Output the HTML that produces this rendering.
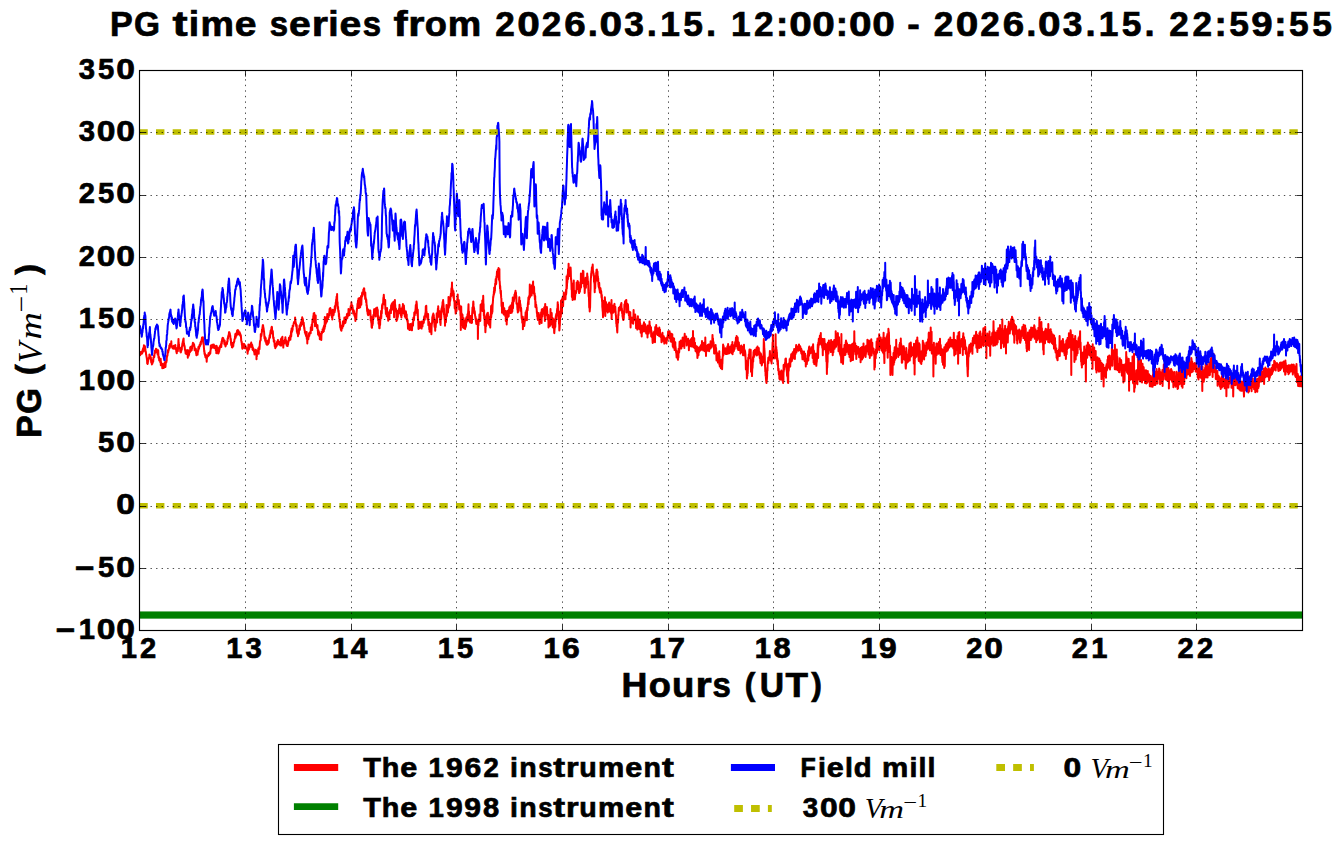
<!DOCTYPE html>
<html><head><meta charset="utf-8"><title>PG time series</title>
<style>
html,body{margin:0;padding:0;background:#fff;}
body{width:1341px;height:844px;overflow:hidden;}
svg{display:block;}
text{font-family:"Liberation Sans",sans-serif;font-weight:bold;fill:#000;}
.m{font-family:"Liberation Serif",serif;font-weight:normal;font-style:italic;}
.r{font-family:"Liberation Serif",serif;font-weight:normal;font-style:normal;}
</style></head><body>
<svg width="1341" height="844" viewBox="0 0 1341 844">
<rect width="1341" height="844" fill="#fff"/>
<defs><clipPath id="ax"><rect x="139.5" y="70.5" width="1163.0" height="560.0"/></clipPath></defs>
<g clip-path="url(#ax)" fill="none" stroke-linejoin="round">
<path d="M139.8 354.3 L139.9 353.3 L140.1 355.2 L140.2 353.3 L140.4 354.3 L140.6 354.5 L140.7 352.1 L140.9 352.4 L141.1 353.4 L141.2 353.2 L141.4 351.9 L141.6 353.2 L141.7 353.7 L141.9 352.7 L142.1 351.7 L142.2 353.3 L142.4 350.9 L142.6 350.0 L142.7 351.7 L142.9 350.7 L143.1 348.3 L143.2 350.0 L143.4 351.6 L143.6 347.7 L143.7 349.0 L143.9 345.2 L144.1 346.7 L144.2 347.3 L144.4 347.5 L144.6 349.1 L144.7 346.7 L144.9 346.1 L145.1 349.1 L145.2 348.0 L145.4 349.5 L145.6 351.6 L145.7 351.9 L145.9 351.8 L146.1 354.7 L146.2 354.5 L146.4 355.8 L146.6 357.3 L146.7 357.3 L146.9 359.2 L147.1 360.7 L147.2 363.4 L147.4 361.8 L147.6 363.3 L147.7 364.0 L147.9 362.2 L148.1 361.0 L148.2 361.2 L148.4 358.4 L148.6 359.3 L148.7 358.9 L148.9 357.8 L149.1 357.3 L149.2 358.4 L149.4 354.4 L149.6 355.5 L149.7 354.7 L149.9 357.2 L150.0 355.7 L150.2 356.6 L150.4 357.8 L150.5 358.1 L150.7 356.9 L150.9 357.8 L151.0 359.8 L151.2 362.3 L151.4 360.6 L151.5 361.2 L151.7 362.8 L151.9 364.4 L152.0 363.5 L152.2 363.7 L152.4 363.6 L152.5 362.4 L152.7 361.2 L152.9 361.0 L153.0 359.7 L153.2 361.8 L153.4 357.9 L153.5 357.2 L153.7 356.9 L153.9 356.3 L154.0 355.5 L154.2 357.2 L154.4 356.1 L154.5 353.1 L154.7 353.6 L154.9 353.3 L155.0 350.5 L155.2 351.8 L155.4 352.5 L155.5 352.2 L155.7 351.2 L155.9 352.1 L156.0 348.8 L156.2 350.2 L156.4 352.3 L156.5 349.1 L156.7 349.6 L156.9 352.0 L157.0 349.9 L157.2 350.1 L157.4 353.1 L157.5 353.3 L157.7 354.5 L157.9 353.6 L158.0 354.2 L158.2 350.3 L158.4 354.6 L158.5 357.7 L158.7 357.5 L158.9 356.7 L159.0 357.4 L159.2 360.5 L159.4 359.2 L159.5 359.2 L159.7 360.6 L159.8 360.7 L160.0 360.2 L160.2 359.2 L160.3 362.5 L160.5 361.9 L160.7 358.7 L160.8 365.2 L161.0 364.3 L161.2 362.3 L161.3 364.8 L161.5 364.0 L161.7 364.6 L161.8 364.9 L162.0 365.1 L162.2 365.3 L162.3 368.3 L162.5 367.2 L162.7 363.9 L162.8 366.7 L163.0 365.3 L163.2 364.4 L163.3 365.1 L163.5 367.4 L163.7 364.3 L163.8 367.9 L164.0 365.5 L164.2 367.1 L164.3 365.6 L164.5 366.6 L164.7 362.2 L164.8 365.6 L165.0 365.6 L165.2 364.5 L165.3 366.2 L165.5 367.0 L165.7 362.8 L165.8 361.9 L166.0 363.1 L166.2 361.0 L166.3 362.4 L166.5 359.7 L166.7 361.0 L166.8 356.1 L167.0 357.1 L167.2 355.8 L167.3 355.8 L167.5 355.3 L167.7 352.3 L167.8 351.4 L168.0 350.2 L168.2 352.4 L168.3 349.7 L168.5 351.2 L168.7 349.3 L168.8 349.9 L169.0 348.1 L169.2 348.3 L169.3 345.5 L169.5 346.0 L169.6 348.1 L169.8 346.7 L170.0 344.1 L170.1 344.4 L170.3 344.7 L170.5 344.5 L170.6 346.6 L170.8 346.6 L171.0 346.6 L171.1 344.5 L171.3 341.2 L171.5 346.4 L171.6 346.8 L171.8 346.9 L172.0 346.2 L172.1 346.1 L172.3 346.6 L172.5 346.5 L172.6 348.2 L172.8 347.1 L173.0 347.2 L173.1 346.4 L173.3 348.7 L173.5 347.9 L173.6 345.9 L173.8 345.7 L174.0 346.1 L174.1 346.3 L174.3 347.0 L174.5 345.9 L174.6 345.9 L174.8 348.2 L175.0 347.5 L175.1 349.0 L175.3 345.1 L175.5 346.9 L175.6 347.3 L175.8 348.6 L176.0 348.2 L176.1 349.0 L176.3 351.5 L176.5 352.1 L176.6 352.9 L176.8 353.2 L177.0 349.2 L177.1 350.3 L177.3 350.6 L177.5 349.7 L177.6 347.8 L177.8 351.1 L178.0 348.4 L178.1 345.8 L178.3 343.5 L178.5 338.9 L178.6 342.7 L178.8 345.1 L179.0 344.2 L179.1 347.0 L179.3 346.9 L179.4 347.3 L179.6 347.8 L179.8 348.9 L179.9 347.7 L180.1 349.4 L180.3 351.7 L180.4 351.3 L180.6 351.9 L180.8 351.1 L180.9 352.4 L181.1 351.2 L181.3 349.0 L181.4 350.7 L181.6 348.2 L181.8 349.4 L181.9 346.8 L182.1 346.1 L182.3 344.3 L182.4 343.6 L182.6 342.9 L182.8 342.3 L182.9 341.2 L183.1 341.6 L183.3 339.2 L183.4 340.8 L183.6 338.5 L183.8 345.1 L183.9 343.0 L184.1 344.1 L184.3 346.3 L184.4 345.6 L184.6 346.0 L184.8 347.9 L184.9 349.4 L185.1 350.1 L185.3 351.1 L185.4 350.8 L185.6 353.4 L185.8 349.7 L185.9 352.1 L186.1 352.2 L186.3 353.9 L186.4 350.8 L186.6 353.8 L186.8 352.8 L186.9 352.0 L187.1 352.3 L187.3 354.0 L187.4 351.6 L187.6 353.2 L187.8 357.8 L187.9 350.0 L188.1 352.2 L188.3 351.9 L188.4 353.7 L188.6 351.3 L188.8 355.6 L188.9 353.6 L189.1 354.6 L189.2 352.7 L189.4 352.4 L189.6 351.0 L189.7 352.5 L189.9 351.9 L190.1 352.1 L190.2 347.2 L190.4 350.6 L190.6 351.4 L190.7 350.9 L190.9 350.5 L191.1 350.6 L191.2 346.6 L191.4 350.4 L191.6 348.6 L191.7 350.2 L191.9 348.1 L192.1 348.5 L192.2 346.4 L192.4 346.3 L192.6 344.9 L192.7 344.2 L192.9 342.8 L193.1 343.2 L193.2 344.3 L193.4 344.1 L193.6 343.5 L193.7 344.5 L193.9 345.2 L194.1 344.4 L194.2 345.7 L194.4 346.2 L194.6 350.2 L194.7 347.5 L194.9 349.5 L195.1 348.6 L195.2 349.3 L195.4 350.3 L195.6 350.9 L195.7 350.0 L195.9 349.0 L196.1 353.5 L196.2 351.0 L196.4 355.2 L196.6 353.8 L196.7 355.2 L196.9 353.4 L197.1 354.0 L197.2 351.5 L197.4 354.6 L197.6 354.6 L197.7 352.6 L197.9 350.4 L198.1 351.7 L198.2 349.5 L198.4 346.9 L198.6 349.8 L198.7 349.2 L198.9 346.6 L199.0 348.8 L199.2 347.8 L199.4 345.8 L199.5 346.2 L199.7 344.6 L199.9 345.6 L200.0 345.8 L200.2 345.8 L200.4 344.3 L200.5 342.5 L200.7 342.4 L200.9 344.1 L201.0 341.4 L201.2 341.9 L201.4 341.4 L201.5 341.0 L201.7 339.3 L201.9 338.9 L202.0 337.4 L202.2 338.6 L202.4 337.9 L202.5 338.5 L202.7 337.7 L202.9 337.4 L203.0 340.0 L203.2 341.9 L203.4 343.8 L203.5 343.7 L203.7 343.5 L203.9 347.5 L204.0 348.4 L204.2 351.7 L204.4 350.8 L204.5 353.9 L204.7 353.1 L204.9 353.4 L205.0 355.4 L205.2 355.5 L205.4 357.0 L205.5 357.0 L205.7 354.8 L205.9 357.6 L206.0 357.2 L206.2 358.0 L206.4 358.4 L206.5 357.8 L206.7 361.8 L206.9 355.8 L207.0 358.2 L207.2 355.5 L207.4 356.0 L207.5 355.6 L207.7 356.2 L207.9 355.3 L208.0 356.2 L208.2 356.0 L208.4 355.5 L208.5 353.2 L208.7 355.5 L208.8 355.4 L209.0 354.3 L209.2 355.0 L209.3 354.7 L209.5 352.5 L209.7 354.3 L209.8 352.7 L210.0 352.8 L210.2 351.4 L210.3 353.4 L210.5 350.6 L210.7 349.5 L210.8 345.4 L211.0 348.2 L211.2 347.0 L211.3 346.4 L211.5 347.9 L211.7 348.1 L211.8 346.8 L212.0 346.8 L212.2 344.7 L212.3 346.9 L212.5 344.8 L212.7 344.7 L212.8 345.6 L213.0 345.6 L213.2 346.6 L213.3 346.8 L213.5 346.3 L213.7 347.7 L213.8 344.5 L214.0 345.3 L214.2 346.9 L214.3 348.0 L214.5 347.2 L214.7 346.0 L214.8 347.3 L215.0 346.5 L215.2 346.6 L215.3 346.8 L215.5 346.9 L215.7 349.1 L215.8 350.1 L216.0 349.2 L216.2 345.7 L216.3 353.3 L216.5 348.2 L216.7 350.5 L216.8 346.1 L217.0 350.5 L217.2 351.4 L217.3 350.8 L217.5 350.1 L217.7 347.7 L217.8 352.0 L218.0 353.1 L218.2 353.4 L218.3 351.9 L218.5 353.4 L218.6 352.6 L218.8 352.5 L219.0 351.2 L219.1 351.6 L219.3 349.9 L219.5 349.6 L219.6 348.0 L219.8 346.2 L220.0 347.9 L220.1 347.4 L220.3 346.0 L220.5 345.4 L220.6 345.7 L220.8 346.4 L221.0 344.0 L221.1 344.7 L221.3 346.9 L221.5 341.7 L221.6 342.1 L221.8 343.8 L222.0 339.9 L222.1 340.7 L222.3 338.5 L222.5 338.2 L222.6 337.9 L222.8 338.5 L223.0 339.1 L223.1 337.9 L223.3 338.3 L223.5 339.6 L223.6 340.8 L223.8 339.7 L224.0 341.1 L224.1 341.0 L224.3 343.2 L224.5 344.4 L224.6 340.4 L224.8 342.2 L225.0 344.6 L225.1 344.3 L225.3 342.9 L225.5 346.4 L225.6 346.2 L225.8 345.0 L226.0 343.4 L226.1 343.9 L226.3 343.1 L226.5 343.2 L226.6 344.4 L226.8 344.2 L227.0 343.5 L227.1 341.5 L227.3 341.2 L227.5 341.7 L227.6 338.6 L227.8 338.1 L228.0 338.8 L228.1 336.6 L228.3 336.7 L228.4 335.3 L228.6 335.3 L228.8 335.0 L228.9 333.0 L229.1 332.1 L229.3 332.3 L229.4 334.7 L229.6 333.5 L229.8 333.3 L229.9 336.3 L230.1 334.8 L230.3 336.2 L230.4 337.6 L230.6 339.9 L230.8 338.8 L230.9 340.1 L231.1 343.8 L231.3 345.1 L231.4 342.6 L231.6 342.6 L231.8 342.8 L231.9 347.2 L232.1 344.8 L232.3 347.4 L232.4 344.0 L232.6 345.9 L232.8 346.9 L232.9 346.4 L233.1 345.4 L233.3 346.1 L233.4 343.8 L233.6 342.2 L233.8 342.2 L233.9 342.9 L234.1 341.4 L234.3 341.5 L234.4 339.9 L234.6 339.4 L234.8 338.6 L234.9 337.9 L235.1 336.8 L235.3 334.1 L235.4 337.6 L235.6 337.8 L235.8 335.7 L235.9 336.1 L236.1 334.3 L236.3 334.5 L236.4 335.7 L236.6 332.5 L236.8 334.9 L236.9 334.2 L237.1 330.5 L237.3 332.4 L237.4 334.6 L237.6 331.1 L237.8 332.2 L237.9 330.0 L238.1 332.7 L238.2 332.6 L238.4 333.6 L238.6 331.1 L238.7 332.6 L238.9 333.2 L239.1 332.0 L239.2 333.1 L239.4 334.7 L239.6 333.3 L239.7 332.2 L239.9 334.0 L240.1 333.7 L240.2 333.7 L240.4 335.8 L240.6 334.8 L240.7 335.0 L240.9 335.8 L241.1 338.4 L241.2 340.9 L241.4 341.2 L241.6 342.5 L241.7 341.5 L241.9 344.9 L242.1 344.6 L242.2 347.7 L242.4 348.8 L242.6 347.2 L242.7 343.5 L242.9 348.1 L243.1 347.1 L243.2 346.7 L243.4 346.0 L243.6 345.9 L243.7 347.2 L243.9 346.6 L244.1 347.7 L244.2 344.1 L244.4 346.3 L244.6 348.2 L244.7 347.2 L244.9 345.1 L245.1 347.3 L245.2 346.2 L245.4 346.4 L245.6 346.6 L245.7 346.3 L245.9 347.7 L246.1 348.6 L246.2 348.1 L246.4 347.9 L246.6 349.0 L246.7 347.9 L246.9 349.0 L247.1 349.0 L247.2 350.9 L247.4 350.2 L247.6 353.7 L247.7 350.8 L247.9 351.9 L248.0 350.2 L248.2 349.7 L248.4 344.5 L248.5 350.1 L248.7 348.1 L248.9 348.4 L249.0 348.6 L249.2 349.0 L249.4 345.3 L249.5 347.5 L249.7 347.1 L249.9 345.7 L250.0 345.9 L250.2 346.0 L250.4 346.2 L250.5 344.1 L250.7 344.1 L250.9 346.7 L251.0 344.1 L251.2 342.5 L251.4 345.6 L251.5 344.8 L251.7 344.9 L251.9 344.5 L252.0 347.2 L252.2 344.9 L252.4 346.2 L252.5 349.4 L252.7 347.4 L252.9 347.5 L253.0 350.2 L253.2 349.4 L253.4 349.2 L253.5 348.7 L253.7 350.5 L253.9 350.3 L254.0 352.0 L254.2 350.9 L254.4 353.2 L254.5 354.4 L254.7 354.3 L254.9 352.1 L255.0 351.8 L255.2 351.2 L255.4 351.1 L255.5 352.5 L255.7 349.8 L255.9 352.0 L256.0 351.8 L256.2 350.3 L256.4 352.3 L256.5 359.3 L256.7 352.9 L256.9 356.3 L257.0 352.1 L257.2 351.4 L257.4 352.5 L257.5 351.9 L257.7 353.1 L257.8 350.9 L258.0 351.7 L258.2 349.6 L258.3 348.2 L258.5 349.8 L258.7 353.7 L258.8 349.4 L259.0 348.2 L259.2 347.5 L259.3 346.7 L259.5 349.1 L259.7 345.6 L259.8 344.1 L260.0 341.7 L260.2 341.2 L260.3 340.5 L260.5 340.6 L260.7 340.0 L260.8 334.1 L261.0 335.5 L261.2 336.6 L261.3 335.5 L261.5 335.3 L261.7 333.5 L261.8 332.6 L262.0 329.6 L262.2 329.3 L262.3 329.4 L262.5 327.2 L262.7 326.1 L262.8 325.2 L263.0 325.1 L263.2 326.2 L263.3 327.9 L263.5 327.8 L263.7 329.2 L263.8 331.8 L264.0 331.0 L264.2 333.4 L264.3 335.4 L264.5 338.5 L264.7 336.9 L264.8 336.4 L265.0 338.0 L265.2 341.0 L265.3 339.0 L265.5 341.7 L265.7 338.1 L265.8 339.2 L266.0 340.7 L266.2 341.9 L266.3 343.9 L266.5 340.5 L266.7 342.7 L266.8 344.3 L267.0 344.7 L267.2 343.9 L267.3 344.8 L267.5 343.8 L267.6 344.6 L267.8 344.4 L268.0 342.5 L268.1 343.8 L268.3 341.6 L268.5 340.0 L268.6 342.1 L268.8 343.0 L269.0 339.0 L269.1 339.1 L269.3 337.5 L269.5 338.1 L269.6 335.8 L269.8 335.0 L270.0 337.6 L270.1 336.5 L270.3 332.7 L270.5 333.3 L270.6 330.7 L270.8 333.3 L271.0 330.1 L271.1 329.7 L271.3 330.0 L271.5 327.2 L271.6 328.9 L271.8 326.7 L272.0 327.6 L272.1 330.8 L272.3 332.7 L272.5 332.9 L272.6 334.1 L272.8 331.1 L273.0 334.0 L273.1 337.1 L273.3 338.4 L273.5 338.2 L273.6 337.4 L273.8 341.6 L274.0 340.0 L274.1 341.3 L274.3 341.3 L274.5 340.8 L274.6 344.7 L274.8 346.4 L275.0 346.5 L275.1 345.6 L275.3 348.2 L275.5 346.6 L275.6 343.7 L275.8 346.3 L276.0 347.0 L276.1 343.6 L276.3 344.8 L276.5 344.8 L276.6 344.6 L276.8 345.8 L277.0 342.2 L277.1 341.8 L277.3 342.6 L277.4 343.2 L277.6 341.6 L277.8 340.3 L277.9 340.0 L278.1 344.3 L278.3 342.3 L278.4 341.5 L278.6 341.4 L278.8 343.1 L278.9 343.0 L279.1 343.0 L279.3 342.6 L279.4 343.4 L279.6 344.7 L279.8 342.6 L279.9 344.6 L280.1 341.7 L280.3 344.7 L280.4 345.4 L280.6 343.7 L280.8 341.9 L280.9 339.0 L281.1 345.6 L281.3 339.9 L281.4 339.9 L281.6 338.0 L281.8 338.8 L281.9 339.2 L282.1 337.6 L282.3 341.3 L282.4 336.7 L282.6 341.7 L282.8 342.2 L282.9 342.0 L283.1 344.1 L283.3 347.6 L283.4 344.8 L283.6 344.6 L283.8 342.8 L283.9 343.2 L284.1 340.8 L284.3 343.2 L284.4 340.9 L284.6 341.0 L284.8 340.4 L284.9 339.6 L285.1 338.9 L285.3 338.2 L285.4 337.3 L285.6 340.2 L285.8 340.0 L285.9 340.1 L286.1 340.3 L286.3 344.3 L286.4 342.3 L286.6 345.5 L286.8 345.5 L286.9 343.8 L287.1 345.9 L287.2 344.8 L287.4 344.7 L287.6 344.6 L287.7 346.0 L287.9 342.5 L288.1 344.5 L288.2 341.1 L288.4 342.0 L288.6 342.0 L288.7 341.1 L288.9 337.7 L289.1 339.5 L289.2 337.7 L289.4 340.2 L289.6 338.8 L289.7 337.3 L289.9 339.4 L290.1 338.3 L290.2 335.8 L290.4 339.7 L290.6 335.5 L290.7 336.1 L290.9 333.5 L291.1 331.1 L291.2 336.4 L291.4 332.5 L291.6 328.5 L291.7 330.6 L291.9 329.8 L292.1 331.7 L292.2 329.3 L292.4 328.7 L292.6 329.9 L292.7 325.4 L292.9 326.4 L293.1 325.9 L293.2 326.3 L293.4 325.1 L293.6 324.4 L293.7 323.2 L293.9 322.6 L294.1 323.4 L294.2 321.7 L294.4 322.1 L294.6 323.0 L294.7 321.9 L294.9 322.2 L295.1 317.6 L295.2 319.1 L295.4 320.5 L295.6 322.3 L295.7 323.1 L295.9 323.1 L296.1 325.8 L296.2 326.3 L296.4 325.0 L296.6 328.1 L296.7 324.9 L296.9 332.0 L297.0 329.9 L297.2 331.3 L297.4 333.4 L297.5 331.6 L297.7 331.5 L297.9 334.0 L298.0 336.2 L298.2 334.7 L298.4 331.3 L298.5 331.5 L298.7 333.5 L298.9 333.9 L299.0 328.8 L299.2 329.3 L299.4 329.1 L299.5 325.8 L299.7 328.7 L299.9 329.7 L300.0 327.3 L300.2 324.6 L300.4 324.8 L300.5 325.0 L300.7 323.1 L300.9 322.7 L301.0 322.4 L301.2 323.6 L301.4 325.8 L301.5 321.9 L301.7 320.1 L301.9 320.2 L302.0 319.6 L302.2 317.3 L302.4 320.0 L302.5 318.2 L302.7 320.3 L302.9 319.3 L303.0 320.9 L303.2 324.1 L303.4 323.0 L303.5 322.7 L303.7 322.6 L303.9 325.3 L304.0 325.6 L304.2 328.5 L304.4 327.8 L304.5 330.2 L304.7 330.1 L304.9 332.7 L305.0 333.1 L305.2 332.4 L305.4 332.5 L305.5 333.9 L305.7 334.7 L305.9 333.8 L306.0 336.0 L306.2 334.6 L306.4 331.9 L306.5 336.9 L306.7 332.0 L306.8 339.0 L307.0 336.7 L307.2 337.2 L307.3 343.5 L307.5 336.4 L307.7 339.9 L307.8 338.5 L308.0 338.1 L308.2 339.1 L308.3 339.4 L308.5 337.3 L308.7 336.9 L308.8 335.4 L309.0 333.6 L309.2 333.0 L309.3 335.9 L309.5 334.1 L309.7 332.4 L309.8 332.9 L310.0 333.6 L310.2 332.1 L310.3 332.7 L310.5 332.7 L310.7 333.2 L310.8 327.2 L311.0 330.0 L311.2 330.2 L311.3 329.6 L311.5 329.2 L311.7 324.6 L311.8 324.5 L312.0 326.7 L312.2 330.0 L312.3 323.0 L312.5 320.4 L312.7 318.9 L312.8 321.4 L313.0 322.1 L313.2 319.9 L313.3 316.1 L313.5 317.4 L313.7 313.3 L313.8 313.5 L314.0 313.5 L314.2 313.5 L314.3 313.0 L314.5 317.7 L314.7 318.7 L314.8 315.2 L315.0 326.2 L315.2 321.6 L315.3 320.0 L315.5 320.9 L315.7 315.6 L315.8 324.2 L316.0 322.7 L316.2 325.7 L316.3 325.4 L316.5 325.7 L316.6 326.0 L316.8 324.8 L317.0 327.9 L317.1 328.1 L317.3 326.4 L317.5 325.3 L317.6 327.7 L317.8 330.6 L318.0 331.7 L318.1 334.6 L318.3 330.2 L318.5 331.3 L318.6 333.3 L318.8 332.9 L319.0 332.0 L319.1 335.7 L319.3 336.3 L319.5 335.0 L319.6 335.3 L319.8 339.2 L320.0 336.9 L320.1 335.6 L320.3 338.7 L320.5 334.1 L320.6 337.0 L320.8 336.0 L321.0 335.0 L321.1 335.1 L321.3 340.0 L321.5 333.2 L321.6 331.7 L321.8 333.6 L322.0 333.0 L322.1 332.3 L322.3 332.2 L322.5 330.9 L322.6 329.3 L322.8 329.3 L323.0 332.1 L323.1 330.4 L323.3 330.6 L323.5 327.2 L323.6 330.8 L323.8 331.4 L324.0 326.3 L324.1 325.6 L324.3 326.1 L324.5 329.0 L324.6 328.1 L324.8 317.0 L325.0 326.7 L325.1 326.4 L325.3 322.6 L325.5 324.3 L325.6 322.3 L325.8 323.0 L326.0 323.2 L326.1 320.7 L326.3 318.0 L326.4 322.5 L326.6 321.5 L326.8 316.9 L326.9 321.5 L327.1 321.2 L327.3 313.9 L327.4 319.0 L327.6 316.9 L327.8 317.6 L327.9 318.9 L328.1 317.0 L328.3 316.3 L328.4 314.6 L328.6 317.2 L328.8 315.3 L328.9 315.6 L329.1 315.5 L329.3 311.9 L329.4 312.9 L329.6 308.9 L329.8 313.3 L329.9 308.5 L330.1 312.0 L330.3 308.1 L330.4 311.8 L330.6 308.7 L330.8 312.8 L330.9 313.4 L331.1 310.3 L331.3 315.4 L331.4 314.9 L331.6 312.1 L331.8 312.9 L331.9 317.2 L332.1 312.2 L332.3 319.4 L332.4 316.0 L332.6 311.9 L332.8 309.7 L332.9 315.3 L333.1 314.0 L333.3 312.8 L333.4 315.3 L333.6 314.9 L333.8 311.5 L333.9 311.1 L334.1 311.1 L334.3 310.8 L334.4 310.5 L334.6 312.2 L334.8 306.3 L334.9 311.0 L335.1 308.7 L335.3 305.5 L335.4 306.8 L335.6 305.1 L335.8 302.3 L335.9 304.6 L336.1 300.8 L336.2 299.4 L336.4 299.8 L336.6 296.6 L336.7 299.2 L336.9 301.5 L337.1 294.1 L337.2 300.8 L337.4 303.1 L337.6 302.2 L337.7 308.7 L337.9 307.5 L338.1 306.9 L338.2 310.2 L338.4 311.8 L338.6 310.6 L338.7 311.5 L338.9 316.7 L339.1 313.7 L339.2 318.7 L339.4 317.1 L339.6 321.8 L339.7 320.8 L339.9 321.0 L340.1 324.4 L340.2 327.1 L340.4 325.1 L340.6 328.4 L340.7 328.3 L340.9 330.0 L341.1 327.3 L341.2 327.1 L341.4 330.8 L341.6 329.4 L341.7 326.3 L341.9 327.3 L342.1 326.3 L342.2 325.7 L342.4 327.9 L342.6 325.4 L342.7 323.7 L342.9 321.7 L343.1 321.2 L343.2 326.1 L343.4 323.7 L343.6 324.2 L343.7 324.7 L343.9 321.1 L344.1 321.1 L344.2 321.3 L344.4 317.6 L344.6 317.8 L344.7 319.5 L344.9 318.5 L345.1 319.3 L345.2 320.6 L345.4 322.9 L345.6 321.7 L345.7 317.6 L345.9 317.1 L346.0 320.3 L346.2 317.9 L346.4 318.8 L346.5 318.2 L346.7 318.8 L346.9 314.2 L347.0 317.6 L347.2 313.8 L347.4 318.0 L347.5 315.0 L347.7 314.3 L347.9 316.3 L348.0 315.9 L348.2 314.4 L348.4 315.6 L348.5 309.0 L348.7 313.9 L348.9 313.9 L349.0 312.3 L349.2 314.0 L349.4 315.3 L349.5 315.0 L349.7 310.2 L349.9 309.3 L350.0 309.3 L350.2 310.6 L350.4 309.9 L350.5 308.8 L350.7 306.1 L350.9 307.1 L351.0 308.6 L351.2 309.1 L351.4 302.2 L351.5 305.6 L351.7 304.4 L351.9 306.3 L352.0 305.6 L352.2 306.3 L352.4 305.6 L352.5 308.1 L352.7 307.6 L352.9 311.4 L353.0 310.0 L353.2 313.6 L353.4 311.7 L353.5 311.9 L353.7 310.2 L353.9 310.8 L354.0 313.2 L354.2 311.9 L354.4 315.8 L354.5 314.3 L354.7 313.9 L354.9 315.6 L355.0 317.2 L355.2 316.6 L355.4 321.0 L355.5 320.1 L355.7 318.3 L355.8 317.8 L356.0 313.7 L356.2 318.8 L356.3 318.1 L356.5 314.2 L356.7 311.5 L356.8 310.8 L357.0 308.4 L357.2 308.0 L357.3 307.6 L357.5 303.8 L357.7 304.2 L357.8 303.7 L358.0 300.5 L358.2 300.9 L358.3 303.2 L358.5 298.4 L358.7 307.9 L358.8 303.6 L359.0 304.9 L359.2 306.2 L359.3 297.9 L359.5 307.8 L359.7 306.8 L359.8 300.6 L360.0 302.2 L360.2 307.3 L360.3 303.8 L360.5 303.9 L360.7 300.7 L360.8 302.0 L361.0 296.1 L361.2 296.9 L361.3 304.7 L361.5 298.9 L361.7 296.2 L361.8 297.2 L362.0 294.2 L362.2 292.5 L362.3 296.1 L362.5 293.3 L362.7 293.6 L362.8 295.0 L363.0 292.7 L363.2 293.5 L363.3 289.8 L363.5 289.3 L363.7 290.8 L363.8 291.7 L364.0 288.3 L364.2 288.4 L364.3 290.6 L364.5 292.8 L364.7 293.9 L364.8 292.2 L365.0 295.5 L365.2 299.0 L365.3 292.5 L365.5 297.8 L365.6 298.3 L365.8 298.0 L366.0 300.7 L366.1 302.3 L366.3 299.7 L366.5 303.5 L366.6 305.8 L366.8 305.3 L367.0 307.8 L367.1 310.5 L367.3 311.5 L367.5 311.6 L367.6 313.1 L367.8 314.4 L368.0 312.1 L368.1 315.2 L368.3 309.6 L368.5 312.8 L368.6 312.9 L368.8 312.9 L369.0 311.2 L369.1 313.2 L369.3 310.8 L369.5 311.9 L369.6 311.1 L369.8 314.6 L370.0 313.6 L370.1 311.7 L370.3 310.6 L370.5 314.1 L370.6 315.9 L370.8 320.7 L371.0 320.1 L371.1 316.5 L371.3 323.0 L371.5 323.2 L371.6 327.1 L371.8 326.4 L372.0 327.8 L372.1 324.3 L372.3 323.5 L372.5 325.1 L372.6 324.0 L372.8 323.7 L373.0 316.7 L373.1 318.3 L373.3 315.1 L373.5 318.5 L373.6 316.6 L373.8 316.1 L374.0 313.3 L374.1 309.3 L374.3 313.7 L374.5 315.1 L374.6 311.1 L374.8 313.5 L375.0 312.0 L375.1 313.2 L375.3 310.2 L375.4 308.8 L375.6 313.0 L375.8 316.5 L375.9 308.3 L376.1 308.8 L376.3 311.0 L376.4 309.4 L376.6 311.9 L376.8 309.3 L376.9 311.1 L377.1 307.6 L377.3 308.8 L377.4 311.8 L377.6 310.5 L377.8 310.0 L377.9 316.8 L378.1 320.2 L378.3 316.4 L378.4 316.0 L378.6 323.8 L378.8 321.7 L378.9 325.0 L379.1 324.5 L379.3 328.2 L379.4 321.9 L379.6 328.3 L379.8 321.6 L379.9 323.9 L380.1 325.0 L380.3 317.5 L380.4 320.2 L380.6 317.0 L380.8 317.9 L380.9 317.3 L381.1 311.0 L381.3 317.9 L381.4 310.8 L381.6 313.8 L381.8 313.2 L381.9 308.1 L382.1 305.0 L382.3 308.6 L382.4 308.5 L382.6 303.9 L382.8 303.6 L382.9 303.5 L383.1 304.4 L383.3 298.6 L383.4 298.4 L383.6 297.3 L383.8 294.8 L383.9 296.8 L384.1 299.3 L384.3 300.8 L384.4 304.4 L384.6 303.8 L384.8 301.8 L384.9 303.8 L385.1 304.7 L385.2 300.1 L385.4 309.0 L385.6 309.7 L385.7 308.1 L385.9 313.9 L386.1 310.5 L386.2 308.1 L386.4 310.5 L386.6 313.9 L386.7 316.0 L386.9 316.4 L387.1 307.9 L387.2 316.0 L387.4 311.2 L387.6 315.8 L387.7 312.3 L387.9 317.3 L388.1 318.3 L388.2 320.8 L388.4 317.2 L388.6 319.9 L388.7 318.4 L388.9 318.1 L389.1 314.1 L389.2 312.4 L389.4 318.9 L389.6 312.0 L389.7 312.3 L389.9 312.0 L390.1 310.1 L390.2 312.0 L390.4 310.9 L390.6 309.5 L390.7 309.7 L390.9 313.1 L391.1 305.5 L391.2 306.8 L391.4 308.3 L391.6 304.2 L391.7 307.5 L391.9 304.7 L392.1 303.3 L392.2 307.4 L392.4 309.6 L392.6 304.2 L392.7 308.7 L392.9 308.6 L393.1 306.0 L393.2 306.0 L393.4 301.7 L393.6 306.6 L393.7 309.0 L393.9 309.3 L394.1 317.3 L394.2 306.9 L394.4 304.8 L394.6 307.8 L394.7 307.4 L394.9 300.0 L395.0 305.9 L395.2 304.7 L395.4 311.2 L395.5 308.7 L395.7 311.2 L395.9 308.4 L396.0 312.0 L396.2 309.7 L396.4 314.4 L396.5 320.9 L396.7 319.2 L396.9 317.7 L397.0 316.5 L397.2 319.6 L397.4 317.8 L397.5 316.3 L397.7 313.5 L397.9 317.0 L398.0 310.5 L398.2 312.2 L398.4 312.0 L398.5 311.0 L398.7 313.5 L398.9 312.8 L399.0 308.8 L399.2 311.1 L399.4 308.2 L399.5 304.8 L399.7 307.9 L399.9 308.6 L400.0 311.2 L400.2 310.8 L400.4 309.4 L400.5 308.4 L400.7 314.5 L400.9 315.7 L401.0 312.5 L401.2 315.9 L401.4 317.5 L401.5 312.0 L401.7 315.8 L401.9 311.8 L402.0 311.6 L402.2 309.1 L402.4 307.1 L402.5 308.7 L402.7 313.0 L402.9 304.0 L403.0 307.6 L403.2 307.1 L403.4 307.2 L403.5 307.5 L403.7 308.5 L403.9 305.5 L404.0 307.6 L404.2 309.6 L404.4 314.4 L404.5 312.5 L404.7 311.7 L404.8 316.6 L405.0 314.2 L405.2 314.6 L405.3 313.9 L405.5 317.6 L405.7 315.2 L405.8 311.3 L406.0 312.3 L406.2 315.2 L406.3 318.4 L406.5 317.4 L406.7 314.6 L406.8 319.8 L407.0 319.9 L407.2 318.7 L407.3 320.1 L407.5 321.9 L407.7 320.3 L407.8 323.8 L408.0 328.7 L408.2 323.8 L408.3 327.8 L408.5 326.3 L408.7 324.8 L408.8 327.3 L409.0 327.9 L409.2 329.1 L409.3 329.6 L409.5 330.0 L409.7 326.4 L409.8 325.9 L410.0 329.8 L410.2 324.1 L410.3 329.4 L410.5 329.5 L410.7 329.2 L410.8 324.8 L411.0 326.5 L411.2 324.6 L411.3 330.1 L411.5 325.8 L411.7 326.1 L411.8 329.0 L412.0 330.3 L412.2 323.2 L412.3 323.6 L412.5 323.3 L412.7 325.0 L412.8 324.0 L413.0 325.6 L413.2 320.1 L413.3 318.4 L413.5 317.5 L413.7 320.4 L413.8 319.2 L414.0 320.1 L414.2 315.2 L414.3 312.4 L414.5 313.4 L414.6 312.8 L414.8 315.3 L415.0 311.7 L415.1 312.9 L415.3 311.2 L415.5 309.6 L415.6 308.8 L415.8 305.0 L416.0 308.2 L416.1 312.8 L416.3 305.6 L416.5 301.6 L416.6 302.3 L416.8 304.1 L417.0 308.6 L417.1 308.1 L417.3 312.0 L417.5 315.4 L417.6 313.3 L417.8 309.7 L418.0 320.3 L418.1 319.3 L418.3 321.2 L418.5 328.9 L418.6 322.2 L418.8 325.1 L419.0 322.5 L419.1 325.6 L419.3 328.2 L419.5 323.7 L419.6 326.3 L419.8 322.1 L420.0 323.2 L420.1 327.7 L420.3 323.9 L420.5 323.4 L420.6 326.4 L420.8 326.7 L421.0 326.5 L421.1 322.0 L421.3 321.6 L421.5 326.0 L421.6 328.6 L421.8 322.2 L422.0 324.9 L422.1 323.7 L422.3 324.8 L422.5 326.5 L422.6 321.9 L422.8 323.4 L423.0 322.9 L423.1 321.1 L423.3 323.4 L423.5 323.0 L423.6 321.0 L423.8 322.7 L424.0 318.0 L424.1 317.8 L424.3 316.3 L424.4 319.4 L424.6 316.4 L424.8 319.8 L424.9 316.9 L425.1 315.3 L425.3 313.8 L425.4 312.9 L425.6 314.8 L425.8 306.3 L425.9 313.8 L426.1 311.5 L426.3 305.8 L426.4 312.0 L426.6 311.7 L426.8 315.5 L426.9 316.9 L427.1 317.3 L427.3 315.3 L427.4 317.3 L427.6 319.3 L427.8 316.9 L427.9 316.4 L428.1 313.9 L428.3 322.4 L428.4 325.1 L428.6 322.8 L428.8 324.9 L428.9 321.6 L429.1 323.8 L429.3 329.4 L429.4 323.0 L429.6 331.8 L429.8 325.7 L429.9 323.4 L430.1 327.6 L430.3 328.3 L430.4 330.2 L430.6 331.7 L430.8 329.1 L430.9 330.7 L431.1 329.2 L431.3 329.0 L431.4 334.3 L431.6 326.8 L431.8 324.1 L431.9 323.2 L432.1 323.1 L432.3 317.1 L432.4 320.9 L432.6 317.5 L432.8 315.1 L432.9 317.9 L433.1 320.9 L433.3 313.5 L433.4 316.4 L433.6 316.7 L433.8 314.9 L433.9 322.1 L434.1 321.3 L434.2 318.0 L434.4 324.5 L434.6 327.0 L434.7 323.2 L434.9 324.5 L435.1 326.6 L435.2 330.8 L435.4 324.9 L435.6 327.4 L435.7 327.3 L435.9 323.7 L436.1 322.5 L436.2 320.3 L436.4 319.5 L436.6 319.6 L436.7 313.2 L436.9 319.1 L437.1 322.6 L437.2 317.9 L437.4 313.1 L437.6 313.5 L437.7 312.1 L437.9 308.5 L438.1 316.9 L438.2 306.3 L438.4 311.3 L438.6 311.6 L438.7 311.1 L438.9 316.2 L439.1 312.3 L439.2 312.3 L439.4 316.0 L439.6 315.7 L439.7 311.2 L439.9 315.0 L440.1 316.1 L440.2 323.1 L440.4 318.1 L440.6 324.9 L440.7 316.6 L440.9 315.5 L441.1 319.4 L441.2 318.6 L441.4 309.1 L441.6 313.0 L441.7 307.9 L441.9 311.9 L442.1 306.1 L442.2 308.0 L442.4 305.6 L442.6 302.0 L442.7 306.6 L442.9 304.4 L443.1 300.0 L443.2 302.0 L443.4 303.3 L443.6 305.3 L443.7 308.1 L443.9 314.1 L444.0 308.6 L444.2 314.4 L444.4 317.2 L444.5 314.6 L444.7 319.1 L444.9 320.8 L445.0 325.8 L445.2 319.5 L445.4 320.9 L445.5 318.1 L445.7 315.7 L445.9 322.2 L446.0 320.4 L446.2 313.9 L446.4 314.1 L446.5 305.1 L446.7 315.0 L446.9 316.0 L447.0 311.9 L447.2 312.9 L447.4 310.5 L447.5 308.5 L447.7 308.7 L447.9 312.5 L448.0 312.3 L448.2 307.5 L448.4 305.6 L448.5 297.0 L448.7 307.8 L448.9 307.3 L449.0 301.8 L449.2 303.7 L449.4 302.9 L449.5 302.4 L449.7 305.4 L449.9 299.1 L450.0 301.2 L450.2 300.8 L450.4 299.2 L450.5 296.1 L450.7 296.0 L450.9 293.7 L451.0 296.3 L451.2 295.9 L451.4 288.6 L451.5 290.7 L451.7 288.2 L451.9 286.0 L452.0 282.5 L452.2 295.1 L452.4 290.8 L452.5 289.0 L452.7 295.5 L452.9 291.3 L453.0 295.8 L453.2 294.1 L453.4 291.1 L453.5 297.6 L453.7 298.3 L453.8 293.3 L454.0 300.2 L454.2 300.7 L454.3 301.5 L454.5 301.9 L454.7 308.1 L454.8 305.8 L455.0 300.9 L455.2 307.3 L455.3 309.6 L455.5 310.3 L455.7 313.6 L455.8 312.2 L456.0 310.9 L456.2 307.3 L456.3 310.4 L456.5 311.1 L456.7 307.0 L456.8 302.4 L457.0 302.2 L457.2 303.9 L457.3 298.9 L457.5 301.0 L457.7 294.4 L457.8 298.1 L458.0 303.2 L458.2 303.4 L458.3 302.1 L458.5 303.9 L458.7 304.2 L458.8 300.1 L459.0 303.2 L459.2 309.4 L459.3 305.3 L459.5 307.2 L459.7 305.6 L459.8 306.5 L460.0 308.2 L460.2 307.8 L460.3 308.6 L460.5 315.4 L460.7 309.2 L460.8 329.9 L461.0 316.1 L461.2 306.5 L461.3 312.9 L461.5 325.0 L461.7 315.6 L461.8 313.6 L462.0 317.0 L462.2 319.0 L462.3 317.0 L462.5 314.7 L462.7 320.9 L462.8 318.8 L463.0 327.4 L463.2 322.8 L463.3 321.6 L463.5 318.0 L463.6 322.4 L463.8 321.9 L464.0 328.2 L464.1 320.8 L464.3 322.3 L464.5 321.4 L464.6 323.1 L464.8 323.0 L465.0 327.6 L465.1 328.9 L465.3 324.5 L465.5 325.6 L465.6 327.1 L465.8 319.3 L466.0 326.4 L466.1 321.2 L466.3 317.7 L466.5 322.8 L466.6 316.9 L466.8 319.3 L467.0 318.8 L467.1 319.2 L467.3 320.8 L467.5 314.3 L467.6 315.9 L467.8 316.0 L468.0 314.0 L468.1 312.7 L468.3 309.3 L468.5 304.3 L468.6 310.4 L468.8 316.1 L469.0 311.6 L469.1 315.5 L469.3 321.2 L469.5 318.9 L469.6 317.6 L469.8 319.4 L470.0 317.8 L470.1 322.4 L470.3 320.3 L470.5 320.9 L470.6 316.1 L470.8 320.5 L471.0 320.6 L471.1 322.8 L471.3 317.6 L471.5 323.0 L471.6 322.1 L471.8 319.2 L472.0 322.7 L472.1 314.5 L472.3 311.3 L472.5 307.4 L472.6 310.9 L472.8 308.0 L473.0 308.3 L473.1 304.6 L473.3 301.4 L473.4 302.3 L473.6 305.9 L473.8 307.8 L473.9 308.9 L474.1 308.0 L474.3 313.4 L474.4 311.4 L474.6 310.9 L474.8 311.7 L474.9 313.2 L475.1 316.1 L475.3 316.2 L475.4 318.3 L475.6 317.1 L475.8 320.2 L475.9 321.2 L476.1 322.1 L476.3 324.0 L476.4 319.0 L476.6 321.2 L476.8 319.6 L476.9 323.8 L477.1 322.9 L477.3 322.5 L477.4 322.4 L477.6 320.7 L477.8 324.4 L477.9 339.1 L478.1 325.3 L478.3 322.5 L478.4 325.4 L478.6 322.2 L478.8 321.6 L478.9 320.3 L479.1 318.8 L479.3 321.3 L479.4 314.7 L479.6 314.3 L479.8 317.9 L479.9 321.1 L480.1 314.4 L480.3 320.8 L480.4 316.1 L480.6 304.7 L480.8 305.7 L480.9 307.9 L481.1 304.2 L481.3 309.2 L481.4 307.1 L481.6 304.5 L481.8 306.0 L481.9 306.5 L482.1 307.4 L482.3 300.4 L482.4 310.9 L482.6 301.1 L482.8 300.0 L482.9 302.9 L483.1 300.9 L483.2 295.7 L483.4 303.6 L483.6 304.0 L483.7 309.6 L483.9 316.0 L484.1 310.3 L484.2 318.4 L484.4 316.1 L484.6 316.0 L484.7 325.5 L484.9 323.7 L485.1 325.7 L485.2 325.5 L485.4 332.3 L485.6 327.0 L485.7 326.3 L485.9 325.8 L486.1 326.2 L486.2 322.9 L486.4 320.3 L486.6 317.9 L486.7 314.8 L486.9 317.5 L487.1 316.9 L487.2 313.2 L487.4 314.7 L487.6 313.2 L487.7 315.5 L487.9 312.8 L488.1 320.3 L488.2 323.5 L488.4 316.2 L488.6 316.9 L488.7 321.8 L488.9 324.1 L489.1 317.0 L489.2 324.5 L489.4 325.4 L489.6 324.4 L489.7 324.1 L489.9 323.7 L490.1 321.6 L490.2 327.6 L490.4 322.0 L490.6 314.6 L490.7 319.9 L490.9 313.8 L491.1 306.0 L491.2 317.2 L491.4 313.1 L491.6 312.6 L491.7 312.5 L491.9 307.3 L492.1 313.4 L492.2 304.4 L492.4 312.0 L492.6 305.3 L492.7 304.1 L492.9 301.8 L493.0 300.2 L493.2 296.6 L493.4 297.2 L493.5 294.7 L493.7 295.7 L493.9 291.3 L494.0 294.3 L494.2 287.5 L494.4 290.1 L494.5 292.6 L494.7 289.1 L494.9 290.9 L495.0 288.0 L495.2 283.4 L495.4 283.0 L495.5 282.4 L495.7 279.0 L495.9 283.1 L496.0 284.4 L496.2 283.5 L496.4 276.5 L496.5 277.1 L496.7 277.2 L496.9 273.0 L497.0 271.4 L497.2 274.7 L497.4 275.5 L497.5 272.1 L497.7 269.8 L497.9 276.5 L498.0 272.8 L498.2 271.8 L498.4 268.6 L498.5 268.1 L498.7 277.5 L498.9 279.6 L499.0 278.2 L499.2 273.5 L499.4 269.1 L499.5 281.1 L499.7 281.3 L499.9 285.0 L500.0 288.5 L500.2 286.1 L500.4 290.4 L500.5 291.8 L500.7 293.6 L500.9 290.7 L501.0 294.4 L501.2 297.9 L501.4 298.6 L501.5 305.3 L501.7 306.5 L501.9 304.8 L502.0 312.7 L502.2 310.5 L502.4 310.7 L502.5 307.8 L502.7 308.5 L502.8 310.4 L503.0 302.8 L503.2 310.3 L503.3 307.2 L503.5 309.6 L503.7 314.4 L503.8 311.2 L504.0 310.3 L504.2 313.4 L504.3 308.3 L504.5 313.6 L504.7 312.7 L504.8 312.7 L505.0 314.4 L505.2 315.4 L505.3 316.2 L505.5 310.9 L505.7 314.5 L505.8 321.1 L506.0 315.0 L506.2 320.9 L506.3 316.6 L506.5 313.8 L506.7 324.4 L506.8 320.0 L507.0 320.7 L507.2 313.3 L507.3 315.3 L507.5 310.7 L507.7 314.0 L507.8 313.8 L508.0 315.2 L508.2 312.5 L508.3 316.8 L508.5 313.1 L508.7 316.3 L508.8 312.7 L509.0 309.4 L509.2 312.1 L509.3 307.3 L509.5 310.1 L509.7 312.0 L509.8 312.0 L510.0 310.6 L510.2 308.3 L510.3 310.8 L510.5 305.6 L510.7 313.1 L510.8 312.5 L511.0 308.2 L511.2 312.0 L511.3 311.7 L511.5 310.1 L511.7 312.7 L511.8 309.7 L512.0 303.9 L512.2 302.5 L512.3 311.5 L512.5 306.8 L512.6 303.1 L512.8 297.4 L513.0 308.3 L513.1 304.8 L513.3 297.7 L513.5 300.0 L513.6 299.8 L513.8 301.5 L514.0 298.0 L514.1 299.9 L514.3 297.7 L514.5 294.4 L514.6 297.7 L514.8 297.4 L515.0 293.3 L515.1 292.6 L515.3 294.4 L515.5 290.8 L515.6 292.0 L515.8 294.0 L516.0 292.8 L516.1 297.1 L516.3 295.9 L516.5 303.8 L516.6 303.8 L516.8 303.6 L517.0 304.4 L517.1 303.2 L517.3 307.2 L517.5 309.8 L517.6 305.9 L517.8 312.5 L518.0 309.4 L518.1 306.0 L518.3 308.1 L518.5 311.4 L518.6 304.0 L518.8 304.8 L519.0 303.9 L519.1 300.7 L519.3 297.3 L519.5 301.3 L519.6 303.4 L519.8 301.4 L520.0 300.8 L520.1 306.7 L520.3 303.8 L520.5 305.6 L520.6 308.2 L520.8 311.0 L521.0 309.7 L521.1 307.7 L521.3 311.3 L521.5 315.8 L521.6 317.3 L521.8 318.8 L522.0 316.4 L522.1 316.5 L522.3 322.8 L522.4 317.4 L522.6 322.8 L522.8 316.8 L522.9 329.2 L523.1 318.4 L523.3 322.4 L523.4 321.6 L523.6 319.8 L523.8 326.0 L523.9 324.7 L524.1 323.9 L524.3 325.9 L524.4 324.6 L524.6 322.8 L524.8 321.2 L524.9 321.2 L525.1 319.2 L525.3 316.0 L525.4 318.6 L525.6 312.3 L525.8 312.3 L525.9 314.7 L526.1 313.9 L526.3 314.8 L526.4 310.5 L526.6 311.4 L526.8 309.8 L526.9 320.2 L527.1 307.7 L527.3 310.3 L527.4 307.7 L527.6 310.2 L527.8 305.8 L527.9 303.7 L528.1 302.0 L528.3 300.3 L528.4 297.6 L528.6 304.1 L528.8 297.0 L528.9 297.5 L529.1 299.1 L529.3 295.6 L529.4 297.4 L529.6 296.1 L529.8 284.5 L529.9 297.4 L530.1 294.7 L530.3 293.5 L530.4 287.8 L530.6 292.0 L530.8 289.6 L530.9 292.7 L531.1 291.2 L531.3 293.2 L531.4 286.2 L531.6 295.5 L531.8 291.1 L531.9 285.7 L532.1 286.3 L532.2 285.1 L532.4 285.2 L532.6 285.1 L532.7 285.7 L532.9 284.0 L533.1 281.5 L533.2 287.6 L533.4 286.0 L533.6 289.0 L533.7 293.4 L533.9 286.5 L534.1 287.6 L534.2 292.3 L534.4 293.3 L534.6 296.1 L534.7 293.5 L534.9 299.1 L535.1 299.6 L535.2 296.1 L535.4 307.0 L535.6 301.8 L535.7 305.0 L535.9 307.2 L536.1 305.5 L536.2 304.7 L536.4 308.3 L536.6 307.5 L536.7 309.9 L536.9 313.2 L537.1 311.9 L537.2 316.3 L537.4 316.8 L537.6 317.1 L537.7 319.1 L537.9 319.9 L538.1 316.9 L538.2 316.4 L538.4 318.4 L538.6 319.1 L538.7 313.1 L538.9 319.3 L539.1 318.2 L539.2 319.0 L539.4 323.2 L539.6 324.1 L539.7 315.0 L539.9 322.5 L540.1 320.7 L540.2 315.5 L540.4 318.8 L540.6 320.0 L540.7 317.1 L540.9 318.3 L541.1 312.2 L541.2 316.0 L541.4 313.0 L541.6 322.9 L541.7 309.7 L541.9 312.0 L542.0 310.7 L542.2 309.1 L542.4 316.4 L542.5 314.3 L542.7 311.2 L542.9 310.1 L543.0 310.6 L543.2 309.7 L543.4 313.0 L543.5 312.4 L543.7 313.8 L543.9 312.1 L544.0 312.5 L544.2 307.2 L544.4 313.6 L544.5 312.1 L544.7 312.7 L544.9 320.9 L545.0 309.0 L545.2 303.9 L545.4 309.5 L545.5 312.7 L545.7 312.3 L545.9 311.1 L546.0 307.1 L546.2 310.9 L546.4 309.4 L546.5 315.3 L546.7 311.7 L546.9 307.0 L547.0 309.3 L547.2 311.0 L547.4 315.4 L547.5 319.2 L547.7 319.1 L547.9 315.3 L548.0 318.4 L548.2 319.8 L548.4 315.1 L548.5 327.4 L548.7 320.0 L548.9 325.1 L549.0 326.6 L549.2 317.5 L549.4 326.2 L549.5 325.5 L549.7 321.5 L549.9 326.0 L550.0 323.4 L550.2 321.9 L550.4 322.6 L550.5 308.9 L550.7 324.8 L550.9 318.9 L551.0 319.7 L551.2 313.4 L551.4 319.8 L551.5 317.9 L551.7 313.1 L551.8 317.7 L552.0 321.9 L552.2 321.2 L552.3 318.4 L552.5 319.6 L552.7 327.3 L552.8 318.2 L553.0 322.8 L553.2 325.5 L553.3 327.4 L553.5 319.3 L553.7 328.6 L553.8 328.5 L554.0 327.3 L554.2 332.9 L554.3 333.1 L554.5 329.9 L554.7 328.4 L554.8 323.4 L555.0 322.9 L555.2 322.4 L555.3 326.9 L555.5 318.0 L555.7 321.7 L555.8 316.1 L556.0 317.5 L556.2 314.0 L556.3 314.6 L556.5 319.1 L556.7 315.4 L556.8 314.8 L557.0 310.9 L557.2 308.7 L557.3 308.8 L557.5 309.4 L557.7 302.2 L557.8 306.1 L558.0 304.4 L558.2 311.2 L558.3 311.1 L558.5 313.5 L558.7 316.2 L558.8 316.4 L559.0 323.9 L559.2 322.8 L559.3 330.5 L559.5 329.4 L559.7 325.2 L559.8 325.9 L560.0 320.3 L560.2 317.2 L560.3 311.2 L560.5 312.3 L560.7 312.3 L560.8 316.7 L561.0 300.6 L561.2 310.8 L561.3 306.5 L561.5 308.4 L561.6 311.9 L561.8 303.6 L562.0 313.6 L562.1 299.0 L562.3 299.6 L562.5 302.4 L562.6 297.2 L562.8 297.7 L563.0 296.6 L563.1 306.2 L563.3 298.6 L563.5 297.7 L563.6 299.1 L563.8 292.6 L564.0 299.0 L564.1 298.6 L564.3 299.4 L564.5 299.0 L564.6 298.8 L564.8 298.6 L565.0 295.8 L565.1 298.7 L565.3 295.4 L565.5 299.2 L565.6 295.3 L565.8 295.3 L566.0 289.7 L566.1 294.4 L566.3 292.6 L566.5 286.7 L566.6 276.2 L566.8 288.7 L567.0 285.2 L567.1 283.3 L567.3 282.1 L567.5 278.4 L567.6 274.6 L567.8 278.0 L568.0 269.3 L568.1 279.0 L568.3 273.1 L568.5 272.7 L568.6 263.7 L568.8 272.4 L569.0 270.5 L569.1 272.2 L569.3 276.1 L569.5 275.1 L569.6 271.0 L569.8 270.0 L570.0 268.3 L570.1 274.6 L570.3 268.1 L570.5 273.2 L570.6 267.6 L570.8 271.4 L571.0 279.4 L571.1 278.6 L571.3 281.5 L571.4 283.3 L571.6 289.8 L571.8 283.2 L571.9 297.1 L572.1 289.5 L572.3 294.3 L572.4 294.2 L572.6 300.0 L572.8 292.1 L572.9 293.9 L573.1 292.1 L573.3 296.5 L573.4 296.4 L573.6 290.4 L573.8 280.6 L573.9 293.7 L574.1 299.3 L574.3 292.7 L574.4 291.6 L574.6 295.5 L574.8 294.6 L574.9 299.4 L575.1 296.7 L575.3 295.0 L575.4 292.2 L575.6 290.9 L575.8 293.1 L575.9 293.1 L576.1 293.0 L576.3 290.2 L576.4 291.4 L576.6 282.5 L576.8 287.9 L576.9 285.4 L577.1 283.0 L577.3 289.0 L577.4 284.5 L577.6 280.9 L577.8 287.3 L577.9 283.6 L578.1 282.0 L578.3 286.7 L578.4 286.3 L578.6 282.3 L578.8 289.1 L578.9 291.0 L579.1 293.1 L579.3 285.1 L579.4 291.2 L579.6 291.3 L579.8 288.4 L579.9 291.7 L580.1 286.7 L580.3 288.7 L580.4 288.9 L580.6 287.3 L580.8 284.4 L580.9 273.5 L581.1 287.2 L581.2 278.4 L581.4 281.9 L581.6 283.8 L581.7 278.3 L581.9 280.9 L582.1 283.3 L582.2 278.3 L582.4 278.8 L582.6 276.7 L582.7 276.0 L582.9 270.8 L583.1 274.8 L583.2 273.7 L583.4 271.2 L583.6 283.2 L583.7 281.4 L583.9 282.9 L584.1 283.3 L584.2 286.6 L584.4 279.4 L584.6 285.9 L584.7 292.9 L584.9 288.1 L585.1 287.4 L585.2 287.1 L585.4 283.3 L585.6 277.7 L585.7 286.7 L585.9 287.8 L586.1 283.0 L586.2 281.7 L586.4 279.1 L586.6 279.4 L586.7 283.9 L586.9 277.4 L587.1 278.3 L587.2 273.5 L587.4 277.7 L587.6 276.6 L587.7 279.6 L587.9 281.6 L588.1 281.6 L588.2 283.5 L588.4 291.4 L588.6 294.9 L588.7 296.4 L588.9 296.0 L589.1 302.0 L589.2 307.3 L589.4 308.1 L589.6 305.1 L589.7 311.5 L589.9 308.7 L590.1 307.4 L590.2 301.2 L590.4 291.9 L590.6 288.3 L590.7 281.4 L590.9 278.0 L591.0 277.3 L591.2 273.3 L591.4 273.2 L591.5 271.1 L591.7 271.3 L591.9 267.3 L592.0 271.3 L592.2 268.4 L592.4 269.9 L592.5 267.7 L592.7 264.5 L592.9 269.8 L593.0 272.0 L593.2 271.6 L593.4 273.6 L593.5 275.6 L593.7 273.7 L593.9 276.8 L594.0 282.1 L594.2 280.9 L594.4 283.4 L594.5 282.7 L594.7 292.2 L594.9 286.7 L595.0 282.6 L595.2 288.3 L595.4 280.2 L595.5 282.6 L595.7 275.9 L595.9 280.0 L596.0 281.0 L596.2 272.4 L596.4 275.5 L596.5 269.8 L596.7 273.7 L596.9 269.6 L597.0 272.5 L597.2 272.7 L597.4 276.9 L597.5 271.6 L597.7 280.2 L597.9 276.2 L598.0 281.3 L598.2 278.3 L598.4 284.3 L598.5 284.8 L598.7 286.8 L598.9 283.4 L599.0 288.1 L599.2 282.8 L599.4 287.7 L599.5 289.9 L599.7 289.9 L599.9 292.3 L600.0 287.8 L600.2 292.7 L600.4 290.7 L600.5 288.3 L600.7 293.0 L600.8 290.1 L601.0 293.8 L601.2 291.2 L601.3 293.0 L601.5 297.0 L601.7 298.0 L601.8 294.9 L602.0 301.1 L602.2 299.9 L602.3 306.6 L602.5 308.7 L602.7 311.5 L602.8 311.5 L603.0 317.3 L603.2 314.5 L603.3 309.7 L603.5 311.0 L603.7 308.3 L603.8 310.4 L604.0 300.8 L604.2 305.0 L604.3 304.9 L604.5 301.4 L604.7 300.7 L604.8 297.2 L605.0 299.2 L605.2 305.3 L605.3 315.9 L605.5 305.3 L605.7 304.4 L605.8 305.8 L606.0 302.1 L606.2 303.9 L606.3 308.0 L606.5 307.0 L606.7 308.8 L606.8 305.0 L607.0 311.0 L607.2 306.9 L607.3 308.3 L607.5 306.0 L607.7 312.6 L607.8 307.3 L608.0 306.2 L608.2 304.3 L608.3 304.4 L608.5 305.5 L608.7 311.1 L608.8 303.6 L609.0 308.6 L609.2 302.4 L609.3 311.4 L609.5 303.9 L609.7 308.1 L609.8 304.3 L610.0 305.3 L610.2 306.7 L610.3 306.5 L610.5 307.2 L610.7 309.3 L610.8 312.5 L611.0 309.1 L611.1 313.8 L611.3 310.9 L611.5 300.0 L611.6 319.0 L611.8 311.2 L612.0 310.5 L612.1 305.3 L612.3 307.6 L612.5 306.3 L612.6 307.1 L612.8 309.7 L613.0 310.5 L613.1 312.7 L613.3 309.2 L613.5 308.6 L613.6 308.3 L613.8 312.1 L614.0 311.4 L614.1 305.1 L614.3 304.5 L614.5 303.9 L614.6 307.5 L614.8 311.0 L615.0 308.0 L615.1 308.8 L615.3 306.7 L615.5 311.1 L615.6 311.2 L615.8 315.1 L616.0 315.6 L616.1 319.1 L616.3 323.9 L616.5 320.4 L616.6 326.5 L616.8 326.7 L617.0 326.2 L617.1 330.5 L617.3 332.5 L617.5 325.4 L617.6 322.5 L617.8 321.3 L618.0 322.6 L618.1 320.7 L618.3 314.3 L618.5 315.5 L618.6 312.1 L618.8 307.8 L619.0 310.5 L619.1 308.7 L619.3 310.6 L619.5 308.2 L619.6 307.4 L619.8 306.8 L620.0 307.9 L620.1 309.8 L620.3 308.6 L620.5 308.0 L620.6 305.8 L620.8 304.6 L620.9 308.4 L621.1 305.9 L621.3 304.6 L621.4 303.1 L621.6 311.0 L621.8 308.2 L621.9 308.7 L622.1 313.2 L622.3 311.1 L622.4 314.6 L622.6 317.0 L622.8 316.3 L622.9 318.4 L623.1 319.2 L623.3 319.2 L623.4 320.1 L623.6 319.4 L623.8 317.7 L623.9 312.9 L624.1 315.0 L624.3 308.5 L624.4 304.5 L624.6 304.3 L624.8 306.1 L624.9 304.7 L625.1 301.3 L625.3 302.7 L625.4 302.5 L625.6 305.8 L625.8 304.1 L625.9 301.6 L626.1 300.0 L626.3 300.0 L626.4 312.5 L626.6 302.9 L626.8 304.9 L626.9 304.3 L627.1 305.5 L627.3 304.4 L627.4 303.7 L627.6 304.0 L627.8 309.8 L627.9 304.4 L628.1 306.7 L628.3 312.2 L628.4 310.5 L628.6 314.0 L628.8 313.3 L628.9 315.4 L629.1 314.6 L629.3 311.7 L629.4 318.4 L629.6 314.3 L629.8 317.6 L629.9 317.1 L630.1 318.5 L630.3 312.3 L630.4 316.9 L630.6 327.6 L630.7 320.8 L630.9 317.3 L631.1 322.9 L631.2 322.3 L631.4 320.7 L631.6 319.3 L631.7 320.4 L631.9 318.3 L632.1 322.3 L632.2 319.3 L632.4 320.3 L632.6 317.5 L632.7 323.3 L632.9 321.5 L633.1 317.2 L633.2 323.7 L633.4 317.3 L633.6 310.0 L633.7 315.3 L633.9 318.8 L634.1 319.9 L634.2 316.6 L634.4 319.6 L634.6 317.0 L634.7 319.1 L634.9 319.2 L635.1 319.6 L635.2 314.6 L635.4 316.6 L635.6 320.6 L635.7 318.6 L635.9 320.6 L636.1 328.2 L636.2 325.8 L636.4 322.3 L636.6 323.6 L636.7 327.0 L636.9 326.0 L637.1 324.2 L637.2 323.4 L637.4 329.6 L637.6 328.0 L637.7 321.7 L637.9 316.2 L638.1 326.7 L638.2 324.4 L638.4 328.2 L638.6 321.2 L638.7 321.9 L638.9 325.5 L639.1 322.8 L639.2 328.7 L639.4 327.2 L639.6 329.2 L639.7 319.5 L639.9 322.1 L640.1 328.4 L640.2 323.3 L640.4 329.5 L640.5 324.7 L640.7 332.7 L640.9 326.8 L641.0 327.7 L641.2 330.4 L641.4 329.6 L641.5 328.2 L641.7 336.5 L641.9 328.0 L642.0 326.1 L642.2 332.3 L642.4 330.1 L642.5 328.0 L642.7 327.9 L642.9 330.6 L643.0 331.6 L643.2 330.5 L643.4 324.3 L643.5 328.0 L643.7 326.5 L643.9 329.9 L644.0 322.2 L644.2 327.4 L644.4 328.5 L644.5 327.2 L644.7 327.9 L644.9 331.5 L645.0 330.0 L645.2 324.2 L645.4 331.3 L645.5 330.9 L645.7 326.0 L645.9 328.3 L646.0 327.8 L646.2 333.5 L646.4 327.3 L646.5 328.9 L646.7 331.8 L646.9 328.3 L647.0 329.0 L647.2 332.9 L647.4 329.0 L647.5 337.4 L647.7 329.2 L647.9 325.5 L648.0 331.9 L648.2 329.5 L648.4 331.5 L648.5 330.8 L648.7 333.4 L648.9 331.2 L649.0 326.4 L649.2 330.4 L649.4 328.1 L649.5 321.4 L649.7 325.9 L649.9 331.6 L650.0 325.4 L650.2 329.4 L650.3 327.8 L650.5 330.4 L650.7 327.5 L650.8 330.4 L651.0 327.3 L651.2 336.6 L651.3 334.0 L651.5 331.0 L651.7 334.3 L651.8 337.0 L652.0 335.8 L652.2 334.3 L652.3 334.8 L652.5 339.9 L652.7 343.0 L652.8 333.8 L653.0 337.6 L653.2 337.1 L653.3 337.6 L653.5 338.5 L653.7 341.7 L653.8 332.6 L654.0 332.0 L654.2 331.5 L654.3 335.9 L654.5 331.5 L654.7 333.4 L654.8 332.1 L655.0 342.2 L655.2 327.0 L655.3 328.6 L655.5 329.6 L655.7 334.0 L655.8 330.1 L656.0 332.3 L656.2 325.0 L656.3 329.9 L656.5 333.0 L656.7 333.1 L656.8 329.9 L657.0 328.5 L657.2 328.1 L657.3 330.3 L657.5 334.9 L657.7 330.0 L657.8 332.7 L658.0 334.7 L658.2 331.5 L658.3 329.8 L658.5 329.9 L658.7 333.3 L658.8 333.5 L659.0 332.6 L659.2 336.3 L659.3 327.5 L659.5 333.3 L659.7 334.0 L659.8 334.5 L660.0 329.6 L660.1 335.0 L660.3 334.5 L660.5 333.9 L660.6 335.4 L660.8 337.0 L661.0 337.4 L661.1 335.1 L661.3 336.8 L661.5 342.2 L661.6 338.3 L661.8 340.1 L662.0 335.8 L662.1 339.3 L662.3 338.9 L662.5 332.8 L662.6 337.4 L662.8 337.4 L663.0 337.3 L663.1 336.6 L663.3 340.7 L663.5 339.6 L663.6 341.8 L663.8 336.3 L664.0 342.0 L664.1 339.4 L664.3 343.6 L664.5 341.6 L664.6 341.8 L664.8 339.5 L665.0 342.1 L665.1 338.2 L665.3 342.6 L665.5 342.4 L665.6 341.4 L665.8 341.8 L666.0 341.1 L666.1 342.5 L666.3 340.9 L666.5 343.4 L666.6 338.0 L666.8 340.7 L667.0 339.7 L667.1 337.4 L667.3 337.2 L667.5 339.4 L667.6 336.4 L667.8 335.0 L668.0 336.1 L668.1 331.6 L668.3 334.3 L668.5 332.8 L668.6 336.4 L668.8 333.7 L669.0 336.4 L669.1 334.7 L669.3 336.3 L669.5 337.7 L669.6 331.3 L669.8 338.2 L669.9 332.8 L670.1 336.0 L670.3 337.5 L670.4 337.1 L670.6 341.4 L670.8 334.5 L670.9 336.8 L671.1 336.2 L671.3 334.0 L671.4 338.9 L671.6 333.7 L671.8 340.5 L671.9 336.9 L672.1 342.2 L672.3 334.2 L672.4 341.5 L672.6 342.8 L672.8 346.4 L672.9 342.1 L673.1 338.0 L673.3 346.3 L673.4 347.6 L673.6 341.1 L673.8 346.0 L673.9 343.9 L674.1 338.6 L674.3 347.8 L674.4 347.5 L674.6 350.1 L674.8 345.8 L674.9 344.1 L675.1 345.6 L675.3 342.2 L675.4 347.3 L675.6 346.9 L675.8 349.6 L675.9 351.2 L676.1 352.5 L676.3 351.5 L676.4 353.7 L676.6 357.5 L676.8 354.8 L676.9 351.3 L677.1 354.3 L677.3 356.6 L677.4 355.1 L677.6 353.3 L677.8 355.4 L677.9 359.8 L678.1 358.1 L678.3 354.9 L678.4 357.6 L678.6 348.7 L678.8 352.4 L678.9 352.1 L679.1 352.6 L679.3 351.0 L679.4 346.6 L679.6 341.8 L679.7 341.8 L679.9 346.0 L680.1 344.2 L680.2 344.0 L680.4 347.4 L680.6 342.0 L680.7 345.0 L680.9 340.4 L681.1 345.1 L681.2 348.6 L681.4 348.2 L681.6 345.0 L681.7 342.7 L681.9 341.5 L682.1 341.1 L682.2 343.3 L682.4 346.2 L682.6 337.7 L682.7 339.9 L682.9 337.5 L683.1 340.1 L683.2 339.3 L683.4 340.9 L683.6 338.2 L683.7 340.0 L683.9 339.4 L684.1 337.5 L684.2 340.4 L684.4 347.9 L684.6 336.1 L684.7 333.7 L684.9 340.4 L685.1 339.0 L685.2 339.6 L685.4 340.5 L685.6 338.5 L685.7 339.0 L685.9 340.8 L686.1 337.4 L686.2 336.5 L686.4 340.1 L686.6 342.8 L686.7 345.5 L686.9 341.4 L687.1 340.5 L687.2 343.6 L687.4 339.6 L687.6 340.5 L687.7 341.9 L687.9 343.0 L688.1 342.2 L688.2 338.8 L688.4 343.6 L688.6 343.8 L688.7 341.4 L688.9 350.3 L689.1 341.8 L689.2 343.2 L689.4 343.2 L689.5 344.2 L689.7 341.0 L689.9 343.2 L690.0 341.2 L690.2 340.6 L690.4 345.9 L690.5 339.9 L690.7 342.3 L690.9 339.2 L691.0 341.5 L691.2 341.2 L691.4 346.6 L691.5 339.3 L691.7 340.2 L691.9 338.1 L692.0 342.9 L692.2 340.9 L692.4 343.3 L692.5 341.4 L692.7 341.0 L692.9 340.7 L693.0 331.0 L693.2 347.1 L693.4 341.3 L693.5 343.8 L693.7 346.7 L693.9 347.3 L694.0 344.0 L694.2 338.2 L694.4 348.0 L694.5 344.5 L694.7 343.5 L694.9 347.7 L695.0 342.8 L695.2 346.5 L695.4 347.2 L695.5 350.9 L695.7 346.8 L695.9 345.9 L696.0 346.6 L696.2 349.6 L696.4 346.7 L696.5 350.0 L696.7 352.7 L696.9 349.5 L697.0 346.6 L697.2 347.2 L697.4 358.1 L697.5 357.5 L697.7 353.3 L697.9 355.9 L698.0 349.0 L698.2 351.0 L698.4 350.1 L698.5 355.1 L698.7 347.7 L698.9 352.5 L699.0 347.4 L699.2 349.2 L699.3 350.1 L699.5 348.7 L699.7 348.7 L699.8 349.1 L700.0 350.7 L700.2 346.8 L700.3 348.7 L700.5 346.2 L700.7 350.2 L700.8 345.5 L701.0 345.1 L701.2 345.0 L701.3 346.4 L701.5 347.8 L701.7 346.6 L701.8 346.0 L702.0 341.0 L702.2 345.9 L702.3 349.5 L702.5 346.1 L702.7 349.2 L702.8 343.5 L703.0 348.8 L703.2 350.4 L703.3 346.4 L703.5 343.7 L703.7 347.0 L703.8 346.3 L704.0 342.7 L704.2 346.5 L704.3 346.0 L704.5 350.8 L704.7 347.3 L704.8 351.2 L705.0 347.6 L705.2 349.3 L705.3 337.5 L705.5 347.0 L705.7 351.1 L705.8 347.0 L706.0 356.0 L706.2 346.8 L706.3 351.3 L706.5 349.2 L706.7 347.7 L706.8 345.7 L707.0 346.8 L707.2 346.4 L707.3 350.7 L707.5 348.6 L707.7 346.3 L707.8 347.3 L708.0 344.8 L708.2 344.9 L708.3 348.3 L708.5 344.4 L708.7 345.9 L708.8 345.2 L709.0 345.5 L709.1 351.2 L709.3 348.5 L709.5 348.7 L709.6 344.3 L709.8 345.9 L710.0 346.7 L710.1 344.8 L710.3 347.4 L710.5 348.4 L710.6 341.3 L710.8 347.8 L711.0 345.6 L711.1 346.8 L711.3 342.8 L711.5 346.7 L711.6 347.0 L711.8 342.1 L712.0 345.4 L712.1 341.5 L712.3 341.2 L712.5 334.9 L712.6 338.3 L712.8 340.7 L713.0 338.5 L713.1 341.5 L713.3 342.1 L713.5 342.1 L713.6 343.5 L713.8 348.3 L714.0 346.4 L714.1 353.4 L714.3 353.6 L714.5 346.7 L714.6 348.0 L714.8 350.4 L715.0 350.1 L715.1 350.1 L715.3 346.9 L715.5 351.6 L715.6 344.9 L715.8 350.7 L716.0 351.0 L716.1 348.1 L716.3 354.0 L716.5 360.4 L716.6 352.1 L716.8 352.9 L717.0 354.1 L717.1 354.9 L717.3 353.3 L717.5 353.7 L717.6 353.9 L717.8 357.5 L718.0 362.6 L718.1 355.7 L718.3 357.3 L718.5 360.1 L718.6 362.3 L718.8 355.3 L718.9 360.9 L719.1 359.4 L719.3 351.3 L719.4 364.8 L719.6 355.9 L719.8 366.6 L719.9 366.3 L720.1 362.8 L720.3 365.0 L720.4 365.7 L720.6 364.8 L720.8 364.6 L720.9 368.3 L721.1 367.2 L721.3 364.9 L721.4 359.7 L721.6 368.1 L721.8 367.5 L721.9 362.8 L722.1 369.2 L722.3 363.3 L722.4 363.6 L722.6 357.7 L722.8 356.1 L722.9 352.8 L723.1 344.4 L723.3 355.6 L723.4 350.1 L723.6 345.9 L723.8 350.5 L723.9 351.0 L724.1 349.5 L724.3 351.2 L724.4 353.4 L724.6 349.3 L724.8 349.2 L724.9 352.2 L725.1 351.6 L725.3 348.2 L725.4 349.2 L725.6 350.3 L725.8 353.9 L725.9 349.1 L726.1 349.8 L726.3 351.0 L726.4 351.7 L726.6 349.1 L726.8 354.0 L726.9 348.7 L727.1 349.2 L727.3 346.9 L727.4 346.3 L727.6 349.1 L727.8 351.3 L727.9 353.7 L728.1 343.9 L728.3 349.0 L728.4 352.2 L728.6 352.3 L728.7 350.1 L728.9 350.2 L729.1 350.7 L729.2 348.1 L729.4 353.3 L729.6 350.2 L729.7 347.9 L729.9 351.0 L730.1 350.5 L730.2 346.4 L730.4 347.2 L730.6 349.6 L730.7 351.6 L730.9 350.4 L731.1 346.4 L731.2 349.3 L731.4 352.8 L731.6 344.8 L731.7 353.2 L731.9 345.1 L732.1 348.8 L732.2 348.0 L732.4 342.0 L732.6 354.3 L732.7 348.3 L732.9 352.5 L733.1 344.9 L733.2 346.4 L733.4 347.7 L733.6 346.6 L733.7 351.1 L733.9 350.5 L734.1 346.1 L734.2 345.2 L734.4 346.9 L734.6 348.9 L734.7 347.5 L734.9 346.7 L735.1 342.6 L735.2 344.8 L735.4 341.5 L735.6 341.7 L735.7 346.1 L735.9 337.8 L736.1 340.8 L736.2 338.3 L736.4 340.0 L736.6 336.0 L736.7 336.9 L736.9 340.8 L737.1 343.9 L737.2 342.3 L737.4 347.2 L737.6 348.7 L737.7 337.6 L737.9 345.7 L738.1 348.1 L738.2 350.0 L738.4 350.0 L738.5 349.9 L738.7 347.4 L738.9 342.5 L739.0 347.0 L739.2 345.0 L739.4 349.7 L739.5 350.1 L739.7 349.7 L739.9 350.4 L740.0 349.5 L740.2 346.3 L740.4 348.3 L740.5 353.4 L740.7 349.7 L740.9 347.9 L741.0 349.2 L741.2 352.0 L741.4 349.6 L741.5 345.5 L741.7 351.4 L741.9 347.2 L742.0 351.9 L742.2 351.3 L742.4 346.7 L742.5 350.4 L742.7 352.5 L742.9 351.4 L743.0 355.3 L743.2 350.0 L743.4 348.1 L743.5 355.3 L743.7 355.0 L743.9 348.7 L744.0 344.7 L744.2 354.8 L744.4 351.7 L744.5 349.5 L744.7 354.3 L744.9 355.7 L745.0 350.8 L745.2 352.4 L745.4 354.2 L745.5 357.0 L745.7 360.2 L745.9 369.4 L746.0 360.2 L746.2 361.0 L746.4 364.4 L746.5 369.2 L746.7 370.5 L746.9 378.6 L747.0 376.9 L747.2 373.5 L747.4 375.8 L747.5 367.5 L747.7 373.4 L747.9 367.1 L748.0 365.1 L748.2 357.8 L748.3 359.8 L748.5 357.5 L748.7 358.2 L748.8 354.5 L749.0 356.6 L749.2 356.7 L749.3 351.7 L749.5 349.6 L749.7 354.6 L749.8 356.2 L750.0 354.0 L750.2 358.2 L750.3 354.2 L750.5 357.7 L750.7 349.7 L750.8 360.8 L751.0 371.7 L751.2 362.8 L751.3 367.7 L751.5 371.1 L751.7 371.4 L751.8 370.0 L752.0 376.1 L752.2 369.9 L752.3 367.8 L752.5 368.2 L752.7 363.9 L752.8 359.8 L753.0 357.1 L753.2 361.7 L753.3 357.4 L753.5 352.0 L753.7 353.9 L753.8 350.7 L754.0 354.2 L754.2 356.7 L754.3 352.3 L754.5 353.9 L754.7 353.5 L754.8 349.7 L755.0 353.6 L755.2 354.5 L755.3 353.6 L755.5 350.3 L755.7 353.1 L755.8 350.7 L756.0 352.1 L756.2 354.0 L756.3 350.0 L756.5 347.9 L756.7 348.9 L756.8 355.4 L757.0 347.6 L757.2 348.6 L757.3 348.6 L757.5 346.5 L757.7 354.8 L757.8 350.5 L758.0 351.5 L758.1 349.3 L758.3 350.9 L758.5 353.9 L758.6 348.4 L758.8 348.1 L759.0 353.8 L759.1 351.6 L759.3 353.9 L759.5 351.9 L759.6 355.4 L759.8 358.3 L760.0 352.9 L760.1 357.2 L760.3 360.2 L760.5 363.2 L760.6 354.9 L760.8 353.6 L761.0 359.1 L761.1 354.2 L761.3 357.4 L761.5 358.0 L761.6 356.3 L761.8 365.4 L762.0 364.3 L762.1 360.3 L762.3 362.0 L762.5 359.6 L762.6 360.0 L762.8 362.3 L763.0 362.5 L763.1 359.6 L763.3 357.3 L763.5 360.1 L763.6 353.5 L763.8 339.1 L764.0 345.4 L764.1 342.7 L764.3 348.7 L764.5 350.4 L764.6 352.4 L764.8 356.5 L765.0 365.6 L765.1 367.2 L765.3 371.6 L765.5 371.7 L765.6 376.1 L765.8 375.4 L766.0 379.1 L766.1 379.8 L766.3 382.0 L766.5 383.1 L766.6 379.0 L766.8 380.4 L767.0 377.8 L767.1 376.1 L767.3 367.7 L767.5 370.7 L767.6 365.0 L767.8 362.6 L767.9 361.3 L768.1 362.1 L768.3 357.8 L768.4 363.2 L768.6 360.4 L768.8 360.6 L768.9 360.1 L769.1 359.2 L769.3 359.4 L769.4 356.9 L769.6 356.8 L769.8 352.7 L769.9 350.9 L770.1 357.2 L770.3 356.2 L770.4 356.7 L770.6 356.4 L770.8 355.4 L770.9 361.1 L771.1 358.0 L771.3 355.3 L771.4 361.8 L771.6 363.4 L771.8 356.1 L771.9 359.8 L772.1 354.7 L772.3 349.9 L772.4 349.6 L772.6 342.2 L772.8 345.6 L772.9 334.7 L773.1 346.9 L773.3 350.2 L773.4 349.7 L773.6 352.7 L773.8 350.9 L773.9 358.6 L774.1 357.3 L774.3 357.9 L774.4 357.7 L774.6 351.5 L774.8 355.3 L774.9 352.5 L775.1 357.7 L775.3 356.8 L775.4 355.4 L775.6 334.3 L775.8 356.0 L775.9 354.8 L776.1 347.7 L776.3 346.9 L776.4 358.8 L776.6 349.7 L776.8 354.8 L776.9 352.2 L777.1 359.1 L777.3 361.7 L777.4 358.3 L777.6 364.7 L777.7 360.0 L777.9 360.8 L778.1 366.0 L778.2 370.6 L778.4 368.4 L778.6 368.8 L778.7 371.2 L778.9 374.8 L779.1 374.3 L779.2 371.8 L779.4 378.8 L779.6 371.6 L779.7 379.4 L779.9 377.4 L780.1 374.9 L780.2 378.0 L780.4 374.2 L780.6 373.6 L780.7 379.6 L780.9 372.0 L781.1 373.2 L781.2 376.7 L781.4 370.5 L781.6 374.5 L781.7 372.2 L781.9 371.4 L782.1 375.5 L782.2 375.3 L782.4 376.8 L782.6 381.0 L782.7 377.2 L782.9 380.1 L783.1 382.9 L783.2 377.3 L783.4 381.8 L783.6 364.9 L783.7 371.9 L783.9 365.6 L784.1 364.9 L784.2 369.8 L784.4 365.8 L784.6 365.1 L784.7 365.3 L784.9 363.1 L785.1 364.5 L785.2 366.6 L785.4 358.9 L785.6 365.0 L785.7 361.5 L785.9 358.4 L786.1 364.5 L786.2 363.5 L786.4 364.6 L786.6 368.2 L786.7 370.1 L786.9 372.1 L787.1 375.9 L787.2 368.6 L787.4 376.8 L787.5 375.4 L787.7 376.1 L787.9 382.3 L788.0 378.1 L788.2 383.1 L788.4 363.7 L788.5 368.0 L788.7 370.9 L788.9 367.5 L789.0 364.2 L789.2 365.2 L789.4 366.2 L789.5 364.6 L789.7 359.1 L789.9 361.6 L790.0 363.3 L790.2 366.6 L790.4 362.2 L790.5 359.7 L790.7 357.5 L790.9 361.9 L791.0 357.3 L791.2 354.3 L791.4 359.0 L791.5 356.5 L791.7 357.6 L791.9 361.0 L792.0 357.4 L792.2 356.7 L792.4 353.6 L792.5 359.2 L792.7 352.2 L792.9 356.2 L793.0 358.2 L793.2 357.3 L793.4 357.2 L793.5 356.0 L793.7 354.0 L793.9 350.6 L794.0 352.7 L794.2 348.9 L794.4 356.9 L794.5 354.7 L794.7 349.8 L794.9 359.0 L795.0 353.6 L795.2 350.7 L795.4 354.2 L795.5 350.7 L795.7 352.3 L795.9 350.7 L796.0 347.1 L796.2 344.9 L796.4 352.5 L796.5 348.0 L796.7 348.6 L796.9 348.2 L797.0 350.5 L797.2 348.2 L797.3 346.7 L797.5 348.3 L797.7 347.8 L797.8 346.6 L798.0 347.2 L798.2 350.3 L798.3 350.8 L798.5 350.0 L798.7 346.0 L798.8 346.3 L799.0 344.4 L799.2 349.9 L799.3 347.4 L799.5 350.0 L799.7 347.1 L799.8 348.2 L800.0 349.0 L800.2 346.2 L800.3 347.3 L800.5 349.3 L800.7 350.5 L800.8 351.3 L801.0 348.4 L801.2 348.4 L801.3 353.4 L801.5 349.6 L801.7 352.7 L801.8 351.2 L802.0 354.4 L802.2 354.8 L802.3 357.1 L802.5 359.3 L802.7 351.4 L802.8 358.1 L803.0 353.3 L803.2 355.2 L803.3 355.5 L803.5 353.8 L803.7 359.5 L803.8 352.8 L804.0 351.6 L804.2 357.1 L804.3 355.1 L804.5 354.2 L804.7 361.1 L804.8 354.6 L805.0 355.2 L805.2 353.8 L805.3 359.1 L805.5 361.6 L805.7 360.9 L805.8 366.6 L806.0 358.4 L806.2 362.9 L806.3 361.6 L806.5 362.3 L806.7 362.9 L806.8 364.1 L807.0 360.9 L807.1 361.7 L807.3 359.4 L807.5 360.4 L807.6 355.5 L807.8 357.3 L808.0 356.7 L808.1 351.0 L808.3 360.4 L808.5 350.3 L808.6 351.0 L808.8 350.7 L809.0 347.3 L809.1 355.8 L809.3 346.4 L809.5 348.9 L809.6 349.1 L809.8 353.7 L810.0 350.1 L810.1 350.5 L810.3 352.4 L810.5 352.8 L810.6 352.0 L810.8 353.0 L811.0 352.5 L811.1 348.7 L811.3 348.4 L811.5 350.4 L811.6 347.2 L811.8 350.7 L812.0 351.1 L812.1 352.5 L812.3 352.2 L812.5 351.7 L812.6 358.0 L812.8 345.8 L813.0 353.4 L813.1 344.3 L813.3 350.1 L813.5 353.0 L813.6 362.4 L813.8 350.5 L814.0 351.6 L814.1 352.2 L814.3 364.3 L814.5 354.5 L814.6 361.3 L814.8 359.9 L815.0 356.4 L815.1 357.9 L815.3 360.9 L815.5 353.7 L815.6 359.1 L815.8 356.8 L816.0 364.2 L816.1 363.9 L816.3 365.8 L816.5 363.4 L816.6 361.6 L816.8 361.9 L816.9 360.2 L817.1 357.9 L817.3 352.9 L817.4 357.2 L817.6 351.4 L817.8 344.5 L817.9 345.5 L818.1 358.1 L818.3 342.6 L818.4 347.7 L818.6 344.2 L818.8 338.8 L818.9 340.9 L819.1 344.2 L819.3 340.8 L819.4 344.6 L819.6 342.0 L819.8 337.0 L819.9 335.6 L820.1 335.8 L820.3 338.6 L820.4 343.4 L820.6 342.0 L820.8 333.1 L820.9 342.0 L821.1 341.2 L821.3 338.2 L821.4 344.2 L821.6 340.7 L821.8 345.7 L821.9 341.6 L822.1 342.3 L822.3 347.9 L822.4 339.0 L822.6 341.9 L822.8 355.2 L822.9 346.5 L823.1 339.0 L823.3 344.7 L823.4 345.6 L823.6 344.9 L823.8 340.3 L823.9 349.4 L824.1 339.3 L824.3 340.7 L824.4 339.0 L824.6 342.1 L824.8 347.6 L824.9 345.3 L825.1 344.9 L825.3 346.2 L825.4 348.6 L825.6 349.2 L825.8 344.1 L825.9 351.9 L826.1 353.2 L826.3 358.9 L826.4 361.8 L826.6 358.7 L826.7 360.9 L826.9 373.9 L827.1 356.3 L827.2 367.7 L827.4 362.5 L827.6 362.1 L827.7 346.2 L827.9 342.6 L828.1 346.5 L828.2 343.9 L828.4 353.6 L828.6 346.0 L828.7 345.5 L828.9 340.4 L829.1 348.0 L829.2 347.9 L829.4 346.5 L829.6 348.5 L829.7 345.5 L829.9 345.6 L830.1 348.4 L830.2 343.2 L830.4 350.2 L830.6 343.8 L830.7 352.1 L830.9 345.8 L831.1 340.1 L831.2 351.5 L831.4 346.0 L831.6 345.2 L831.7 345.0 L831.9 344.1 L832.1 346.9 L832.2 351.0 L832.4 348.8 L832.6 341.7 L832.7 355.3 L832.9 350.6 L833.1 344.6 L833.2 342.8 L833.4 352.2 L833.6 343.1 L833.7 348.1 L833.9 343.6 L834.1 341.4 L834.2 340.1 L834.4 345.9 L834.6 348.7 L834.7 347.6 L834.9 347.4 L835.1 342.6 L835.2 346.6 L835.4 345.5 L835.6 345.7 L835.7 331.3 L835.9 336.4 L836.1 346.8 L836.2 335.2 L836.4 339.4 L836.5 342.6 L836.7 342.7 L836.9 344.2 L837.0 343.2 L837.2 339.8 L837.4 340.2 L837.5 344.6 L837.7 333.9 L837.9 333.1 L838.0 337.7 L838.2 345.3 L838.4 345.9 L838.5 351.3 L838.7 343.7 L838.9 344.4 L839.0 337.3 L839.2 345.8 L839.4 344.6 L839.5 345.8 L839.7 349.6 L839.9 354.0 L840.0 352.3 L840.2 354.7 L840.4 353.7 L840.5 355.8 L840.7 350.6 L840.9 352.3 L841.0 354.0 L841.2 362.5 L841.4 333.9 L841.5 350.4 L841.7 350.4 L841.9 351.7 L842.0 354.9 L842.2 356.8 L842.4 350.8 L842.5 351.2 L842.7 358.1 L842.9 358.7 L843.0 364.0 L843.2 359.1 L843.4 354.6 L843.5 348.6 L843.7 354.6 L843.9 351.4 L844.0 348.9 L844.2 351.7 L844.4 347.9 L844.5 344.9 L844.7 345.5 L844.9 350.8 L845.0 348.7 L845.2 355.1 L845.4 345.4 L845.5 354.6 L845.7 342.2 L845.9 344.3 L846.0 340.6 L846.2 344.1 L846.3 341.8 L846.5 352.0 L846.7 347.1 L846.8 346.4 L847.0 343.2 L847.2 349.1 L847.3 348.5 L847.5 345.9 L847.7 346.9 L847.8 351.6 L848.0 348.2 L848.2 345.0 L848.3 349.3 L848.5 354.0 L848.7 348.7 L848.8 346.9 L849.0 351.7 L849.2 348.3 L849.3 351.7 L849.5 356.9 L849.7 353.5 L849.8 345.0 L850.0 352.1 L850.2 348.3 L850.3 353.6 L850.5 354.5 L850.7 361.3 L850.8 353.8 L851.0 351.5 L851.2 354.0 L851.3 344.9 L851.5 347.1 L851.7 360.0 L851.8 356.3 L852.0 344.3 L852.2 347.5 L852.3 344.0 L852.5 357.1 L852.7 356.1 L852.8 349.7 L853.0 360.1 L853.2 347.5 L853.3 351.8 L853.5 346.0 L853.7 342.6 L853.8 346.8 L854.0 341.9 L854.2 344.2 L854.3 331.3 L854.5 347.0 L854.7 348.3 L854.8 349.7 L855.0 347.7 L855.2 343.3 L855.3 352.6 L855.5 354.3 L855.7 345.7 L855.8 351.6 L856.0 346.3 L856.1 346.2 L856.3 359.0 L856.5 346.0 L856.6 350.7 L856.8 354.7 L857.0 351.4 L857.1 353.6 L857.3 351.3 L857.5 351.2 L857.6 348.8 L857.8 347.7 L858.0 350.7 L858.1 352.9 L858.3 346.9 L858.5 351.1 L858.6 349.0 L858.8 350.3 L859.0 349.4 L859.1 357.3 L859.3 353.4 L859.5 349.3 L859.6 352.4 L859.8 355.8 L860.0 354.9 L860.1 351.7 L860.3 353.4 L860.5 353.1 L860.6 362.3 L860.8 347.7 L861.0 356.8 L861.1 348.0 L861.3 358.4 L861.5 353.1 L861.6 357.1 L861.8 356.4 L862.0 346.9 L862.1 359.4 L862.3 355.1 L862.5 349.5 L862.6 351.1 L862.8 354.5 L863.0 357.8 L863.1 357.9 L863.3 354.8 L863.5 343.4 L863.6 346.6 L863.8 355.7 L864.0 347.0 L864.1 351.2 L864.3 352.4 L864.5 354.9 L864.6 349.0 L864.8 349.5 L865.0 353.4 L865.1 351.3 L865.3 351.9 L865.5 349.8 L865.6 357.0 L865.8 346.3 L865.9 354.2 L866.1 349.1 L866.3 348.1 L866.4 345.5 L866.6 350.6 L866.8 350.7 L866.9 351.2 L867.1 348.2 L867.3 350.2 L867.4 339.7 L867.6 343.2 L867.8 347.4 L867.9 351.1 L868.1 346.8 L868.3 352.5 L868.4 352.6 L868.6 354.4 L868.8 350.2 L868.9 340.6 L869.1 344.6 L869.3 346.9 L869.4 350.3 L869.6 346.3 L869.8 358.1 L869.9 351.0 L870.1 350.6 L870.3 346.5 L870.4 344.7 L870.6 353.6 L870.8 348.9 L870.9 340.2 L871.1 348.1 L871.3 339.2 L871.4 351.6 L871.6 355.5 L871.8 350.7 L871.9 348.8 L872.1 345.4 L872.3 342.8 L872.4 350.1 L872.6 347.3 L872.8 348.9 L872.9 349.4 L873.1 350.0 L873.3 349.7 L873.4 350.3 L873.6 348.7 L873.8 353.6 L873.9 351.3 L874.1 352.6 L874.3 352.8 L874.4 369.6 L874.6 358.0 L874.8 362.3 L874.9 367.2 L875.1 356.4 L875.3 356.1 L875.4 358.3 L875.6 353.4 L875.7 358.2 L875.9 349.5 L876.1 354.1 L876.2 350.7 L876.4 349.9 L876.6 341.5 L876.7 346.3 L876.9 352.8 L877.1 352.6 L877.2 344.0 L877.4 338.6 L877.6 345.3 L877.7 350.0 L877.9 338.7 L878.1 346.8 L878.2 342.4 L878.4 345.8 L878.6 342.9 L878.7 340.2 L878.9 342.3 L879.1 344.5 L879.2 334.2 L879.4 350.1 L879.6 344.1 L879.7 341.0 L879.9 347.3 L880.1 343.1 L880.2 342.5 L880.4 345.5 L880.6 347.7 L880.7 337.6 L880.9 345.6 L881.1 340.5 L881.2 344.6 L881.4 339.6 L881.6 348.8 L881.7 346.0 L881.9 350.8 L882.1 344.7 L882.2 341.2 L882.4 346.0 L882.6 340.5 L882.7 341.6 L882.9 352.6 L883.1 348.5 L883.2 337.4 L883.4 344.6 L883.6 332.8 L883.7 353.8 L883.9 345.7 L884.1 337.8 L884.2 356.6 L884.4 363.1 L884.6 339.5 L884.7 344.7 L884.9 341.2 L885.1 341.1 L885.2 338.5 L885.4 350.8 L885.5 343.1 L885.7 348.7 L885.9 342.9 L886.0 337.9 L886.2 339.5 L886.4 343.2 L886.5 343.6 L886.7 336.2 L886.9 337.6 L887.0 338.9 L887.2 338.1 L887.4 333.9 L887.5 349.9 L887.7 357.8 L887.9 339.2 L888.0 335.1 L888.2 345.6 L888.4 328.8 L888.5 329.6 L888.7 332.2 L888.9 332.1 L889.0 335.8 L889.2 345.3 L889.4 351.9 L889.5 351.2 L889.7 350.0 L889.9 345.4 L890.0 350.5 L890.2 351.8 L890.4 375.1 L890.5 360.5 L890.7 357.2 L890.9 358.3 L891.0 358.2 L891.2 359.6 L891.4 356.9 L891.5 360.1 L891.7 361.4 L891.9 372.4 L892.0 359.2 L892.2 369.0 L892.4 360.5 L892.5 375.0 L892.7 365.8 L892.9 362.8 L893.0 358.4 L893.2 357.8 L893.4 359.6 L893.5 353.0 L893.7 364.8 L893.9 352.7 L894.0 359.1 L894.2 362.5 L894.4 350.2 L894.5 351.9 L894.7 347.2 L894.9 359.9 L895.0 357.6 L895.2 354.3 L895.3 356.2 L895.5 348.4 L895.7 352.1 L895.8 352.3 L896.0 358.2 L896.2 339.7 L896.3 349.2 L896.5 352.8 L896.7 353.4 L896.8 349.3 L897.0 352.0 L897.2 350.4 L897.3 350.5 L897.5 348.5 L897.7 351.4 L897.8 350.8 L898.0 352.2 L898.2 356.9 L898.3 354.4 L898.5 352.0 L898.7 353.6 L898.8 353.5 L899.0 355.1 L899.2 355.0 L899.3 350.8 L899.5 344.6 L899.7 344.2 L899.8 349.3 L900.0 342.8 L900.2 350.6 L900.3 354.3 L900.5 351.5 L900.7 349.0 L900.8 338.6 L901.0 350.7 L901.2 343.9 L901.3 351.6 L901.5 352.5 L901.7 356.1 L901.8 362.8 L902.0 351.9 L902.2 362.6 L902.3 361.1 L902.5 348.6 L902.7 352.4 L902.8 352.9 L903.0 346.2 L903.2 350.9 L903.3 351.8 L903.5 357.7 L903.7 346.2 L903.8 353.3 L904.0 347.6 L904.2 351.7 L904.3 359.6 L904.5 353.6 L904.7 356.1 L904.8 357.5 L905.0 352.1 L905.1 360.1 L905.3 360.5 L905.5 357.5 L905.6 366.4 L905.8 368.6 L906.0 364.6 L906.1 365.1 L906.3 348.0 L906.5 354.3 L906.6 360.4 L906.8 363.0 L907.0 362.7 L907.1 361.2 L907.3 360.2 L907.5 355.8 L907.6 362.1 L907.8 356.4 L908.0 355.9 L908.1 356.0 L908.3 361.6 L908.5 360.9 L908.6 354.4 L908.8 352.2 L909.0 349.7 L909.1 356.3 L909.3 345.8 L909.5 343.5 L909.6 357.4 L909.8 360.4 L910.0 351.3 L910.1 352.6 L910.3 351.9 L910.5 354.0 L910.6 344.4 L910.8 342.4 L911.0 348.1 L911.1 356.5 L911.3 352.9 L911.5 347.7 L911.6 351.4 L911.8 349.5 L912.0 348.3 L912.1 347.3 L912.3 352.8 L912.5 353.7 L912.6 355.1 L912.8 354.4 L913.0 349.5 L913.1 351.4 L913.3 353.2 L913.5 356.0 L913.6 351.5 L913.8 363.6 L914.0 343.7 L914.1 352.3 L914.3 344.0 L914.5 345.9 L914.6 374.5 L914.8 354.4 L914.9 353.9 L915.1 358.2 L915.3 346.6 L915.4 348.8 L915.6 355.5 L915.8 346.5 L915.9 349.8 L916.1 340.4 L916.3 352.9 L916.4 356.8 L916.6 353.6 L916.8 347.8 L916.9 343.0 L917.1 354.6 L917.3 337.4 L917.4 348.3 L917.6 340.4 L917.8 351.1 L917.9 346.0 L918.1 354.0 L918.3 343.6 L918.4 346.3 L918.6 359.3 L918.8 361.0 L918.9 346.8 L919.1 343.3 L919.3 356.5 L919.4 353.3 L919.6 344.2 L919.8 351.6 L919.9 354.9 L920.1 358.2 L920.3 361.0 L920.4 362.8 L920.6 354.6 L920.8 351.4 L920.9 359.3 L921.1 361.5 L921.3 364.0 L921.4 361.8 L921.6 355.2 L921.8 352.9 L921.9 361.4 L922.1 357.7 L922.3 350.5 L922.4 350.5 L922.6 353.5 L922.8 340.7 L922.9 353.1 L923.1 347.7 L923.3 343.5 L923.4 342.4 L923.6 343.8 L923.8 348.4 L923.9 344.1 L924.1 359.5 L924.3 348.9 L924.4 345.8 L924.6 352.4 L924.7 354.5 L924.9 353.4 L925.1 352.4 L925.2 345.9 L925.4 350.7 L925.6 348.8 L925.7 355.7 L925.9 346.4 L926.1 353.3 L926.2 344.4 L926.4 342.7 L926.6 342.6 L926.7 350.1 L926.9 342.6 L927.1 346.2 L927.2 344.2 L927.4 347.4 L927.6 348.3 L927.7 346.5 L927.9 348.8 L928.1 339.3 L928.2 343.6 L928.4 339.0 L928.6 343.0 L928.7 333.2 L928.9 332.6 L929.1 340.5 L929.2 346.6 L929.4 336.6 L929.6 341.6 L929.7 349.0 L929.9 350.3 L930.1 346.5 L930.2 342.3 L930.4 347.0 L930.6 341.7 L930.7 327.4 L930.9 341.9 L931.1 348.7 L931.2 341.7 L931.4 340.6 L931.6 331.7 L931.7 352.4 L931.9 353.6 L932.1 351.5 L932.2 346.0 L932.4 346.6 L932.6 350.6 L932.7 345.4 L932.9 348.1 L933.1 350.7 L933.2 350.0 L933.4 376.4 L933.6 348.2 L933.7 350.0 L933.9 342.8 L934.1 356.5 L934.2 350.0 L934.4 354.8 L934.5 348.8 L934.7 355.6 L934.9 352.3 L935.0 351.3 L935.2 354.0 L935.4 354.7 L935.5 350.1 L935.7 363.8 L935.9 347.1 L936.0 350.9 L936.2 350.4 L936.4 343.5 L936.5 347.1 L936.7 355.1 L936.9 344.1 L937.0 352.8 L937.2 347.5 L937.4 348.3 L937.5 348.2 L937.7 351.3 L937.9 351.6 L938.0 353.6 L938.2 343.5 L938.4 343.4 L938.5 353.8 L938.7 349.5 L938.9 342.0 L939.0 348.6 L939.2 352.2 L939.4 345.4 L939.5 344.7 L939.7 344.4 L939.9 346.6 L940.0 338.8 L940.2 350.1 L940.4 347.2 L940.5 355.1 L940.7 345.0 L940.9 349.7 L941.0 353.8 L941.2 349.9 L941.4 351.4 L941.5 349.9 L941.7 348.9 L941.9 352.3 L942.0 354.2 L942.2 358.9 L942.4 362.2 L942.5 353.5 L942.7 355.0 L942.9 351.9 L943.0 364.8 L943.2 353.6 L943.4 349.4 L943.5 357.7 L943.7 358.1 L943.9 350.0 L944.0 356.2 L944.2 368.1 L944.3 347.2 L944.5 350.6 L944.7 352.4 L944.8 366.3 L945.0 350.8 L945.2 350.9 L945.3 347.8 L945.5 350.7 L945.7 344.7 L945.8 350.6 L946.0 347.3 L946.2 348.5 L946.3 345.0 L946.5 351.6 L946.7 350.8 L946.8 343.2 L947.0 344.4 L947.2 348.5 L947.3 349.3 L947.5 348.7 L947.7 350.5 L947.8 349.1 L948.0 349.6 L948.2 341.6 L948.3 343.3 L948.5 348.2 L948.7 339.4 L948.8 345.0 L949.0 346.5 L949.2 347.5 L949.3 347.3 L949.5 344.7 L949.7 340.1 L949.8 345.5 L950.0 340.3 L950.2 341.4 L950.3 337.4 L950.5 346.0 L950.7 346.1 L950.8 342.0 L951.0 345.0 L951.2 344.9 L951.3 346.0 L951.5 340.1 L951.7 344.1 L951.8 346.6 L952.0 340.8 L952.2 341.0 L952.3 346.5 L952.5 340.0 L952.7 343.2 L952.8 345.0 L953.0 345.7 L953.2 343.4 L953.3 348.5 L953.5 340.4 L953.7 344.8 L953.8 332.8 L954.0 343.7 L954.1 345.7 L954.3 355.5 L954.5 353.7 L954.6 344.8 L954.8 347.1 L955.0 347.5 L955.1 345.9 L955.3 340.0 L955.5 346.3 L955.6 341.0 L955.8 354.0 L956.0 344.0 L956.1 344.3 L956.3 348.6 L956.5 342.4 L956.6 343.5 L956.8 350.2 L957.0 346.2 L957.1 342.3 L957.3 342.9 L957.5 336.0 L957.6 350.1 L957.8 346.0 L958.0 337.8 L958.1 363.7 L958.3 346.3 L958.5 332.7 L958.6 345.8 L958.8 341.7 L959.0 343.6 L959.1 339.3 L959.3 332.0 L959.5 350.4 L959.6 342.2 L959.8 343.7 L960.0 353.3 L960.1 341.1 L960.3 343.6 L960.5 342.7 L960.6 341.8 L960.8 346.7 L961.0 341.0 L961.1 343.7 L961.3 345.4 L961.5 339.0 L961.6 343.4 L961.8 343.9 L962.0 345.0 L962.1 342.8 L962.3 345.8 L962.5 341.9 L962.6 345.8 L962.8 354.9 L963.0 336.0 L963.1 345.2 L963.3 333.3 L963.5 347.7 L963.6 336.7 L963.8 349.2 L963.9 347.5 L964.1 337.2 L964.3 345.5 L964.4 344.8 L964.6 341.1 L964.8 348.4 L964.9 339.9 L965.1 343.1 L965.3 346.1 L965.4 346.3 L965.6 347.1 L965.8 353.7 L965.9 349.9 L966.1 351.3 L966.3 347.4 L966.4 348.5 L966.6 349.7 L966.8 351.3 L966.9 352.1 L967.1 364.2 L967.3 366.9 L967.4 365.5 L967.6 372.7 L967.8 376.3 L967.9 367.6 L968.1 369.6 L968.3 356.5 L968.4 354.8 L968.6 357.0 L968.8 355.5 L968.9 354.1 L969.1 346.2 L969.3 353.2 L969.4 345.0 L969.6 345.1 L969.8 346.3 L969.9 346.7 L970.1 346.9 L970.3 351.8 L970.4 345.5 L970.6 346.8 L970.8 343.4 L970.9 347.0 L971.1 349.6 L971.3 348.9 L971.4 345.0 L971.6 343.9 L971.8 346.4 L971.9 346.7 L972.1 344.2 L972.3 344.2 L972.4 353.7 L972.6 340.6 L972.8 345.8 L972.9 338.0 L973.1 345.8 L973.3 342.8 L973.4 341.7 L973.6 340.1 L973.7 342.6 L973.9 338.5 L974.1 340.1 L974.2 335.5 L974.4 340.1 L974.6 339.4 L974.7 343.3 L974.9 339.7 L975.1 335.7 L975.2 343.3 L975.4 342.4 L975.6 336.6 L975.7 342.4 L975.9 335.6 L976.1 331.8 L976.2 342.3 L976.4 347.8 L976.6 341.9 L976.7 343.2 L976.9 334.4 L977.1 345.7 L977.2 345.9 L977.4 351.9 L977.6 339.6 L977.7 344.3 L977.9 335.9 L978.1 344.1 L978.2 339.3 L978.4 340.2 L978.6 342.2 L978.7 339.1 L978.9 341.1 L979.1 342.4 L979.2 348.0 L979.4 332.9 L979.6 337.8 L979.7 335.4 L979.9 339.1 L980.1 338.1 L980.2 331.5 L980.4 345.2 L980.6 336.4 L980.7 345.8 L980.9 346.9 L981.1 347.5 L981.2 345.1 L981.4 337.4 L981.6 337.4 L981.7 342.8 L981.9 344.7 L982.1 338.0 L982.2 340.3 L982.4 339.6 L982.6 333.8 L982.7 333.2 L982.9 335.9 L983.1 342.1 L983.2 330.6 L983.4 328.3 L983.5 346.1 L983.7 333.5 L983.9 345.5 L984.0 338.0 L984.2 342.2 L984.4 338.9 L984.5 341.5 L984.7 339.9 L984.9 341.1 L985.0 336.2 L985.2 326.7 L985.4 341.4 L985.5 336.6 L985.7 336.3 L985.9 335.5 L986.0 345.5 L986.2 336.9 L986.4 358.3 L986.5 337.8 L986.7 344.6 L986.9 340.2 L987.0 343.4 L987.2 340.8 L987.4 333.6 L987.5 335.8 L987.7 337.0 L987.9 345.0 L988.0 340.7 L988.2 339.2 L988.4 344.4 L988.5 339.4 L988.7 338.9 L988.9 339.4 L989.0 345.9 L989.2 345.3 L989.4 339.8 L989.5 331.4 L989.7 342.5 L989.9 340.5 L990.0 338.4 L990.2 355.7 L990.4 337.0 L990.5 345.8 L990.7 339.6 L990.9 341.1 L991.0 344.5 L991.2 337.2 L991.4 338.2 L991.5 342.7 L991.7 338.8 L991.9 338.4 L992.0 339.7 L992.2 333.1 L992.4 340.3 L992.5 340.8 L992.7 333.3 L992.9 332.2 L993.0 339.6 L993.2 345.8 L993.3 337.0 L993.5 321.3 L993.7 336.6 L993.8 329.8 L994.0 333.7 L994.2 335.7 L994.3 336.4 L994.5 332.4 L994.7 344.1 L994.8 333.2 L995.0 345.5 L995.2 343.9 L995.3 332.6 L995.5 343.0 L995.7 340.4 L995.8 338.2 L996.0 336.3 L996.2 339.3 L996.3 342.8 L996.5 338.7 L996.7 341.1 L996.8 344.4 L997.0 342.1 L997.2 332.7 L997.3 330.8 L997.5 334.9 L997.7 342.5 L997.8 336.9 L998.0 335.9 L998.2 330.0 L998.3 328.3 L998.5 338.1 L998.7 336.0 L998.8 331.3 L999.0 334.3 L999.2 328.5 L999.3 334.2 L999.5 336.6 L999.7 339.2 L999.8 332.4 L1000.0 325.0 L1000.2 337.6 L1000.3 335.6 L1000.5 334.6 L1000.7 335.2 L1000.8 333.6 L1001.0 348.3 L1001.2 336.4 L1001.3 339.6 L1001.5 334.3 L1001.7 339.2 L1001.8 341.7 L1002.0 328.6 L1002.2 331.8 L1002.3 319.4 L1002.5 341.3 L1002.7 336.8 L1002.8 333.8 L1003.0 332.7 L1003.1 343.6 L1003.3 335.2 L1003.5 331.1 L1003.6 334.5 L1003.8 347.1 L1004.0 337.9 L1004.1 345.5 L1004.3 335.1 L1004.5 330.2 L1004.6 328.7 L1004.8 330.7 L1005.0 345.4 L1005.1 325.8 L1005.3 336.0 L1005.5 333.1 L1005.6 337.7 L1005.8 333.4 L1006.0 353.5 L1006.1 334.4 L1006.3 341.9 L1006.5 329.2 L1006.6 338.7 L1006.8 329.5 L1007.0 333.4 L1007.1 332.4 L1007.3 332.4 L1007.5 334.2 L1007.6 329.9 L1007.8 342.4 L1008.0 333.5 L1008.1 326.8 L1008.3 332.9 L1008.5 325.3 L1008.6 330.8 L1008.8 321.7 L1009.0 328.3 L1009.1 328.5 L1009.3 326.8 L1009.5 326.4 L1009.6 329.2 L1009.8 333.6 L1010.0 324.2 L1010.1 330.2 L1010.3 330.6 L1010.5 326.9 L1010.6 329.4 L1010.8 327.2 L1011.0 323.5 L1011.1 319.2 L1011.3 324.6 L1011.5 328.0 L1011.6 327.0 L1011.8 324.3 L1012.0 316.8 L1012.1 328.8 L1012.3 328.4 L1012.5 318.1 L1012.6 329.7 L1012.8 327.7 L1012.9 334.0 L1013.1 329.0 L1013.3 322.8 L1013.4 332.6 L1013.6 320.2 L1013.8 335.8 L1013.9 328.2 L1014.1 323.8 L1014.3 342.7 L1014.4 327.5 L1014.6 332.6 L1014.8 326.8 L1014.9 329.5 L1015.1 325.0 L1015.3 333.1 L1015.4 328.5 L1015.6 330.3 L1015.8 333.7 L1015.9 331.3 L1016.1 326.3 L1016.3 332.7 L1016.4 332.9 L1016.6 331.3 L1016.8 340.5 L1016.9 330.1 L1017.1 332.6 L1017.3 343.6 L1017.4 335.9 L1017.6 340.3 L1017.8 337.5 L1017.9 337.2 L1018.1 334.5 L1018.3 336.0 L1018.4 334.2 L1018.6 338.5 L1018.8 335.2 L1018.9 330.2 L1019.1 337.3 L1019.3 329.5 L1019.4 331.5 L1019.6 336.6 L1019.8 333.0 L1019.9 342.6 L1020.1 336.6 L1020.3 342.7 L1020.4 338.1 L1020.6 333.7 L1020.8 340.6 L1020.9 337.7 L1021.1 334.4 L1021.3 336.0 L1021.4 330.5 L1021.6 336.1 L1021.8 335.4 L1021.9 335.6 L1022.1 332.6 L1022.3 327.0 L1022.4 332.0 L1022.6 331.2 L1022.7 332.0 L1022.9 327.0 L1023.1 334.3 L1023.2 330.1 L1023.4 338.1 L1023.6 324.8 L1023.7 330.6 L1023.9 330.9 L1024.1 334.6 L1024.2 331.3 L1024.4 332.4 L1024.6 331.8 L1024.7 334.4 L1024.9 339.9 L1025.1 325.4 L1025.2 333.0 L1025.4 330.0 L1025.6 338.1 L1025.7 328.3 L1025.9 336.3 L1026.1 343.3 L1026.2 340.8 L1026.4 344.7 L1026.6 348.7 L1026.7 340.2 L1026.9 351.2 L1027.1 342.1 L1027.2 346.5 L1027.4 349.1 L1027.6 345.1 L1027.7 345.6 L1027.9 332.5 L1028.1 343.2 L1028.2 345.5 L1028.4 337.7 L1028.6 341.9 L1028.7 343.5 L1028.9 342.7 L1029.1 349.9 L1029.2 336.9 L1029.4 339.8 L1029.6 330.2 L1029.7 339.7 L1029.9 330.6 L1030.1 331.7 L1030.2 339.5 L1030.4 337.7 L1030.6 332.0 L1030.7 335.3 L1030.9 339.9 L1031.1 327.6 L1031.2 336.6 L1031.4 338.8 L1031.6 333.3 L1031.7 331.0 L1031.9 335.5 L1032.1 329.5 L1032.2 337.0 L1032.4 334.5 L1032.5 330.0 L1032.7 335.3 L1032.9 327.8 L1033.0 335.2 L1033.2 335.4 L1033.4 329.5 L1033.5 333.8 L1033.7 336.8 L1033.9 331.2 L1034.0 335.7 L1034.2 325.2 L1034.4 330.7 L1034.5 325.9 L1034.7 338.8 L1034.9 335.2 L1035.0 333.8 L1035.2 333.6 L1035.4 336.8 L1035.5 329.2 L1035.7 338.9 L1035.9 337.5 L1036.0 333.4 L1036.2 342.2 L1036.4 339.1 L1036.5 340.6 L1036.7 337.8 L1036.9 331.7 L1037.0 338.2 L1037.2 330.9 L1037.4 334.1 L1037.5 339.9 L1037.7 332.6 L1037.9 334.6 L1038.0 331.1 L1038.2 337.5 L1038.4 327.7 L1038.5 336.0 L1038.7 337.0 L1038.9 332.2 L1039.0 329.2 L1039.2 338.5 L1039.4 317.6 L1039.5 333.6 L1039.7 333.0 L1039.9 342.3 L1040.0 332.7 L1040.2 331.5 L1040.4 331.1 L1040.5 328.5 L1040.7 333.0 L1040.9 334.9 L1041.0 335.6 L1041.2 337.1 L1041.4 321.9 L1041.5 337.8 L1041.7 340.9 L1041.9 328.2 L1042.0 332.3 L1042.2 342.3 L1042.3 336.3 L1042.5 340.0 L1042.7 339.4 L1042.8 338.5 L1043.0 338.2 L1043.2 350.0 L1043.3 334.0 L1043.5 338.8 L1043.7 354.2 L1043.8 332.7 L1044.0 331.7 L1044.2 333.0 L1044.3 334.5 L1044.5 335.2 L1044.7 340.2 L1044.8 337.7 L1045.0 343.3 L1045.2 330.2 L1045.3 339.9 L1045.5 339.9 L1045.7 328.7 L1045.8 334.1 L1046.0 339.8 L1046.2 332.0 L1046.3 337.4 L1046.5 336.2 L1046.7 339.1 L1046.8 330.4 L1047.0 331.7 L1047.2 329.6 L1047.3 338.2 L1047.5 336.0 L1047.7 336.4 L1047.8 331.0 L1048.0 336.9 L1048.2 342.0 L1048.3 323.9 L1048.5 337.0 L1048.7 333.8 L1048.8 333.3 L1049.0 329.7 L1049.2 338.4 L1049.3 336.9 L1049.5 342.4 L1049.7 333.4 L1049.8 331.5 L1050.0 332.7 L1050.2 333.1 L1050.3 337.6 L1050.5 332.0 L1050.7 329.2 L1050.8 336.5 L1051.0 341.6 L1051.2 339.2 L1051.3 331.8 L1051.5 333.2 L1051.7 340.1 L1051.8 339.4 L1052.0 343.3 L1052.1 338.9 L1052.3 336.2 L1052.5 342.3 L1052.6 335.8 L1052.8 334.4 L1053.0 344.3 L1053.1 342.3 L1053.3 341.7 L1053.5 337.8 L1053.6 343.9 L1053.8 342.8 L1054.0 348.6 L1054.1 335.5 L1054.3 338.5 L1054.5 340.9 L1054.6 341.7 L1054.8 343.2 L1055.0 338.1 L1055.1 342.1 L1055.3 351.0 L1055.5 344.7 L1055.6 352.5 L1055.8 352.1 L1056.0 349.4 L1056.1 350.0 L1056.3 348.3 L1056.5 353.2 L1056.6 357.8 L1056.8 355.3 L1057.0 358.6 L1057.1 350.7 L1057.3 351.5 L1057.5 360.3 L1057.6 360.3 L1057.8 351.5 L1058.0 353.4 L1058.1 356.7 L1058.3 353.1 L1058.5 354.0 L1058.6 356.1 L1058.8 351.8 L1059.0 349.4 L1059.1 354.2 L1059.3 348.3 L1059.5 344.0 L1059.6 336.1 L1059.8 355.9 L1060.0 347.5 L1060.1 349.3 L1060.3 351.0 L1060.5 349.4 L1060.6 341.3 L1060.8 349.1 L1061.0 349.9 L1061.1 341.8 L1061.3 344.7 L1061.5 350.7 L1061.6 343.8 L1061.8 341.0 L1061.9 351.1 L1062.1 346.7 L1062.3 351.6 L1062.4 340.5 L1062.6 344.4 L1062.8 343.2 L1062.9 339.0 L1063.1 351.3 L1063.3 341.6 L1063.4 346.6 L1063.6 348.1 L1063.8 344.7 L1063.9 348.9 L1064.1 349.3 L1064.3 353.4 L1064.4 348.4 L1064.6 355.3 L1064.8 350.8 L1064.9 349.6 L1065.1 352.1 L1065.3 349.8 L1065.4 344.0 L1065.6 350.6 L1065.8 347.1 L1065.9 358.9 L1066.1 351.6 L1066.3 340.5 L1066.4 345.5 L1066.6 347.0 L1066.8 353.9 L1066.9 344.6 L1067.1 349.5 L1067.3 339.7 L1067.4 341.8 L1067.6 337.9 L1067.8 338.4 L1067.9 346.5 L1068.1 348.0 L1068.3 339.4 L1068.4 337.7 L1068.6 347.7 L1068.8 342.3 L1068.9 333.3 L1069.1 345.5 L1069.3 338.5 L1069.4 339.0 L1069.6 343.2 L1069.8 347.2 L1069.9 345.9 L1070.1 335.3 L1070.3 344.7 L1070.4 338.6 L1070.6 330.3 L1070.8 331.8 L1070.9 339.2 L1071.1 341.2 L1071.3 374.9 L1071.4 339.2 L1071.6 339.7 L1071.8 345.1 L1071.9 337.3 L1072.1 341.2 L1072.2 346.1 L1072.4 341.4 L1072.6 335.1 L1072.7 340.7 L1072.9 347.6 L1073.1 340.1 L1073.2 342.0 L1073.4 350.2 L1073.6 341.7 L1073.7 346.1 L1073.9 347.0 L1074.1 350.5 L1074.2 340.4 L1074.4 361.9 L1074.6 338.8 L1074.7 342.5 L1074.9 349.6 L1075.1 341.5 L1075.2 336.1 L1075.4 344.6 L1075.6 349.0 L1075.7 359.5 L1075.9 343.3 L1076.1 340.7 L1076.2 345.2 L1076.4 355.3 L1076.6 346.8 L1076.7 355.5 L1076.9 345.8 L1077.1 351.9 L1077.2 345.4 L1077.4 351.5 L1077.6 353.3 L1077.7 341.2 L1077.9 345.7 L1078.1 343.5 L1078.2 347.1 L1078.4 340.7 L1078.6 337.9 L1078.7 344.2 L1078.9 342.2 L1079.1 339.7 L1079.2 339.9 L1079.4 336.5 L1079.6 336.8 L1079.7 339.3 L1079.9 337.6 L1080.1 331.2 L1080.2 349.6 L1080.4 344.7 L1080.6 342.4 L1080.7 347.8 L1080.9 350.2 L1081.1 361.7 L1081.2 356.6 L1081.4 357.8 L1081.6 365.2 L1081.7 357.5 L1081.9 367.5 L1082.0 361.9 L1082.2 362.0 L1082.4 362.3 L1082.5 361.8 L1082.7 357.7 L1082.9 352.6 L1083.0 361.7 L1083.2 364.2 L1083.4 354.8 L1083.5 356.2 L1083.7 360.4 L1083.9 361.5 L1084.0 363.0 L1084.2 346.5 L1084.4 353.6 L1084.5 359.7 L1084.7 361.0 L1084.9 360.4 L1085.0 354.9 L1085.2 355.1 L1085.4 356.2 L1085.5 349.4 L1085.7 366.0 L1085.9 381.5 L1086.0 356.5 L1086.2 354.1 L1086.4 351.6 L1086.5 345.5 L1086.7 355.9 L1086.9 355.8 L1087.0 355.7 L1087.2 357.8 L1087.4 350.3 L1087.5 354.2 L1087.7 349.3 L1087.9 342.4 L1088.0 344.4 L1088.2 347.9 L1088.4 346.4 L1088.5 349.3 L1088.7 345.1 L1088.9 344.6 L1089.0 349.0 L1089.2 348.0 L1089.4 355.2 L1089.5 350.4 L1089.7 347.7 L1089.9 347.3 L1090.0 355.6 L1090.2 351.7 L1090.4 346.3 L1090.5 355.3 L1090.7 354.1 L1090.9 357.6 L1091.0 357.8 L1091.2 350.6 L1091.4 359.9 L1091.5 351.5 L1091.7 355.2 L1091.8 354.9 L1092.0 354.6 L1092.2 349.6 L1092.3 349.1 L1092.5 368.7 L1092.7 344.3 L1092.8 352.4 L1093.0 358.9 L1093.2 349.5 L1093.3 352.9 L1093.5 350.8 L1093.7 349.9 L1093.8 355.6 L1094.0 359.1 L1094.2 347.4 L1094.3 359.9 L1094.5 357.2 L1094.7 354.6 L1094.8 356.6 L1095.0 358.6 L1095.2 357.5 L1095.3 358.2 L1095.5 358.8 L1095.7 351.1 L1095.8 363.3 L1096.0 369.6 L1096.2 360.8 L1096.3 364.6 L1096.5 372.4 L1096.7 365.4 L1096.8 358.1 L1097.0 362.6 L1097.2 367.9 L1097.3 357.2 L1097.5 362.0 L1097.7 357.6 L1097.8 360.6 L1098.0 366.1 L1098.2 370.4 L1098.3 362.4 L1098.5 363.6 L1098.7 363.1 L1098.8 367.4 L1099.0 371.8 L1099.2 365.0 L1099.3 358.6 L1099.5 367.2 L1099.7 363.4 L1099.8 360.3 L1100.0 364.5 L1100.2 364.4 L1100.3 360.6 L1100.5 363.6 L1100.7 371.1 L1100.8 363.0 L1101.0 369.2 L1101.2 364.8 L1101.3 363.2 L1101.5 379.2 L1101.6 362.9 L1101.8 372.0 L1102.0 366.0 L1102.1 364.1 L1102.3 374.4 L1102.5 372.9 L1102.6 375.6 L1102.8 370.1 L1103.0 364.6 L1103.1 373.4 L1103.3 364.8 L1103.5 375.6 L1103.6 386.5 L1103.8 375.0 L1104.0 371.9 L1104.1 373.4 L1104.3 368.3 L1104.5 374.2 L1104.6 369.8 L1104.8 372.1 L1105.0 376.0 L1105.1 367.7 L1105.3 369.5 L1105.5 372.2 L1105.6 373.8 L1105.8 374.5 L1106.0 377.7 L1106.1 371.0 L1106.3 365.6 L1106.5 366.9 L1106.6 364.1 L1106.8 370.4 L1107.0 365.4 L1107.1 369.9 L1107.3 367.2 L1107.5 359.7 L1107.6 365.0 L1107.8 367.8 L1108.0 356.4 L1108.1 359.0 L1108.3 359.4 L1108.5 359.7 L1108.6 361.1 L1108.8 365.0 L1109.0 365.8 L1109.1 357.2 L1109.3 355.4 L1109.5 363.9 L1109.6 368.2 L1109.8 363.7 L1110.0 369.5 L1110.1 363.0 L1110.3 367.3 L1110.5 365.3 L1110.6 360.8 L1110.8 360.0 L1111.0 362.5 L1111.1 358.6 L1111.3 358.0 L1111.4 355.5 L1111.6 359.4 L1111.8 358.9 L1111.9 347.6 L1112.1 356.8 L1112.3 358.2 L1112.4 365.7 L1112.6 353.4 L1112.8 349.9 L1112.9 352.6 L1113.1 353.1 L1113.3 351.6 L1113.4 352.8 L1113.6 351.0 L1113.8 353.2 L1113.9 358.7 L1114.1 351.3 L1114.3 357.0 L1114.4 353.1 L1114.6 359.4 L1114.8 369.2 L1114.9 344.8 L1115.1 366.0 L1115.3 355.8 L1115.4 366.7 L1115.6 358.4 L1115.8 364.6 L1115.9 362.6 L1116.1 369.5 L1116.3 357.7 L1116.4 363.2 L1116.6 360.8 L1116.8 349.6 L1116.9 360.3 L1117.1 360.5 L1117.3 368.4 L1117.4 357.1 L1117.6 364.1 L1117.8 370.3 L1117.9 369.6 L1118.1 366.4 L1118.3 363.7 L1118.4 366.3 L1118.6 370.5 L1118.8 368.4 L1118.9 371.9 L1119.1 367.1 L1119.3 367.7 L1119.4 369.1 L1119.6 372.3 L1119.8 358.3 L1119.9 363.6 L1120.1 365.7 L1120.3 364.9 L1120.4 367.4 L1120.6 365.6 L1120.8 368.2 L1120.9 369.7 L1121.1 360.1 L1121.2 360.5 L1121.4 364.9 L1121.6 364.8 L1121.7 368.7 L1121.9 375.6 L1122.1 371.8 L1122.2 365.3 L1122.4 365.4 L1122.6 366.4 L1122.7 366.9 L1122.9 375.0 L1123.1 364.7 L1123.2 374.4 L1123.4 382.4 L1123.6 372.8 L1123.7 374.1 L1123.9 370.6 L1124.1 381.1 L1124.2 374.0 L1124.4 375.8 L1124.6 380.9 L1124.7 369.7 L1124.9 365.0 L1125.1 364.4 L1125.2 368.1 L1125.4 366.2 L1125.6 365.9 L1125.7 370.6 L1125.9 368.7 L1126.1 363.5 L1126.2 352.0 L1126.4 361.3 L1126.6 367.7 L1126.7 357.0 L1126.9 366.1 L1127.1 372.4 L1127.2 372.6 L1127.4 366.6 L1127.6 362.7 L1127.7 365.5 L1127.9 362.1 L1128.1 373.9 L1128.2 370.7 L1128.4 368.9 L1128.6 369.8 L1128.7 358.8 L1128.9 365.3 L1129.1 390.8 L1129.2 363.0 L1129.4 367.1 L1129.6 368.7 L1129.7 373.3 L1129.9 363.5 L1130.1 369.1 L1130.2 377.2 L1130.4 365.0 L1130.6 379.8 L1130.7 362.9 L1130.9 374.9 L1131.0 368.7 L1131.2 367.7 L1131.4 371.3 L1131.5 379.0 L1131.7 365.3 L1131.9 373.0 L1132.0 376.1 L1132.2 374.9 L1132.4 376.6 L1132.5 356.6 L1132.7 376.6 L1132.9 380.5 L1133.0 382.9 L1133.2 373.2 L1133.4 383.6 L1133.5 372.2 L1133.7 379.0 L1133.9 377.0 L1134.0 353.8 L1134.2 391.8 L1134.4 387.4 L1134.5 382.3 L1134.7 379.7 L1134.9 387.8 L1135.0 380.3 L1135.2 379.9 L1135.4 380.1 L1135.5 379.4 L1135.7 383.2 L1135.9 377.0 L1136.0 375.7 L1136.2 370.5 L1136.4 379.7 L1136.5 370.4 L1136.7 382.0 L1136.9 370.4 L1137.0 372.8 L1137.2 376.5 L1137.4 384.2 L1137.5 372.8 L1137.7 375.6 L1137.9 372.6 L1138.0 368.0 L1138.2 357.6 L1138.4 375.7 L1138.5 374.8 L1138.7 372.9 L1138.9 356.8 L1139.0 379.5 L1139.2 376.1 L1139.4 369.1 L1139.5 369.9 L1139.7 376.2 L1139.9 375.1 L1140.0 378.0 L1140.2 381.4 L1140.4 374.6 L1140.5 372.2 L1140.7 372.1 L1140.8 372.9 L1141.0 360.0 L1141.2 380.4 L1141.3 372.4 L1141.5 366.8 L1141.7 372.6 L1141.8 376.4 L1142.0 382.4 L1142.2 368.9 L1142.3 369.2 L1142.5 363.8 L1142.7 368.9 L1142.8 374.3 L1143.0 367.9 L1143.2 378.2 L1143.3 380.1 L1143.5 374.9 L1143.7 367.3 L1143.8 372.5 L1144.0 377.0 L1144.2 371.7 L1144.3 379.1 L1144.5 370.2 L1144.7 378.1 L1144.8 375.3 L1145.0 383.0 L1145.2 372.5 L1145.3 379.0 L1145.5 372.0 L1145.7 380.9 L1145.8 380.9 L1146.0 370.2 L1146.2 380.7 L1146.3 383.5 L1146.5 380.6 L1146.7 376.8 L1146.8 382.1 L1147.0 381.8 L1147.2 382.8 L1147.3 381.6 L1147.5 376.8 L1147.7 381.9 L1147.8 370.9 L1148.0 381.8 L1148.2 381.1 L1148.3 375.0 L1148.5 381.2 L1148.7 378.7 L1148.8 374.0 L1149.0 377.2 L1149.2 375.9 L1149.3 374.8 L1149.5 382.0 L1149.7 377.1 L1149.8 386.3 L1150.0 380.7 L1150.2 378.8 L1150.3 379.8 L1150.5 379.8 L1150.6 378.3 L1150.8 376.1 L1151.0 378.0 L1151.1 386.6 L1151.3 383.2 L1151.5 382.8 L1151.6 386.2 L1151.8 384.4 L1152.0 377.4 L1152.1 384.6 L1152.3 381.3 L1152.5 379.0 L1152.6 386.7 L1152.8 381.5 L1153.0 374.5 L1153.1 383.5 L1153.3 368.2 L1153.5 378.1 L1153.6 377.9 L1153.8 383.6 L1154.0 385.0 L1154.1 379.8 L1154.3 373.8 L1154.5 377.6 L1154.6 376.0 L1154.8 378.7 L1155.0 377.9 L1155.1 380.9 L1155.3 384.9 L1155.5 379.1 L1155.6 378.4 L1155.8 371.5 L1156.0 383.4 L1156.1 374.5 L1156.3 371.6 L1156.5 373.9 L1156.6 369.0 L1156.8 379.7 L1157.0 375.5 L1157.1 381.8 L1157.3 381.3 L1157.5 383.6 L1157.6 371.4 L1157.8 377.1 L1158.0 378.8 L1158.1 375.2 L1158.3 378.4 L1158.5 376.8 L1158.6 373.5 L1158.8 376.4 L1159.0 377.1 L1159.1 368.4 L1159.3 378.8 L1159.5 373.0 L1159.6 369.6 L1159.8 378.6 L1160.0 378.5 L1160.1 384.3 L1160.3 380.6 L1160.4 372.0 L1160.6 376.1 L1160.8 380.8 L1160.9 375.1 L1161.1 382.9 L1161.3 378.3 L1161.4 380.9 L1161.6 374.1 L1161.8 377.9 L1161.9 377.5 L1162.1 381.9 L1162.3 383.1 L1162.4 370.0 L1162.6 386.1 L1162.8 376.9 L1162.9 380.6 L1163.1 378.1 L1163.3 379.5 L1163.4 378.2 L1163.6 370.8 L1163.8 364.6 L1163.9 368.3 L1164.1 369.5 L1164.3 375.5 L1164.4 369.7 L1164.6 368.9 L1164.8 375.1 L1164.9 374.4 L1165.1 374.0 L1165.3 373.6 L1165.4 367.6 L1165.6 379.4 L1165.8 368.8 L1165.9 378.4 L1166.1 367.7 L1166.3 375.5 L1166.4 370.3 L1166.6 370.1 L1166.8 367.4 L1166.9 371.6 L1167.1 380.4 L1167.3 369.0 L1167.4 373.6 L1167.6 377.2 L1167.8 375.6 L1167.9 368.5 L1168.1 368.8 L1168.3 381.2 L1168.4 368.0 L1168.6 371.5 L1168.8 372.3 L1168.9 388.6 L1169.1 377.6 L1169.3 377.7 L1169.4 376.4 L1169.6 371.7 L1169.8 379.1 L1169.9 376.7 L1170.1 372.7 L1170.2 379.6 L1170.4 373.0 L1170.6 369.7 L1170.7 376.7 L1170.9 370.3 L1171.1 369.1 L1171.2 377.2 L1171.4 369.7 L1171.6 370.9 L1171.7 379.2 L1171.9 378.6 L1172.1 381.8 L1172.2 379.8 L1172.4 371.5 L1172.6 373.8 L1172.7 376.6 L1172.9 381.4 L1173.1 374.6 L1173.2 379.2 L1173.4 387.3 L1173.6 377.2 L1173.7 375.7 L1173.9 377.4 L1174.1 376.5 L1174.2 384.6 L1174.4 371.9 L1174.6 385.1 L1174.7 376.2 L1174.9 382.1 L1175.1 380.1 L1175.2 381.4 L1175.4 376.2 L1175.6 386.7 L1175.7 381.7 L1175.9 380.8 L1176.1 376.9 L1176.2 381.5 L1176.4 380.9 L1176.6 371.7 L1176.7 376.5 L1176.9 377.6 L1177.1 379.3 L1177.2 378.9 L1177.4 382.1 L1177.6 388.9 L1177.7 385.9 L1177.9 379.0 L1178.1 388.2 L1178.2 381.4 L1178.4 380.0 L1178.6 379.8 L1178.7 372.5 L1178.9 381.3 L1179.1 384.4 L1179.2 380.8 L1179.4 375.7 L1179.6 380.5 L1179.7 372.1 L1179.9 371.2 L1180.0 375.6 L1180.2 377.5 L1180.4 369.6 L1180.5 383.8 L1180.7 369.5 L1180.9 373.3 L1181.0 382.9 L1181.2 380.1 L1181.4 379.9 L1181.5 379.8 L1181.7 386.1 L1181.9 374.2 L1182.0 377.2 L1182.2 376.4 L1182.4 370.8 L1182.5 387.7 L1182.7 382.1 L1182.9 379.8 L1183.0 361.9 L1183.2 378.2 L1183.4 381.2 L1183.5 373.3 L1183.7 378.1 L1183.9 378.5 L1184.0 377.5 L1184.2 383.9 L1184.4 374.2 L1184.5 374.2 L1184.7 375.6 L1184.9 369.3 L1185.0 376.0 L1185.2 376.3 L1185.4 372.3 L1185.5 373.9 L1185.7 373.2 L1185.9 373.6 L1186.0 374.7 L1186.2 369.8 L1186.4 378.3 L1186.5 372.7 L1186.7 372.1 L1186.9 368.4 L1187.0 370.1 L1187.2 371.2 L1187.4 372.0 L1187.5 364.8 L1187.7 373.4 L1187.9 360.0 L1188.0 374.4 L1188.2 364.0 L1188.4 365.1 L1188.5 362.1 L1188.7 369.1 L1188.9 367.8 L1189.0 372.2 L1189.2 366.7 L1189.4 371.5 L1189.5 364.7 L1189.7 367.1 L1189.8 362.2 L1190.0 375.9 L1190.2 366.2 L1190.3 363.4 L1190.5 364.2 L1190.7 365.3 L1190.8 362.5 L1191.0 362.5 L1191.2 364.9 L1191.3 358.0 L1191.5 359.2 L1191.7 372.2 L1191.8 366.8 L1192.0 365.8 L1192.2 361.4 L1192.3 368.1 L1192.5 369.3 L1192.7 368.0 L1192.8 371.4 L1193.0 367.4 L1193.2 367.6 L1193.3 366.4 L1193.5 363.9 L1193.7 365.9 L1193.8 368.4 L1194.0 363.4 L1194.2 364.1 L1194.3 368.9 L1194.5 365.1 L1194.7 368.2 L1194.8 363.1 L1195.0 365.6 L1195.2 365.0 L1195.3 365.6 L1195.5 363.5 L1195.7 371.6 L1195.8 367.3 L1196.0 365.3 L1196.2 371.8 L1196.3 363.7 L1196.5 365.4 L1196.7 370.5 L1196.8 369.9 L1197.0 370.5 L1197.2 371.4 L1197.3 371.0 L1197.5 368.3 L1197.7 377.0 L1197.8 377.6 L1198.0 376.7 L1198.2 370.6 L1198.3 372.4 L1198.5 379.4 L1198.7 373.0 L1198.8 374.1 L1199.0 374.7 L1199.2 373.6 L1199.3 375.4 L1199.5 358.1 L1199.6 371.4 L1199.8 366.4 L1200.0 373.1 L1200.1 377.2 L1200.3 370.8 L1200.5 374.2 L1200.6 375.1 L1200.8 376.0 L1201.0 373.3 L1201.1 374.0 L1201.3 378.2 L1201.5 372.8 L1201.6 376.5 L1201.8 372.6 L1202.0 371.4 L1202.1 373.7 L1202.3 390.9 L1202.5 366.8 L1202.6 375.9 L1202.8 371.5 L1203.0 371.7 L1203.1 371.3 L1203.3 376.6 L1203.5 378.7 L1203.6 374.0 L1203.8 381.8 L1204.0 370.3 L1204.1 379.6 L1204.3 373.8 L1204.5 375.4 L1204.6 377.0 L1204.8 375.0 L1205.0 371.1 L1205.1 367.8 L1205.3 372.5 L1205.5 372.7 L1205.6 364.1 L1205.8 375.2 L1206.0 377.4 L1206.1 360.7 L1206.3 376.3 L1206.5 369.0 L1206.6 371.6 L1206.8 368.4 L1207.0 364.1 L1207.1 364.6 L1207.3 376.3 L1207.5 367.6 L1207.6 377.5 L1207.8 367.5 L1208.0 369.4 L1208.1 373.1 L1208.3 366.8 L1208.5 373.6 L1208.6 373.1 L1208.8 374.6 L1209.0 370.1 L1209.1 371.4 L1209.3 362.6 L1209.4 375.2 L1209.6 373.1 L1209.8 367.8 L1209.9 375.1 L1210.1 366.2 L1210.3 371.4 L1210.4 372.2 L1210.6 371.5 L1210.8 364.1 L1210.9 358.2 L1211.1 368.0 L1211.3 368.8 L1211.4 370.6 L1211.6 367.5 L1211.8 358.0 L1211.9 364.7 L1212.1 368.3 L1212.3 360.9 L1212.4 367.2 L1212.6 377.1 L1212.8 368.5 L1212.9 363.4 L1213.1 371.5 L1213.3 365.3 L1213.4 368.0 L1213.6 369.3 L1213.8 354.2 L1213.9 371.5 L1214.1 369.6 L1214.3 369.6 L1214.4 368.2 L1214.6 372.3 L1214.8 369.3 L1214.9 366.4 L1215.1 372.3 L1215.3 372.2 L1215.4 368.6 L1215.6 372.0 L1215.8 379.0 L1215.9 370.7 L1216.1 374.5 L1216.3 375.2 L1216.4 371.2 L1216.6 370.5 L1216.8 377.9 L1216.9 376.2 L1217.1 372.2 L1217.3 375.8 L1217.4 371.0 L1217.6 385.7 L1217.8 378.2 L1217.9 376.1 L1218.1 377.2 L1218.3 380.8 L1218.4 375.6 L1218.6 377.5 L1218.8 378.9 L1218.9 376.4 L1219.1 378.9 L1219.2 384.1 L1219.4 380.9 L1219.6 380.6 L1219.7 381.0 L1219.9 386.6 L1220.1 378.5 L1220.2 378.9 L1220.4 380.9 L1220.6 378.6 L1220.7 388.9 L1220.9 385.6 L1221.1 380.4 L1221.2 383.5 L1221.4 383.9 L1221.6 382.7 L1221.7 376.6 L1221.9 387.6 L1222.1 379.5 L1222.2 377.7 L1222.4 371.6 L1222.6 386.6 L1222.7 381.4 L1222.9 379.4 L1223.1 382.8 L1223.2 377.2 L1223.4 383.1 L1223.6 382.9 L1223.7 380.1 L1223.9 379.2 L1224.1 379.1 L1224.2 379.9 L1224.4 386.4 L1224.6 386.9 L1224.7 388.3 L1224.9 379.5 L1225.1 383.1 L1225.2 380.1 L1225.4 382.9 L1225.6 383.7 L1225.7 387.2 L1225.9 386.2 L1226.1 385.3 L1226.2 381.8 L1226.4 396.2 L1226.6 380.9 L1226.7 382.9 L1226.9 382.2 L1227.1 376.8 L1227.2 383.1 L1227.4 383.2 L1227.6 378.7 L1227.7 384.0 L1227.9 387.3 L1228.1 383.3 L1228.2 380.4 L1228.4 387.6 L1228.6 384.2 L1228.7 384.5 L1228.9 384.1 L1229.0 381.4 L1229.2 377.6 L1229.4 379.9 L1229.5 380.3 L1229.7 380.4 L1229.9 380.6 L1230.0 382.7 L1230.2 381.1 L1230.4 377.7 L1230.5 378.4 L1230.7 380.6 L1230.9 377.3 L1231.0 375.8 L1231.2 374.9 L1231.4 379.4 L1231.5 387.8 L1231.7 378.7 L1231.9 381.1 L1232.0 382.0 L1232.2 383.9 L1232.4 383.7 L1232.5 384.1 L1232.7 382.2 L1232.9 383.6 L1233.0 380.1 L1233.2 396.4 L1233.4 384.9 L1233.5 380.5 L1233.7 383.3 L1233.9 383.4 L1234.0 383.3 L1234.2 382.3 L1234.4 381.1 L1234.5 378.1 L1234.7 375.1 L1234.9 380.0 L1235.0 384.9 L1235.2 382.4 L1235.4 385.2 L1235.5 376.1 L1235.7 381.7 L1235.9 384.5 L1236.0 379.5 L1236.2 380.0 L1236.4 380.6 L1236.5 381.3 L1236.7 382.1 L1236.9 378.6 L1237.0 377.5 L1237.2 383.1 L1237.4 380.6 L1237.5 381.8 L1237.7 388.2 L1237.9 381.2 L1238.0 380.5 L1238.2 378.0 L1238.4 385.0 L1238.5 382.0 L1238.7 375.1 L1238.8 380.9 L1239.0 384.1 L1239.2 379.4 L1239.3 389.5 L1239.5 386.9 L1239.7 382.6 L1239.8 384.4 L1240.0 384.7 L1240.2 383.4 L1240.3 390.5 L1240.5 387.0 L1240.7 381.2 L1240.8 390.1 L1241.0 383.5 L1241.2 387.2 L1241.3 388.2 L1241.5 390.8 L1241.7 384.5 L1241.8 386.2 L1242.0 381.7 L1242.2 386.6 L1242.3 390.8 L1242.5 381.7 L1242.7 386.1 L1242.8 386.3 L1243.0 387.9 L1243.2 382.4 L1243.3 390.9 L1243.5 388.9 L1243.7 388.2 L1243.8 393.3 L1244.0 396.6 L1244.2 387.8 L1244.3 386.6 L1244.5 385.0 L1244.7 381.0 L1244.8 388.2 L1245.0 390.2 L1245.2 384.3 L1245.3 387.3 L1245.5 389.4 L1245.7 378.8 L1245.8 384.9 L1246.0 387.1 L1246.2 385.8 L1246.3 387.6 L1246.5 389.7 L1246.7 387.4 L1246.8 380.7 L1247.0 388.3 L1247.2 385.0 L1247.3 382.7 L1247.5 384.8 L1247.7 382.9 L1247.8 387.2 L1248.0 379.5 L1248.2 391.7 L1248.3 392.4 L1248.5 387.5 L1248.6 388.6 L1248.8 391.2 L1249.0 391.5 L1249.1 383.6 L1249.3 387.2 L1249.5 388.2 L1249.6 388.4 L1249.8 385.8 L1250.0 383.1 L1250.1 388.3 L1250.3 375.8 L1250.5 380.1 L1250.6 382.3 L1250.8 383.7 L1251.0 385.5 L1251.1 385.8 L1251.3 386.3 L1251.5 388.3 L1251.6 391.2 L1251.8 381.1 L1252.0 384.3 L1252.1 383.6 L1252.3 379.3 L1252.5 385.3 L1252.6 381.6 L1252.8 378.4 L1253.0 384.4 L1253.1 385.0 L1253.3 386.5 L1253.5 387.5 L1253.6 381.4 L1253.8 382.4 L1254.0 382.1 L1254.1 389.2 L1254.3 384.2 L1254.5 384.3 L1254.6 381.7 L1254.8 388.3 L1255.0 384.3 L1255.1 384.1 L1255.3 392.2 L1255.5 385.6 L1255.6 386.2 L1255.8 383.8 L1256.0 381.1 L1256.1 384.9 L1256.3 385.1 L1256.5 388.4 L1256.6 384.0 L1256.8 386.9 L1257.0 378.9 L1257.1 383.6 L1257.3 391.7 L1257.5 381.0 L1257.6 387.4 L1257.8 384.4 L1258.0 383.1 L1258.1 385.8 L1258.3 378.5 L1258.4 388.0 L1258.6 384.3 L1258.8 386.5 L1258.9 382.8 L1259.1 382.5 L1259.3 375.2 L1259.4 377.8 L1259.6 382.2 L1259.8 380.6 L1259.9 376.6 L1260.1 377.1 L1260.3 378.2 L1260.4 375.2 L1260.6 377.7 L1260.8 377.5 L1260.9 376.5 L1261.1 380.1 L1261.3 371.5 L1261.4 375.7 L1261.6 381.4 L1261.8 377.3 L1261.9 378.0 L1262.1 378.0 L1262.3 372.4 L1262.4 376.9 L1262.6 376.0 L1262.8 375.4 L1262.9 375.6 L1263.1 372.7 L1263.3 380.4 L1263.4 369.4 L1263.6 368.6 L1263.8 374.2 L1263.9 370.3 L1264.1 384.0 L1264.3 370.3 L1264.4 379.0 L1264.6 369.6 L1264.8 371.1 L1264.9 377.3 L1265.1 377.3 L1265.3 368.7 L1265.4 367.5 L1265.6 377.0 L1265.8 371.5 L1265.9 373.8 L1266.1 374.3 L1266.3 375.8 L1266.4 374.0 L1266.6 374.5 L1266.8 370.8 L1266.9 369.0 L1267.1 370.0 L1267.3 373.7 L1267.4 376.4 L1267.6 369.8 L1267.8 370.9 L1267.9 374.4 L1268.1 374.2 L1268.2 376.4 L1268.4 373.2 L1268.6 375.9 L1268.7 371.4 L1268.9 368.5 L1269.1 380.3 L1269.2 371.0 L1269.4 372.3 L1269.6 377.7 L1269.7 378.0 L1269.9 376.4 L1270.1 370.5 L1270.2 370.0 L1270.4 372.5 L1270.6 372.2 L1270.7 372.8 L1270.9 375.2 L1271.1 371.2 L1271.2 368.4 L1271.4 368.6 L1271.6 368.8 L1271.7 367.8 L1271.9 368.9 L1272.1 374.0 L1272.2 372.9 L1272.4 371.9 L1272.6 366.8 L1272.7 365.0 L1272.9 371.7 L1273.1 369.2 L1273.2 364.8 L1273.4 366.5 L1273.6 365.8 L1273.7 369.4 L1273.9 364.8 L1274.1 366.3 L1274.2 360.7 L1274.4 366.2 L1274.6 368.1 L1274.7 365.7 L1274.9 361.6 L1275.1 366.5 L1275.2 365.7 L1275.4 370.3 L1275.6 365.7 L1275.7 370.4 L1275.9 365.3 L1276.1 364.1 L1276.2 365.0 L1276.4 366.3 L1276.6 365.7 L1276.7 364.2 L1276.9 363.1 L1277.1 366.8 L1277.2 366.9 L1277.4 366.1 L1277.6 364.3 L1277.7 365.6 L1277.9 364.3 L1278.0 367.6 L1278.2 369.5 L1278.4 370.9 L1278.5 365.9 L1278.7 365.7 L1278.9 365.4 L1279.0 370.4 L1279.2 367.0 L1279.4 370.5 L1279.5 368.8 L1279.7 366.6 L1279.9 363.9 L1280.0 362.7 L1280.2 370.1 L1280.4 367.5 L1280.5 365.5 L1280.7 368.9 L1280.9 365.8 L1281.0 362.4 L1281.2 366.0 L1281.4 364.2 L1281.5 368.5 L1281.7 363.4 L1281.9 364.2 L1282.0 366.7 L1282.2 365.9 L1282.4 362.4 L1282.5 364.0 L1282.7 363.1 L1282.9 366.7 L1283.0 365.0 L1283.2 366.3 L1283.4 366.3 L1283.5 367.5 L1283.7 361.6 L1283.9 368.2 L1284.0 371.5 L1284.2 369.1 L1284.4 370.6 L1284.5 362.6 L1284.7 369.2 L1284.9 367.7 L1285.0 366.7 L1285.2 374.7 L1285.4 360.5 L1285.5 374.2 L1285.7 362.9 L1285.9 365.9 L1286.0 365.3 L1286.2 369.2 L1286.4 371.2 L1286.5 367.6 L1286.7 368.0 L1286.9 366.0 L1287.0 370.4 L1287.2 370.5 L1287.4 366.3 L1287.5 370.8 L1287.7 366.0 L1287.8 372.3 L1288.0 369.3 L1288.2 365.4 L1288.3 369.1 L1288.5 374.3 L1288.7 370.4 L1288.8 369.3 L1289.0 365.3 L1289.2 366.7 L1289.3 373.0 L1289.5 368.0 L1289.7 370.2 L1289.8 367.2 L1290.0 370.6 L1290.2 365.2 L1290.3 367.5 L1290.5 369.6 L1290.7 371.2 L1290.8 367.8 L1291.0 371.5 L1291.2 368.4 L1291.3 368.6 L1291.5 366.4 L1291.7 366.9 L1291.8 364.5 L1292.0 368.5 L1292.2 366.9 L1292.3 368.2 L1292.5 366.1 L1292.7 367.7 L1292.8 374.4 L1293.0 367.6 L1293.2 369.8 L1293.3 369.8 L1293.5 364.7 L1293.7 370.4 L1293.8 364.7 L1294.0 372.5 L1294.2 368.5 L1294.3 368.8 L1294.5 369.2 L1294.7 366.3 L1294.8 371.4 L1295.0 371.1 L1295.2 376.0 L1295.3 372.9 L1295.5 369.2 L1295.7 376.9 L1295.8 371.9 L1296.0 375.5 L1296.2 375.8 L1296.3 373.3 L1296.5 364.1 L1296.7 372.2 L1296.8 374.9 L1297.0 382.3 L1297.2 378.9 L1297.3 380.1 L1297.5 373.7 L1297.6 373.8 L1297.8 379.4 L1298.0 375.0 L1298.1 386.0 L1298.3 380.6 L1298.5 383.9 L1298.6 381.5 L1298.8 380.0 L1299.0 379.5 L1299.1 378.6 L1299.3 386.2 L1299.5 377.7 L1299.6 383.0 L1299.8 378.4 L1300.0 376.5 L1300.1 385.6 L1300.3 376.2 L1300.5 378.8 L1300.6 382.9 L1300.8 386.2 L1301.0 381.1 L1301.1 376.6 L1301.3 380.3 L1301.5 382.0 L1301.6 378.8 L1301.8 378.7 L1302.0 383.0 L1302.1 386.4 L1302.3 378.6" stroke="#ff0000" stroke-width="2.0"/>
<rect x="139.5" y="611.1" width="1163" height="7.7" fill="#008000" fill-opacity="0.5" stroke="none"/>
<rect x="139.5" y="611.8" width="1163" height="6.6" fill="#008000" stroke="none"/>
<path d="M139.8 327.4 L139.9 325.9 L140.1 327.3 L140.2 329.0 L140.4 328.3 L140.6 330.0 L140.7 330.9 L140.9 330.1 L141.1 333.5 L141.2 334.0 L141.4 333.8 L141.6 335.2 L141.7 336.8 L141.9 335.5 L142.1 334.3 L142.2 331.9 L142.4 332.6 L142.6 330.8 L142.7 329.7 L142.9 326.8 L143.1 328.5 L143.2 325.8 L143.4 323.9 L143.6 324.8 L143.7 321.7 L143.9 317.7 L144.1 318.9 L144.2 315.8 L144.4 317.5 L144.6 314.9 L144.7 312.5 L144.9 314.9 L145.1 314.4 L145.2 318.3 L145.4 315.8 L145.6 321.2 L145.7 322.7 L145.9 327.1 L146.1 329.3 L146.2 329.5 L146.4 332.5 L146.6 333.6 L146.7 336.3 L146.9 337.1 L147.1 338.2 L147.2 340.1 L147.4 344.5 L147.6 347.3 L147.7 344.3 L147.9 341.7 L148.1 345.2 L148.2 340.6 L148.4 339.3 L148.6 338.2 L148.7 336.7 L148.9 335.3 L149.1 333.0 L149.2 333.5 L149.4 331.8 L149.6 331.7 L149.7 329.0 L149.9 327.0 L150.0 330.6 L150.2 336.0 L150.4 334.3 L150.5 335.8 L150.7 337.5 L150.9 339.6 L151.0 342.0 L151.2 343.5 L151.4 347.9 L151.5 348.2 L151.7 350.7 L151.9 353.8 L152.0 355.0 L152.2 352.2 L152.4 351.4 L152.5 350.6 L152.7 348.5 L152.9 345.7 L153.0 346.7 L153.2 345.7 L153.4 344.5 L153.5 341.7 L153.7 341.1 L153.9 339.6 L154.0 338.7 L154.2 338.9 L154.4 338.0 L154.5 336.7 L154.7 334.6 L154.9 333.5 L155.0 331.7 L155.2 330.4 L155.4 328.7 L155.5 328.1 L155.7 329.6 L155.9 328.1 L156.0 326.8 L156.2 325.9 L156.4 325.7 L156.5 326.6 L156.7 326.4 L156.9 324.6 L157.0 326.1 L157.2 324.9 L157.4 326.6 L157.5 325.2 L157.7 326.4 L157.9 326.1 L158.0 328.4 L158.2 331.2 L158.4 334.0 L158.5 335.8 L158.7 336.3 L158.9 339.8 L159.0 341.9 L159.2 343.4 L159.4 343.5 L159.5 346.0 L159.7 344.4 L159.8 344.4 L160.0 346.1 L160.2 346.0 L160.3 346.3 L160.5 347.3 L160.7 347.9 L160.8 348.0 L161.0 348.5 L161.2 348.3 L161.3 347.8 L161.5 348.4 L161.7 348.6 L161.8 349.5 L162.0 349.1 L162.2 349.3 L162.3 351.7 L162.5 351.3 L162.7 351.6 L162.8 354.5 L163.0 354.2 L163.2 356.0 L163.3 355.9 L163.5 356.1 L163.7 356.7 L163.8 357.5 L164.0 358.8 L164.2 359.3 L164.3 360.2 L164.5 360.1 L164.7 360.1 L164.8 356.6 L165.0 356.2 L165.2 355.2 L165.3 353.7 L165.5 352.3 L165.7 347.6 L165.8 348.0 L166.0 346.5 L166.2 344.6 L166.3 341.1 L166.5 340.5 L166.7 339.9 L166.8 335.0 L167.0 335.1 L167.2 333.9 L167.3 330.4 L167.5 329.8 L167.7 325.4 L167.8 324.8 L168.0 322.9 L168.2 322.2 L168.3 320.9 L168.5 320.8 L168.7 318.2 L168.8 318.0 L169.0 318.0 L169.2 316.6 L169.3 314.0 L169.5 314.8 L169.6 312.8 L169.8 312.7 L170.0 311.7 L170.1 311.6 L170.3 310.3 L170.5 309.6 L170.6 311.0 L170.8 314.0 L171.0 314.2 L171.1 316.4 L171.3 316.6 L171.5 315.9 L171.6 319.4 L171.8 318.3 L172.0 317.5 L172.1 321.7 L172.3 318.5 L172.5 321.9 L172.6 322.0 L172.8 321.6 L173.0 320.3 L173.1 323.2 L173.3 320.0 L173.5 320.6 L173.6 322.6 L173.8 324.0 L174.0 322.3 L174.1 322.3 L174.3 320.8 L174.5 320.7 L174.6 319.4 L174.8 319.7 L175.0 320.1 L175.1 318.5 L175.3 319.3 L175.5 319.5 L175.6 320.6 L175.8 322.3 L176.0 323.3 L176.1 325.8 L176.3 325.9 L176.5 328.4 L176.6 327.8 L176.8 327.3 L177.0 324.7 L177.1 323.9 L177.3 322.7 L177.5 319.7 L177.6 318.5 L177.8 317.4 L178.0 314.7 L178.1 312.5 L178.3 313.0 L178.5 309.4 L178.6 310.6 L178.8 313.0 L179.0 316.0 L179.1 315.2 L179.3 316.7 L179.4 319.1 L179.6 320.5 L179.8 320.7 L179.9 325.4 L180.1 325.8 L180.3 326.0 L180.4 322.1 L180.6 322.9 L180.8 319.8 L180.9 319.0 L181.1 316.4 L181.3 316.3 L181.4 315.0 L181.6 313.4 L181.8 312.8 L181.9 311.0 L182.1 310.2 L182.3 307.3 L182.4 305.1 L182.6 304.4 L182.8 304.2 L182.9 302.4 L183.1 300.4 L183.3 296.4 L183.4 296.8 L183.6 296.1 L183.8 295.5 L183.9 297.8 L184.1 301.5 L184.3 303.7 L184.4 307.6 L184.6 309.9 L184.8 313.9 L184.9 316.0 L185.1 317.7 L185.3 320.4 L185.4 321.9 L185.6 321.2 L185.8 322.8 L185.9 323.0 L186.1 327.3 L186.3 327.2 L186.4 327.2 L186.6 328.8 L186.8 331.6 L186.9 333.6 L187.1 332.8 L187.3 333.3 L187.4 331.9 L187.6 331.7 L187.8 333.6 L187.9 333.8 L188.1 332.7 L188.3 334.0 L188.4 332.0 L188.6 332.4 L188.8 333.6 L188.9 335.9 L189.1 331.7 L189.2 332.6 L189.4 330.1 L189.6 330.4 L189.7 329.4 L189.9 327.6 L190.1 329.1 L190.2 329.8 L190.4 327.3 L190.6 326.8 L190.7 327.5 L190.9 324.1 L191.1 322.4 L191.2 321.6 L191.4 319.5 L191.6 320.4 L191.7 317.9 L191.9 315.3 L192.1 313.9 L192.2 318.5 L192.4 310.8 L192.6 309.2 L192.7 308.6 L192.9 308.1 L193.1 305.5 L193.2 304.4 L193.4 306.0 L193.6 309.4 L193.7 310.7 L193.9 309.4 L194.1 315.4 L194.2 316.9 L194.4 317.8 L194.6 319.5 L194.7 322.1 L194.9 322.8 L195.1 322.1 L195.2 326.8 L195.4 326.2 L195.6 329.2 L195.7 327.4 L195.9 331.5 L196.1 332.9 L196.2 336.0 L196.4 334.7 L196.6 335.7 L196.7 337.8 L196.9 336.3 L197.1 335.3 L197.2 334.8 L197.4 333.7 L197.6 333.0 L197.7 329.3 L197.9 330.9 L198.1 328.8 L198.2 325.4 L198.4 322.1 L198.6 322.7 L198.7 321.4 L198.9 317.8 L199.0 318.6 L199.2 316.8 L199.4 314.9 L199.5 314.8 L199.7 314.8 L199.9 311.1 L200.0 310.4 L200.2 308.1 L200.4 306.7 L200.5 306.1 L200.7 305.2 L200.9 302.7 L201.0 299.8 L201.2 301.0 L201.4 297.7 L201.5 297.8 L201.7 297.9 L201.9 294.9 L202.0 292.5 L202.2 291.0 L202.4 291.9 L202.5 289.4 L202.7 290.1 L202.9 294.0 L203.0 296.7 L203.2 299.9 L203.4 302.8 L203.5 301.0 L203.7 309.2 L203.9 314.1 L204.0 317.5 L204.2 321.6 L204.4 324.7 L204.5 328.5 L204.7 332.6 L204.9 334.6 L205.0 338.8 L205.2 340.3 L205.4 342.9 L205.5 342.2 L205.7 342.7 L205.9 343.7 L206.0 344.5 L206.2 342.3 L206.4 343.4 L206.5 341.5 L206.7 343.2 L206.9 343.1 L207.0 339.9 L207.2 344.3 L207.4 342.5 L207.5 343.8 L207.7 342.8 L207.9 344.2 L208.0 344.6 L208.2 342.0 L208.4 342.3 L208.5 341.6 L208.7 340.2 L208.8 336.7 L209.0 334.1 L209.2 332.9 L209.3 327.6 L209.5 327.3 L209.7 324.4 L209.8 323.5 L210.0 319.4 L210.2 316.5 L210.3 317.3 L210.5 315.4 L210.7 315.8 L210.8 313.5 L211.0 313.6 L211.2 312.4 L211.3 313.0 L211.5 310.9 L211.7 310.6 L211.8 309.6 L212.0 307.6 L212.2 307.9 L212.3 306.8 L212.5 306.2 L212.7 306.1 L212.8 307.1 L213.0 309.2 L213.2 311.4 L213.3 309.6 L213.5 311.9 L213.7 312.0 L213.8 314.0 L214.0 314.7 L214.2 315.8 L214.3 312.1 L214.5 313.9 L214.7 313.4 L214.8 314.2 L215.0 312.5 L215.2 313.2 L215.3 315.0 L215.5 315.3 L215.7 310.9 L215.8 313.0 L216.0 314.2 L216.2 315.2 L216.3 316.1 L216.5 316.4 L216.7 318.0 L216.8 320.7 L217.0 322.3 L217.2 322.8 L217.3 323.1 L217.5 325.1 L217.7 326.0 L217.8 327.9 L218.0 328.7 L218.2 329.2 L218.3 330.1 L218.5 328.3 L218.6 329.6 L218.8 329.4 L219.0 326.7 L219.1 327.5 L219.3 325.7 L219.5 327.0 L219.6 326.2 L219.8 324.6 L220.0 325.0 L220.1 321.1 L220.3 317.9 L220.5 314.9 L220.6 312.1 L220.8 308.8 L221.0 306.1 L221.1 302.4 L221.3 300.4 L221.5 299.0 L221.6 295.6 L221.8 292.1 L222.0 294.5 L222.1 293.8 L222.3 291.5 L222.5 288.1 L222.6 289.7 L222.8 291.4 L223.0 289.8 L223.1 293.4 L223.3 294.0 L223.5 295.3 L223.6 297.9 L223.8 297.9 L224.0 300.9 L224.1 303.4 L224.3 303.8 L224.5 304.4 L224.6 305.1 L224.8 307.1 L225.0 308.2 L225.1 312.8 L225.3 312.5 L225.5 311.9 L225.6 310.3 L225.8 309.1 L226.0 308.4 L226.1 306.1 L226.3 307.5 L226.5 303.2 L226.6 302.7 L226.8 302.6 L227.0 301.9 L227.1 300.5 L227.3 296.7 L227.5 295.9 L227.6 293.8 L227.8 292.3 L228.0 290.1 L228.1 287.1 L228.3 284.9 L228.4 284.2 L228.6 281.1 L228.8 283.0 L228.9 278.4 L229.1 279.7 L229.3 282.9 L229.4 285.3 L229.6 288.4 L229.8 291.9 L229.9 292.3 L230.1 294.5 L230.3 299.1 L230.4 301.2 L230.6 304.2 L230.8 306.8 L230.9 307.0 L231.1 309.1 L231.3 308.4 L231.4 310.2 L231.6 310.3 L231.8 311.0 L231.9 313.5 L232.1 314.5 L232.3 313.1 L232.4 314.7 L232.6 316.0 L232.8 315.1 L232.9 311.8 L233.1 310.4 L233.3 307.9 L233.4 309.9 L233.6 307.0 L233.8 305.2 L233.9 303.5 L234.1 302.1 L234.3 300.2 L234.4 297.7 L234.6 297.0 L234.8 294.7 L234.9 294.2 L235.1 290.8 L235.3 289.5 L235.4 289.8 L235.6 289.6 L235.8 287.9 L235.9 286.2 L236.1 286.0 L236.3 285.0 L236.4 286.4 L236.6 284.8 L236.8 285.8 L236.9 282.8 L237.1 281.3 L237.3 282.1 L237.4 281.9 L237.6 280.1 L237.8 278.9 L237.9 279.3 L238.1 278.6 L238.2 281.2 L238.4 279.6 L238.6 280.0 L238.7 281.9 L238.9 282.4 L239.1 284.4 L239.2 283.0 L239.4 283.9 L239.6 283.5 L239.7 283.5 L239.9 282.3 L240.1 286.9 L240.2 285.9 L240.4 288.7 L240.6 289.6 L240.7 290.9 L240.9 295.6 L241.1 297.3 L241.2 301.1 L241.4 302.8 L241.6 306.9 L241.7 308.1 L241.9 312.5 L242.1 314.4 L242.2 317.8 L242.4 321.0 L242.6 319.9 L242.7 318.9 L242.9 319.0 L243.1 319.3 L243.2 315.8 L243.4 316.8 L243.6 316.3 L243.7 314.4 L243.9 314.8 L244.1 312.7 L244.2 314.5 L244.4 312.4 L244.6 311.9 L244.7 312.4 L244.9 310.6 L245.1 311.3 L245.2 310.3 L245.4 312.1 L245.6 311.1 L245.7 314.8 L245.9 317.1 L246.1 317.7 L246.2 319.4 L246.4 318.9 L246.6 320.4 L246.7 321.9 L246.9 324.3 L247.1 322.1 L247.2 320.5 L247.4 319.7 L247.6 317.6 L247.7 316.5 L247.9 316.4 L248.0 313.3 L248.2 312.6 L248.4 314.1 L248.5 314.3 L248.7 316.3 L248.9 316.6 L249.0 320.4 L249.2 318.1 L249.4 320.6 L249.5 322.2 L249.7 325.3 L249.9 321.4 L250.0 319.8 L250.2 318.0 L250.4 318.5 L250.5 317.3 L250.7 315.5 L250.9 313.9 L251.0 313.3 L251.2 313.7 L251.4 312.5 L251.5 311.3 L251.7 310.1 L251.9 305.7 L252.0 308.2 L252.2 306.2 L252.4 308.5 L252.5 310.4 L252.7 311.0 L252.9 312.4 L253.0 315.7 L253.2 316.7 L253.4 317.5 L253.5 317.0 L253.7 321.3 L253.9 323.6 L254.0 325.6 L254.2 325.6 L254.4 327.2 L254.5 328.6 L254.7 331.8 L254.9 331.6 L255.0 332.1 L255.2 330.0 L255.4 329.8 L255.5 326.7 L255.7 327.5 L255.9 325.0 L256.0 323.9 L256.2 323.8 L256.4 322.5 L256.5 316.8 L256.7 319.8 L256.9 319.9 L257.0 319.5 L257.2 322.1 L257.4 321.6 L257.5 323.4 L257.7 322.4 L257.8 322.8 L258.0 325.4 L258.2 326.9 L258.3 326.2 L258.5 326.7 L258.7 322.5 L258.8 319.7 L259.0 317.9 L259.2 317.3 L259.3 311.7 L259.5 310.5 L259.7 304.6 L259.8 305.9 L260.0 304.1 L260.2 299.7 L260.3 297.9 L260.5 296.9 L260.7 293.1 L260.8 289.5 L261.0 287.0 L261.2 283.9 L261.3 283.9 L261.5 280.0 L261.7 279.1 L261.8 276.5 L262.0 272.6 L262.2 270.3 L262.3 269.1 L262.5 266.2 L262.7 263.6 L262.8 259.4 L263.0 260.4 L263.2 262.1 L263.3 264.1 L263.5 268.2 L263.7 273.1 L263.8 280.0 L264.0 278.7 L264.2 281.0 L264.3 289.7 L264.5 289.0 L264.7 291.7 L264.8 293.2 L265.0 294.4 L265.2 297.9 L265.3 297.6 L265.5 298.5 L265.7 299.7 L265.8 303.0 L266.0 302.3 L266.2 304.6 L266.3 305.5 L266.5 306.6 L266.7 306.8 L266.8 309.5 L267.0 311.6 L267.2 310.3 L267.3 308.6 L267.5 307.3 L267.6 307.8 L267.8 306.2 L268.0 305.6 L268.1 304.8 L268.3 302.6 L268.5 303.7 L268.6 302.2 L268.8 301.1 L269.0 300.5 L269.1 300.2 L269.3 297.9 L269.5 295.0 L269.6 294.6 L269.8 291.0 L270.0 288.5 L270.1 285.7 L270.3 285.0 L270.5 281.8 L270.6 280.3 L270.8 279.0 L271.0 276.5 L271.1 275.2 L271.3 272.4 L271.5 269.5 L271.6 269.7 L271.8 271.9 L272.0 275.5 L272.1 277.5 L272.3 279.5 L272.5 283.1 L272.6 284.9 L272.8 286.9 L273.0 288.4 L273.1 292.7 L273.3 295.0 L273.5 297.3 L273.6 299.4 L273.8 300.2 L274.0 303.2 L274.1 305.3 L274.3 306.5 L274.5 308.2 L274.6 309.5 L274.8 312.0 L275.0 313.6 L275.1 314.3 L275.3 317.3 L275.5 319.0 L275.6 317.6 L275.8 314.3 L276.0 312.0 L276.1 308.8 L276.3 308.3 L276.5 301.0 L276.6 302.7 L276.8 300.3 L277.0 299.1 L277.1 296.0 L277.3 291.9 L277.4 292.8 L277.6 296.8 L277.8 299.5 L277.9 301.4 L278.1 303.0 L278.3 304.4 L278.4 306.8 L278.6 309.7 L278.8 307.6 L278.9 305.1 L279.1 303.1 L279.3 298.7 L279.4 294.2 L279.6 291.7 L279.8 287.0 L279.9 284.2 L280.1 286.2 L280.3 287.9 L280.4 285.7 L280.6 289.3 L280.8 291.9 L280.9 291.0 L281.1 293.1 L281.3 295.6 L281.4 295.3 L281.6 298.1 L281.8 299.4 L281.9 297.4 L282.1 303.4 L282.3 304.7 L282.4 307.6 L282.6 312.8 L282.8 307.4 L282.9 303.0 L283.1 300.2 L283.3 296.4 L283.4 293.7 L283.6 287.8 L283.8 284.6 L283.9 280.3 L284.1 279.4 L284.3 281.0 L284.4 282.5 L284.6 284.6 L284.8 286.9 L284.9 287.6 L285.1 291.4 L285.3 293.4 L285.4 297.2 L285.6 298.3 L285.8 299.4 L285.9 301.8 L286.1 305.6 L286.3 307.1 L286.4 309.1 L286.6 311.8 L286.8 314.6 L286.9 311.2 L287.1 310.4 L287.2 308.3 L287.4 309.2 L287.6 307.2 L287.7 305.7 L287.9 304.3 L288.1 304.5 L288.2 302.3 L288.4 300.8 L288.6 301.1 L288.7 297.6 L288.9 295.8 L289.1 297.9 L289.2 293.6 L289.4 291.4 L289.6 290.3 L289.7 289.3 L289.9 289.5 L290.1 287.1 L290.2 285.5 L290.4 283.4 L290.6 281.7 L290.7 282.7 L290.9 283.2 L291.1 282.2 L291.2 280.5 L291.4 280.7 L291.6 279.1 L291.7 278.5 L291.9 275.6 L292.1 274.6 L292.2 273.2 L292.4 271.2 L292.6 270.3 L292.7 268.3 L292.9 264.4 L293.1 259.6 L293.2 255.8 L293.4 259.2 L293.6 262.4 L293.7 267.0 L293.9 265.8 L294.1 262.2 L294.2 258.9 L294.4 255.5 L294.6 253.8 L294.7 251.9 L294.9 252.8 L295.1 250.8 L295.2 247.7 L295.4 246.5 L295.6 244.9 L295.7 244.8 L295.9 244.6 L296.1 247.5 L296.2 251.5 L296.4 255.7 L296.6 259.3 L296.7 262.1 L296.9 264.9 L297.0 267.6 L297.2 269.0 L297.4 273.5 L297.5 278.2 L297.7 279.1 L297.9 282.0 L298.0 284.3 L298.2 281.5 L298.4 278.9 L298.5 278.8 L298.7 275.9 L298.9 274.8 L299.0 271.1 L299.2 270.3 L299.4 268.6 L299.5 268.2 L299.7 266.0 L299.9 264.5 L300.0 262.4 L300.2 261.2 L300.4 258.0 L300.5 258.0 L300.7 256.6 L300.9 254.4 L301.0 252.9 L301.2 252.4 L301.4 250.2 L301.5 250.5 L301.7 249.3 L301.9 247.0 L302.0 246.7 L302.2 246.6 L302.4 245.5 L302.5 246.9 L302.7 249.8 L302.9 253.6 L303.0 257.2 L303.2 261.6 L303.4 266.7 L303.5 269.3 L303.7 272.3 L303.9 274.5 L304.0 274.0 L304.2 277.6 L304.4 278.4 L304.5 281.7 L304.7 283.4 L304.9 282.6 L305.0 284.6 L305.2 285.5 L305.4 283.3 L305.5 281.2 L305.7 280.6 L305.9 280.7 L306.0 277.8 L306.2 281.8 L306.4 283.3 L306.5 286.2 L306.7 289.3 L306.8 289.6 L307.0 290.8 L307.2 292.4 L307.3 291.6 L307.5 292.5 L307.7 293.5 L307.8 293.9 L308.0 291.4 L308.2 291.0 L308.3 290.7 L308.5 290.2 L308.7 286.0 L308.8 287.5 L309.0 285.4 L309.2 282.0 L309.3 279.9 L309.5 279.9 L309.7 277.2 L309.8 275.6 L310.0 274.2 L310.2 270.9 L310.3 269.1 L310.5 267.3 L310.7 266.6 L310.8 264.5 L311.0 262.4 L311.2 259.0 L311.3 256.6 L311.5 256.4 L311.7 251.8 L311.8 248.5 L312.0 244.0 L312.2 244.4 L312.3 242.1 L312.5 241.4 L312.7 239.7 L312.8 239.4 L313.0 238.5 L313.2 235.1 L313.3 233.6 L313.5 232.4 L313.7 229.4 L313.8 227.7 L314.0 230.6 L314.2 234.3 L314.3 239.4 L314.5 241.3 L314.7 247.4 L314.8 250.5 L315.0 252.2 L315.2 257.2 L315.3 259.4 L315.5 260.2 L315.7 262.0 L315.8 263.9 L316.0 266.2 L316.2 267.9 L316.3 267.5 L316.5 269.2 L316.6 271.9 L316.8 273.8 L317.0 272.0 L317.1 277.1 L317.3 277.3 L317.5 280.8 L317.6 280.7 L317.8 281.1 L318.0 283.0 L318.1 280.4 L318.3 275.7 L318.5 269.9 L318.6 269.1 L318.8 263.4 L319.0 265.4 L319.1 267.1 L319.3 268.4 L319.5 271.0 L319.6 273.3 L319.8 275.6 L320.0 278.0 L320.1 279.6 L320.3 280.4 L320.5 284.0 L320.6 287.7 L320.8 290.3 L321.0 292.1 L321.1 295.3 L321.3 296.6 L321.5 295.5 L321.6 294.1 L321.8 290.6 L322.0 289.2 L322.1 289.2 L322.3 287.7 L322.5 286.0 L322.6 280.7 L322.8 280.9 L323.0 272.8 L323.1 276.6 L323.3 271.3 L323.5 266.5 L323.6 261.6 L323.8 260.8 L324.0 257.9 L324.1 257.6 L324.3 255.7 L324.5 255.8 L324.6 257.1 L324.8 258.3 L325.0 258.7 L325.1 261.8 L325.3 263.2 L325.5 262.4 L325.6 264.3 L325.8 263.8 L326.0 262.1 L326.1 263.3 L326.3 261.6 L326.4 259.2 L326.6 258.6 L326.8 255.1 L326.9 253.2 L327.1 251.3 L327.3 248.8 L327.4 246.2 L327.6 247.5 L327.8 245.8 L327.9 247.2 L328.1 246.8 L328.3 247.6 L328.4 244.5 L328.6 240.8 L328.8 235.3 L328.9 232.4 L329.1 231.5 L329.3 227.8 L329.4 226.3 L329.6 222.2 L329.8 224.1 L329.9 223.8 L330.1 224.8 L330.3 225.1 L330.4 226.9 L330.6 228.8 L330.8 229.4 L330.9 228.6 L331.1 228.5 L331.3 228.9 L331.4 230.0 L331.6 226.8 L331.8 227.3 L331.9 227.0 L332.1 227.9 L332.3 227.0 L332.4 229.4 L332.6 229.0 L332.8 228.8 L332.9 227.9 L333.1 229.6 L333.3 230.0 L333.4 230.0 L333.6 229.2 L333.8 230.5 L333.9 227.2 L334.1 229.5 L334.3 222.6 L334.4 223.3 L334.6 221.3 L334.8 220.7 L334.9 215.4 L335.1 215.3 L335.3 209.0 L335.4 209.2 L335.6 205.5 L335.8 204.3 L335.9 204.3 L336.1 205.6 L336.2 204.2 L336.4 201.0 L336.6 204.4 L336.7 200.9 L336.9 198.1 L337.1 199.0 L337.2 198.4 L337.4 201.1 L337.6 202.5 L337.7 202.9 L337.9 205.8 L338.1 204.4 L338.2 206.4 L338.4 206.5 L338.6 207.7 L338.7 213.1 L338.9 211.4 L339.1 211.1 L339.2 215.3 L339.4 216.7 L339.6 236.7 L339.7 242.3 L339.9 246.2 L340.1 250.3 L340.2 253.5 L340.4 259.0 L340.6 264.6 L340.7 268.0 L340.9 273.4 L341.1 271.4 L341.2 268.9 L341.4 266.3 L341.6 260.1 L341.7 260.4 L341.9 258.5 L342.1 258.5 L342.2 259.0 L342.4 258.1 L342.6 256.5 L342.7 253.6 L342.9 250.8 L343.1 250.7 L343.2 249.2 L343.4 251.1 L343.6 252.1 L343.7 253.4 L343.9 255.1 L344.1 255.5 L344.2 252.4 L344.4 251.8 L344.6 247.8 L344.7 246.9 L344.9 246.5 L345.1 243.5 L345.2 240.8 L345.4 241.8 L345.6 240.0 L345.7 238.9 L345.9 236.9 L346.0 237.3 L346.2 236.9 L346.4 236.7 L346.5 240.6 L346.7 237.3 L346.9 236.3 L347.0 235.1 L347.2 236.1 L347.4 234.0 L347.5 231.7 L347.7 233.3 L347.9 238.5 L348.0 243.5 L348.2 241.5 L348.4 242.6 L348.5 240.4 L348.7 238.8 L348.9 238.0 L349.0 238.6 L349.2 239.0 L349.4 234.1 L349.5 233.0 L349.7 230.2 L349.9 230.0 L350.0 230.5 L350.2 228.8 L350.4 230.1 L350.5 231.6 L350.7 227.6 L350.9 230.0 L351.0 229.4 L351.2 225.7 L351.4 225.3 L351.5 224.0 L351.7 223.3 L351.9 220.3 L352.0 221.4 L352.2 219.7 L352.4 219.5 L352.5 218.5 L352.7 216.5 L352.9 215.8 L353.0 211.9 L353.2 210.9 L353.4 210.0 L353.5 209.6 L353.7 210.3 L353.9 207.3 L354.0 208.3 L354.2 209.9 L354.4 214.1 L354.5 221.4 L354.7 224.3 L354.9 229.7 L355.0 233.2 L355.2 235.1 L355.4 236.8 L355.5 242.1 L355.7 241.6 L355.8 242.6 L356.0 246.0 L356.2 247.2 L356.3 247.6 L356.5 245.1 L356.7 243.5 L356.8 241.1 L357.0 239.4 L357.2 234.3 L357.3 230.2 L357.5 227.4 L357.7 222.2 L357.8 218.7 L358.0 215.0 L358.2 214.9 L358.3 213.5 L358.5 215.7 L358.7 212.7 L358.8 213.6 L359.0 210.3 L359.2 209.4 L359.3 207.5 L359.5 203.1 L359.7 202.0 L359.8 199.2 L360.0 200.7 L360.2 197.5 L360.3 195.0 L360.5 194.2 L360.7 194.1 L360.8 191.4 L361.0 188.3 L361.2 183.5 L361.3 181.1 L361.5 179.8 L361.7 176.2 L361.8 175.0 L362.0 173.6 L362.2 172.2 L362.3 173.2 L362.5 171.4 L362.7 170.0 L362.8 168.8 L363.0 170.4 L363.2 172.4 L363.3 172.6 L363.5 173.9 L363.7 174.5 L363.8 177.1 L364.0 176.3 L364.2 176.1 L364.3 178.7 L364.5 180.7 L364.7 183.1 L364.8 184.9 L365.0 185.0 L365.2 186.6 L365.3 188.7 L365.5 188.3 L365.6 191.9 L365.8 193.4 L366.0 194.2 L366.1 193.6 L366.3 196.4 L366.5 203.4 L366.6 206.0 L366.8 212.4 L367.0 217.0 L367.1 220.9 L367.3 225.0 L367.5 230.9 L367.6 231.8 L367.8 234.0 L368.0 235.6 L368.1 232.7 L368.3 228.1 L368.5 223.6 L368.6 218.0 L368.8 219.1 L369.0 219.9 L369.1 220.0 L369.3 222.6 L369.5 223.8 L369.6 224.1 L369.8 222.5 L370.0 225.0 L370.1 224.7 L370.3 224.5 L370.5 224.5 L370.6 228.2 L370.8 235.0 L371.0 238.4 L371.1 245.9 L371.3 243.3 L371.5 246.7 L371.6 247.0 L371.8 249.7 L372.0 253.2 L372.1 257.4 L372.3 258.9 L372.5 256.5 L372.6 252.4 L372.8 253.0 L373.0 248.9 L373.1 249.2 L373.3 248.2 L373.5 245.8 L373.6 244.7 L373.8 241.4 L374.0 243.7 L374.1 239.9 L374.3 239.0 L374.5 235.8 L374.6 234.9 L374.8 232.4 L375.0 231.8 L375.1 230.9 L375.3 230.0 L375.4 229.9 L375.6 228.0 L375.8 226.7 L375.9 225.1 L376.1 225.7 L376.3 221.9 L376.4 223.6 L376.6 218.0 L376.8 218.1 L376.9 219.1 L377.1 218.4 L377.3 221.1 L377.4 220.6 L377.6 216.6 L377.8 223.4 L377.9 231.2 L378.1 239.5 L378.3 244.5 L378.4 249.4 L378.6 251.1 L378.8 252.9 L378.9 252.7 L379.1 253.6 L379.3 258.6 L379.4 259.8 L379.6 256.5 L379.8 256.5 L379.9 256.4 L380.1 253.7 L380.3 251.9 L380.4 252.1 L380.6 251.6 L380.8 250.9 L380.9 249.6 L381.1 249.1 L381.3 247.6 L381.4 242.7 L381.6 240.2 L381.8 235.5 L381.9 226.7 L382.1 215.6 L382.3 211.5 L382.4 207.5 L382.6 202.7 L382.8 198.8 L382.9 199.3 L383.1 194.7 L383.3 192.8 L383.4 190.7 L383.6 190.8 L383.8 190.2 L383.9 191.1 L384.1 188.4 L384.3 191.1 L384.4 196.8 L384.6 201.2 L384.8 204.2 L384.9 205.2 L385.1 206.6 L385.2 208.2 L385.4 207.6 L385.6 209.0 L385.7 212.6 L385.9 215.7 L386.1 216.9 L386.2 223.7 L386.4 226.6 L386.6 233.6 L386.7 234.0 L386.9 234.2 L387.1 236.7 L387.2 234.7 L387.4 235.9 L387.6 237.7 L387.7 239.2 L387.9 239.4 L388.1 239.4 L388.2 242.0 L388.4 243.4 L388.6 247.2 L388.7 247.5 L388.9 247.0 L389.1 242.6 L389.2 237.6 L389.4 237.8 L389.6 230.3 L389.7 212.3 L389.9 211.8 L390.1 210.5 L390.2 213.4 L390.4 209.1 L390.6 209.2 L390.7 208.4 L390.9 210.3 L391.1 210.7 L391.2 210.0 L391.4 213.3 L391.6 215.1 L391.7 214.8 L391.9 218.6 L392.1 220.5 L392.2 222.0 L392.4 224.9 L392.6 225.1 L392.7 228.8 L392.9 230.6 L393.1 223.1 L393.2 220.4 L393.4 221.8 L393.6 222.5 L393.7 223.9 L393.9 225.5 L394.1 228.7 L394.2 230.9 L394.4 236.6 L394.6 237.8 L394.7 240.7 L394.9 233.8 L395.0 229.4 L395.2 222.6 L395.4 216.6 L395.5 213.5 L395.7 215.8 L395.9 219.0 L396.0 222.6 L396.2 225.7 L396.4 227.5 L396.5 227.9 L396.7 230.1 L396.9 232.6 L397.0 234.5 L397.2 234.6 L397.4 235.9 L397.5 236.0 L397.7 237.6 L397.9 239.1 L398.0 233.1 L398.2 239.9 L398.4 239.9 L398.5 239.1 L398.7 242.8 L398.9 243.5 L399.0 245.1 L399.2 244.7 L399.4 249.1 L399.5 248.5 L399.7 243.6 L399.9 240.5 L400.0 234.8 L400.2 230.2 L400.4 225.7 L400.5 220.1 L400.7 222.6 L400.9 219.9 L401.0 219.5 L401.2 220.1 L401.4 221.4 L401.5 225.2 L401.7 228.4 L401.9 230.8 L402.0 234.8 L402.2 236.4 L402.4 235.6 L402.5 236.1 L402.7 236.7 L402.9 239.0 L403.0 235.0 L403.2 232.5 L403.4 228.6 L403.5 226.8 L403.7 224.3 L403.9 222.6 L404.0 224.5 L404.2 223.5 L404.4 224.3 L404.5 221.6 L404.7 221.9 L404.8 223.9 L405.0 222.0 L405.2 226.3 L405.3 229.0 L405.5 230.9 L405.7 233.4 L405.8 235.6 L406.0 238.2 L406.2 239.7 L406.3 242.2 L406.5 246.9 L406.7 247.3 L406.8 248.9 L407.0 251.1 L407.2 251.7 L407.3 254.8 L407.5 256.2 L407.7 259.3 L407.8 259.6 L408.0 260.4 L408.2 261.4 L408.3 261.6 L408.5 265.0 L408.7 259.9 L408.8 257.2 L409.0 256.9 L409.2 255.2 L409.3 254.7 L409.5 252.2 L409.7 249.9 L409.8 250.6 L410.0 248.1 L410.2 246.1 L410.3 245.0 L410.5 249.0 L410.7 250.1 L410.8 252.5 L411.0 256.4 L411.2 256.9 L411.3 262.0 L411.5 263.4 L411.7 264.8 L411.8 264.3 L412.0 266.2 L412.2 260.8 L412.3 261.0 L412.5 259.1 L412.7 256.2 L412.8 256.9 L413.0 254.0 L413.2 252.1 L413.3 251.4 L413.5 249.6 L413.7 248.5 L413.8 245.0 L414.0 244.7 L414.2 241.3 L414.3 238.0 L414.5 235.6 L414.6 234.3 L414.8 229.9 L415.0 225.1 L415.1 226.4 L415.3 225.8 L415.5 223.2 L415.6 220.9 L415.8 218.7 L416.0 214.8 L416.1 214.3 L416.3 211.0 L416.5 211.4 L416.6 209.5 L416.8 212.2 L417.0 215.6 L417.1 218.3 L417.3 221.0 L417.5 224.0 L417.6 226.0 L417.8 228.3 L418.0 233.3 L418.1 238.2 L418.3 242.7 L418.5 244.3 L418.6 248.9 L418.8 251.8 L419.0 256.4 L419.1 259.3 L419.3 263.8 L419.5 265.3 L419.6 263.9 L419.8 264.4 L420.0 262.1 L420.1 261.8 L420.3 262.2 L420.5 262.5 L420.6 261.6 L420.8 263.6 L421.0 260.2 L421.1 262.4 L421.3 261.8 L421.5 258.3 L421.6 260.0 L421.8 258.1 L422.0 258.1 L422.1 255.7 L422.3 255.4 L422.5 254.4 L422.6 250.2 L422.8 249.9 L423.0 250.6 L423.1 249.2 L423.3 249.8 L423.5 249.9 L423.6 249.5 L423.8 251.9 L424.0 251.0 L424.1 253.1 L424.3 253.7 L424.4 255.4 L424.6 252.4 L424.8 250.6 L424.9 247.6 L425.1 249.7 L425.3 244.7 L425.4 242.9 L425.6 240.6 L425.8 239.1 L425.9 237.4 L426.1 236.4 L426.3 234.2 L426.4 235.3 L426.6 234.7 L426.8 236.0 L426.9 237.7 L427.1 237.1 L427.3 238.1 L427.4 236.6 L427.6 239.6 L427.8 240.3 L427.9 242.7 L428.1 240.4 L428.3 244.5 L428.4 245.9 L428.6 247.6 L428.8 248.3 L428.9 250.6 L429.1 253.3 L429.3 253.5 L429.4 254.6 L429.6 255.8 L429.8 256.6 L429.9 257.9 L430.1 258.2 L430.3 258.0 L430.4 262.1 L430.6 258.2 L430.8 262.6 L430.9 262.5 L431.1 264.4 L431.3 264.7 L431.4 263.2 L431.6 259.5 L431.8 256.2 L431.9 254.7 L432.1 254.1 L432.3 248.7 L432.4 245.4 L432.6 241.4 L432.8 239.4 L432.9 236.9 L433.1 233.1 L433.3 235.6 L433.4 235.7 L433.6 237.0 L433.8 236.6 L433.9 238.3 L434.1 240.2 L434.2 241.2 L434.4 242.5 L434.6 241.9 L434.7 243.0 L434.9 245.3 L435.1 246.4 L435.2 251.9 L435.4 254.1 L435.6 256.6 L435.7 258.7 L435.9 262.8 L436.1 264.5 L436.2 269.4 L436.4 267.6 L436.6 262.3 L436.7 264.2 L436.9 261.1 L437.1 259.2 L437.2 257.6 L437.4 255.8 L437.6 254.3 L437.7 253.8 L437.9 251.3 L438.1 247.9 L438.2 245.5 L438.4 244.1 L438.6 244.2 L438.7 244.2 L438.9 246.4 L439.1 240.9 L439.2 241.6 L439.4 240.7 L439.6 239.8 L439.7 239.5 L439.9 238.1 L440.1 237.7 L440.2 236.7 L440.4 235.4 L440.6 233.8 L440.7 233.9 L440.9 227.9 L441.1 225.1 L441.2 223.7 L441.4 221.0 L441.6 220.7 L441.7 216.8 L441.9 215.4 L442.1 212.7 L442.2 214.8 L442.4 217.4 L442.6 220.2 L442.7 219.7 L442.9 222.2 L443.1 221.5 L443.2 223.7 L443.4 225.6 L443.6 227.3 L443.7 229.7 L443.9 232.8 L444.0 233.4 L444.2 238.7 L444.4 240.5 L444.5 246.6 L444.7 248.5 L444.9 251.7 L445.0 254.7 L445.2 252.3 L445.4 248.9 L445.5 244.8 L445.7 242.7 L445.9 238.8 L446.0 235.6 L446.2 231.4 L446.4 228.5 L446.5 223.6 L446.7 228.0 L446.9 216.2 L447.0 218.5 L447.2 221.0 L447.4 222.3 L447.5 221.6 L447.7 221.9 L447.9 223.2 L448.0 223.6 L448.2 225.1 L448.4 226.1 L448.5 224.8 L448.7 222.5 L448.9 218.4 L449.0 217.0 L449.2 214.9 L449.4 212.9 L449.5 209.0 L449.7 206.0 L449.9 205.1 L450.0 203.4 L450.2 198.7 L450.4 198.0 L450.5 194.8 L450.7 189.7 L450.9 185.4 L451.0 183.2 L451.2 180.3 L451.4 178.1 L451.5 173.0 L451.7 175.2 L451.9 173.4 L452.0 168.8 L452.2 163.8 L452.4 165.7 L452.5 164.4 L452.7 167.0 L452.9 171.2 L453.0 173.6 L453.2 175.9 L453.4 182.3 L453.5 186.7 L453.7 189.6 L453.8 195.0 L454.0 199.9 L454.2 204.4 L454.3 208.5 L454.5 214.8 L454.7 218.2 L454.8 225.8 L455.0 228.7 L455.2 230.4 L455.3 224.7 L455.5 223.0 L455.7 218.9 L455.8 216.1 L456.0 211.3 L456.2 205.1 L456.3 204.7 L456.5 201.2 L456.7 196.4 L456.8 193.6 L457.0 194.1 L457.2 198.9 L457.3 201.4 L457.5 204.9 L457.7 210.2 L457.8 210.9 L458.0 214.1 L458.2 216.2 L458.3 213.3 L458.5 210.7 L458.7 210.0 L458.8 208.0 L459.0 202.1 L459.2 202.4 L459.3 200.1 L459.5 202.1 L459.7 208.2 L459.8 210.9 L460.0 217.4 L460.2 219.6 L460.3 223.5 L460.5 229.5 L460.7 232.4 L460.8 237.1 L461.0 237.7 L461.2 239.5 L461.3 242.6 L461.5 243.9 L461.7 243.7 L461.8 245.1 L462.0 250.1 L462.2 248.6 L462.3 249.9 L462.5 252.7 L462.7 252.3 L462.8 251.6 L463.0 251.6 L463.2 250.5 L463.3 248.2 L463.5 248.5 L463.6 245.7 L463.8 244.7 L464.0 243.7 L464.1 242.2 L464.3 241.8 L464.5 242.4 L464.6 243.9 L464.8 247.5 L465.0 249.4 L465.1 252.0 L465.3 255.0 L465.5 258.6 L465.6 260.5 L465.8 264.1 L466.0 262.6 L466.1 258.6 L466.3 255.7 L466.5 253.1 L466.6 251.8 L466.8 249.9 L467.0 248.1 L467.1 243.0 L467.3 242.8 L467.5 240.5 L467.6 239.7 L467.8 236.7 L468.0 235.6 L468.1 231.5 L468.3 233.0 L468.5 231.8 L468.6 230.9 L468.8 230.1 L469.0 228.7 L469.1 229.0 L469.3 228.7 L469.5 228.8 L469.6 229.2 L469.8 231.6 L470.0 232.9 L470.1 231.7 L470.3 234.1 L470.5 234.5 L470.6 235.9 L470.8 238.3 L471.0 239.2 L471.1 241.8 L471.3 242.0 L471.5 238.7 L471.6 236.6 L471.8 234.9 L472.0 233.3 L472.1 232.2 L472.3 229.4 L472.5 229.0 L472.6 230.1 L472.8 234.0 L473.0 236.6 L473.1 239.2 L473.3 239.7 L473.4 240.9 L473.6 242.9 L473.8 246.5 L473.9 247.8 L474.1 250.0 L474.3 252.1 L474.4 250.5 L474.6 250.8 L474.8 250.8 L474.9 247.4 L475.1 246.6 L475.3 243.5 L475.4 243.9 L475.6 241.8 L475.8 238.7 L475.9 238.0 L476.1 241.2 L476.3 239.5 L476.4 241.3 L476.6 243.8 L476.8 245.3 L476.9 246.7 L477.1 247.7 L477.3 248.1 L477.4 251.0 L477.6 251.9 L477.8 251.8 L477.9 253.6 L478.1 249.8 L478.3 249.2 L478.4 243.4 L478.6 243.3 L478.8 242.0 L478.9 240.0 L479.1 239.8 L479.3 233.6 L479.4 235.4 L479.6 232.2 L479.8 232.2 L479.9 229.5 L480.1 226.9 L480.3 227.3 L480.4 222.7 L480.6 221.5 L480.8 216.8 L480.9 215.6 L481.1 213.4 L481.3 211.0 L481.4 208.4 L481.6 207.6 L481.8 205.0 L481.9 207.0 L482.1 206.3 L482.3 206.5 L482.4 208.1 L482.6 208.1 L482.8 206.2 L482.9 206.3 L483.1 205.6 L483.2 205.3 L483.4 204.9 L483.6 203.7 L483.7 204.0 L483.9 209.1 L484.1 214.2 L484.2 217.2 L484.4 221.9 L484.6 223.1 L484.7 228.6 L484.9 232.7 L485.1 237.8 L485.2 239.8 L485.4 246.3 L485.6 251.7 L485.7 258.7 L485.9 264.5 L486.1 257.9 L486.2 250.7 L486.4 249.0 L486.6 243.9 L486.7 239.8 L486.9 234.6 L487.1 229.3 L487.2 225.5 L487.4 226.1 L487.6 227.9 L487.7 231.1 L487.9 231.2 L488.1 235.5 L488.2 237.0 L488.4 239.2 L488.6 242.5 L488.7 243.5 L488.9 246.2 L489.1 248.8 L489.2 251.1 L489.4 253.6 L489.6 253.9 L489.7 251.7 L489.9 249.3 L490.1 250.5 L490.2 246.7 L490.4 245.7 L490.6 243.1 L490.7 240.2 L490.9 240.1 L491.1 239.3 L491.2 238.2 L491.4 234.1 L491.6 230.7 L491.7 226.9 L491.9 222.9 L492.1 218.0 L492.2 215.5 L492.4 215.3 L492.6 214.9 L492.7 218.8 L492.9 214.8 L493.0 215.4 L493.2 210.4 L493.4 202.9 L493.5 200.4 L493.7 194.0 L493.9 189.2 L494.0 184.3 L494.2 177.6 L494.4 177.1 L494.5 173.4 L494.7 170.2 L494.9 166.5 L495.0 160.1 L495.2 159.0 L495.4 156.7 L495.5 155.4 L495.7 152.1 L495.9 149.0 L496.0 148.7 L496.2 145.1 L496.4 149.4 L496.5 141.1 L496.7 137.0 L496.9 136.9 L497.0 136.4 L497.2 132.4 L497.4 125.8 L497.5 130.1 L497.7 127.0 L497.9 124.1 L498.0 123.2 L498.2 122.8 L498.4 124.5 L498.5 128.4 L498.7 128.9 L498.9 131.8 L499.0 133.3 L499.2 136.9 L499.4 141.9 L499.5 159.7 L499.7 182.2 L499.9 191.5 L500.0 196.1 L500.2 198.7 L500.4 203.2 L500.5 204.9 L500.7 206.3 L500.9 209.7 L501.0 213.0 L501.2 213.9 L501.4 216.3 L501.5 220.4 L501.7 218.2 L501.9 217.9 L502.0 215.5 L502.2 212.7 L502.4 213.6 L502.5 214.5 L502.7 215.6 L502.8 215.1 L503.0 216.9 L503.2 220.5 L503.3 224.1 L503.5 226.0 L503.7 230.4 L503.8 234.3 L504.0 231.2 L504.2 228.6 L504.3 227.7 L504.5 227.6 L504.7 227.2 L504.8 226.8 L505.0 226.2 L505.2 227.2 L505.3 232.6 L505.5 237.0 L505.7 236.2 L505.8 234.2 L506.0 233.2 L506.2 229.0 L506.3 227.6 L506.5 228.2 L506.7 227.7 L506.8 226.6 L507.0 227.3 L507.2 229.2 L507.3 229.8 L507.5 230.0 L507.7 233.6 L507.8 234.3 L508.0 232.3 L508.2 229.2 L508.3 229.0 L508.5 223.0 L508.7 225.7 L508.8 224.3 L509.0 228.0 L509.2 231.0 L509.3 231.8 L509.5 234.8 L509.7 234.8 L509.8 236.4 L510.0 237.5 L510.2 235.9 L510.3 230.7 L510.5 227.3 L510.7 224.3 L510.8 219.8 L511.0 215.8 L511.2 216.9 L511.3 217.3 L511.5 216.2 L511.7 215.4 L511.8 215.7 L512.0 215.6 L512.2 211.4 L512.3 216.5 L512.5 212.0 L512.6 210.5 L512.8 207.0 L513.0 204.8 L513.1 200.7 L513.3 196.4 L513.5 196.8 L513.6 194.5 L513.8 194.0 L514.0 191.6 L514.1 189.0 L514.3 188.6 L514.5 190.6 L514.6 191.4 L514.8 193.2 L515.0 193.1 L515.1 193.9 L515.3 195.7 L515.5 196.0 L515.6 197.5 L515.8 199.4 L516.0 198.4 L516.1 199.6 L516.3 202.3 L516.5 201.7 L516.6 202.8 L516.8 202.2 L517.0 203.0 L517.1 204.2 L517.3 208.5 L517.5 206.0 L517.6 204.5 L517.8 208.2 L518.0 210.5 L518.1 212.2 L518.3 212.2 L518.5 215.5 L518.6 219.7 L518.8 219.1 L519.0 218.7 L519.1 214.4 L519.3 212.2 L519.5 210.1 L519.6 209.4 L519.8 206.9 L520.0 204.3 L520.1 207.2 L520.3 208.4 L520.5 210.9 L520.6 216.8 L520.8 221.0 L521.0 229.7 L521.1 236.8 L521.3 244.5 L521.5 242.9 L521.6 240.2 L521.8 239.2 L522.0 237.4 L522.1 237.5 L522.3 238.2 L522.4 233.7 L522.6 234.1 L522.8 238.0 L522.9 239.1 L523.1 239.2 L523.3 241.0 L523.4 243.9 L523.6 245.7 L523.8 248.2 L523.9 249.9 L524.1 245.9 L524.3 243.7 L524.4 239.0 L524.6 238.7 L524.8 237.6 L524.9 231.4 L525.1 228.0 L525.3 227.8 L525.4 224.6 L525.6 220.9 L525.8 218.2 L525.9 217.5 L526.1 216.9 L526.3 218.0 L526.4 223.7 L526.6 228.9 L526.8 235.4 L526.9 238.2 L527.1 231.3 L527.3 227.7 L527.4 223.5 L527.6 219.2 L527.8 214.7 L527.9 212.9 L528.1 210.6 L528.3 209.9 L528.4 209.4 L528.6 206.3 L528.8 205.9 L528.9 203.9 L529.1 203.1 L529.3 202.3 L529.4 199.8 L529.6 194.6 L529.8 196.8 L529.9 193.5 L530.1 190.2 L530.3 186.6 L530.4 185.1 L530.6 182.1 L530.8 178.9 L530.9 176.8 L531.1 170.5 L531.3 170.0 L531.4 168.9 L531.6 171.6 L531.8 173.0 L531.9 172.5 L532.1 174.0 L532.2 175.1 L532.4 176.1 L532.6 177.4 L532.7 171.1 L532.9 171.3 L533.1 165.5 L533.2 165.5 L533.4 163.3 L533.6 162.1 L533.7 164.5 L533.9 175.9 L534.1 186.0 L534.2 198.6 L534.4 206.4 L534.6 203.1 L534.7 201.1 L534.9 198.8 L535.1 195.3 L535.2 191.8 L535.4 189.0 L535.6 186.8 L535.7 184.2 L535.9 185.3 L536.1 191.9 L536.2 199.5 L536.4 205.0 L536.6 210.7 L536.7 216.9 L536.9 218.2 L537.1 217.7 L537.2 215.3 L537.4 218.8 L537.6 228.7 L537.7 233.7 L537.9 229.4 L538.1 226.7 L538.2 225.6 L538.4 225.6 L538.6 222.6 L538.7 223.3 L538.9 229.4 L539.1 230.3 L539.2 232.7 L539.4 233.8 L539.6 239.5 L539.7 241.2 L539.9 242.9 L540.1 243.2 L540.2 246.8 L540.4 249.2 L540.6 249.3 L540.7 251.1 L540.9 252.7 L541.1 252.9 L541.2 248.7 L541.4 246.1 L541.6 240.8 L541.7 239.6 L541.9 239.6 L542.0 237.7 L542.2 234.6 L542.4 233.4 L542.5 229.7 L542.7 229.3 L542.9 228.3 L543.0 226.5 L543.2 228.0 L543.4 227.7 L543.5 231.0 L543.7 233.9 L543.9 236.2 L544.0 240.4 L544.2 235.3 L544.4 235.3 L544.5 232.0 L544.7 228.6 L544.9 226.7 L545.0 227.2 L545.2 227.5 L545.4 229.9 L545.5 232.1 L545.7 233.8 L545.9 234.9 L546.0 236.6 L546.2 239.8 L546.4 238.6 L546.5 237.1 L546.7 234.2 L546.9 229.8 L547.0 228.3 L547.2 225.5 L547.4 222.8 L547.5 227.0 L547.7 231.5 L547.9 238.4 L548.0 243.1 L548.2 247.2 L548.4 242.8 L548.5 244.1 L548.7 245.2 L548.9 244.5 L549.0 241.7 L549.2 238.8 L549.4 240.9 L549.5 240.9 L549.7 243.6 L549.9 242.6 L550.0 248.5 L550.2 251.0 L550.4 249.4 L550.5 248.0 L550.7 245.4 L550.9 245.3 L551.0 240.6 L551.2 240.8 L551.4 237.9 L551.5 235.2 L551.7 235.0 L551.8 235.6 L552.0 239.2 L552.2 242.9 L552.3 247.0 L552.5 248.0 L552.7 249.6 L552.8 252.9 L553.0 254.1 L553.2 255.0 L553.3 257.7 L553.5 259.9 L553.7 263.8 L553.8 261.9 L554.0 264.3 L554.2 264.6 L554.3 265.3 L554.5 268.0 L554.7 268.1 L554.8 268.9 L555.0 267.2 L555.2 259.4 L555.3 253.0 L555.5 245.0 L555.7 237.2 L555.8 238.1 L556.0 237.2 L556.2 238.6 L556.3 241.9 L556.5 240.8 L556.7 242.5 L556.8 241.9 L557.0 244.3 L557.2 240.6 L557.3 239.1 L557.5 235.3 L557.7 231.7 L557.8 229.4 L558.0 228.7 L558.2 232.4 L558.3 241.6 L558.5 243.8 L558.7 249.7 L558.8 254.1 L559.0 249.6 L559.2 242.5 L559.3 237.1 L559.5 231.8 L559.7 228.6 L559.8 223.2 L560.0 221.9 L560.2 220.7 L560.3 220.8 L560.5 219.5 L560.7 216.8 L560.8 217.7 L561.0 215.1 L561.2 213.9 L561.3 212.3 L561.5 209.5 L561.6 209.2 L561.8 207.5 L562.0 207.3 L562.1 203.4 L562.3 200.2 L562.5 197.9 L562.6 194.2 L562.8 191.9 L563.0 188.9 L563.1 186.5 L563.3 185.5 L563.5 185.9 L563.6 189.0 L563.8 191.1 L564.0 192.9 L564.1 195.9 L564.3 198.6 L564.5 199.5 L564.6 201.8 L564.8 204.4 L565.0 201.8 L565.1 198.2 L565.3 199.6 L565.5 198.8 L565.6 196.3 L565.8 198.5 L566.0 194.6 L566.1 189.1 L566.3 182.8 L566.5 178.2 L566.6 173.2 L566.8 167.7 L567.0 161.3 L567.1 156.9 L567.3 151.8 L567.5 147.4 L567.6 140.5 L567.8 137.1 L568.0 131.1 L568.1 126.3 L568.3 124.8 L568.5 126.4 L568.6 131.8 L568.8 135.0 L569.0 136.3 L569.1 140.6 L569.3 143.1 L569.5 146.6 L569.6 147.1 L569.8 142.4 L570.0 141.0 L570.1 136.2 L570.3 132.1 L570.5 130.4 L570.6 125.0 L570.8 125.9 L571.0 124.0 L571.1 130.4 L571.3 136.2 L571.4 141.5 L571.6 148.3 L571.8 153.9 L571.9 160.3 L572.1 167.3 L572.3 168.8 L572.4 173.2 L572.6 172.3 L572.8 176.9 L572.9 176.2 L573.1 177.1 L573.3 180.4 L573.4 181.8 L573.6 182.8 L573.8 182.0 L573.9 179.9 L574.1 180.6 L574.3 178.7 L574.4 178.2 L574.6 178.2 L574.8 175.0 L574.9 175.3 L575.1 177.1 L575.3 178.2 L575.4 178.7 L575.6 180.6 L575.8 182.4 L575.9 183.2 L576.1 182.9 L576.3 186.2 L576.4 183.7 L576.6 180.4 L576.8 176.5 L576.9 173.9 L577.1 173.8 L577.3 170.6 L577.4 167.2 L577.6 162.4 L577.8 161.5 L577.9 157.0 L578.1 155.0 L578.3 149.3 L578.4 146.8 L578.6 142.7 L578.8 144.6 L578.9 143.8 L579.1 147.3 L579.3 146.9 L579.4 147.3 L579.6 151.0 L579.8 151.9 L579.9 151.1 L580.1 154.5 L580.3 156.3 L580.4 157.8 L580.6 160.9 L580.8 159.8 L580.9 161.8 L581.1 161.6 L581.2 159.6 L581.4 157.4 L581.6 154.8 L581.7 151.8 L581.9 149.5 L582.1 146.5 L582.2 143.7 L582.4 139.4 L582.6 138.6 L582.7 139.8 L582.9 143.1 L583.1 145.6 L583.2 147.0 L583.4 146.7 L583.6 151.6 L583.7 159.9 L583.9 156.9 L584.1 156.6 L584.2 158.1 L584.4 159.0 L584.6 158.2 L584.7 157.6 L584.9 156.7 L585.1 157.6 L585.2 156.7 L585.4 156.4 L585.6 157.5 L585.7 153.5 L585.9 150.2 L586.1 147.0 L586.2 145.9 L586.4 146.0 L586.6 144.4 L586.7 144.0 L586.9 143.9 L587.1 142.8 L587.2 142.4 L587.4 145.8 L587.6 144.2 L587.7 147.2 L587.9 143.6 L588.1 140.3 L588.2 138.4 L588.4 136.1 L588.6 133.1 L588.7 128.6 L588.9 126.4 L589.1 121.3 L589.2 119.8 L589.4 118.2 L589.6 118.1 L589.7 117.2 L589.9 117.3 L590.1 119.5 L590.2 114.0 L590.4 114.1 L590.6 114.4 L590.7 112.6 L590.9 114.1 L591.0 108.9 L591.2 109.2 L591.4 106.5 L591.5 106.6 L591.7 104.7 L591.9 103.5 L592.0 101.1 L592.2 102.1 L592.4 104.3 L592.5 107.5 L592.7 108.0 L592.9 110.5 L593.0 110.0 L593.2 113.3 L593.4 118.0 L593.5 118.5 L593.7 125.6 L593.9 131.7 L594.0 133.7 L594.2 140.0 L594.4 143.7 L594.5 148.9 L594.7 146.8 L594.9 145.4 L595.0 144.9 L595.2 144.1 L595.4 142.9 L595.5 141.7 L595.7 142.5 L595.9 140.0 L596.0 136.2 L596.2 134.7 L596.4 133.3 L596.5 124.1 L596.7 127.2 L596.9 125.8 L597.0 122.5 L597.2 117.1 L597.4 122.2 L597.5 130.4 L597.7 137.3 L597.9 145.9 L598.0 150.9 L598.2 157.0 L598.4 160.0 L598.5 164.1 L598.7 166.8 L598.9 170.9 L599.0 171.2 L599.2 176.0 L599.4 177.9 L599.5 175.6 L599.7 172.6 L599.9 171.1 L600.0 169.0 L600.2 165.2 L600.4 166.3 L600.5 167.8 L600.7 174.9 L600.8 177.9 L601.0 181.4 L601.2 189.3 L601.3 193.2 L601.5 215.6 L601.7 213.4 L601.8 219.0 L602.0 209.3 L602.2 218.8 L602.3 219.4 L602.5 217.8 L602.7 219.2 L602.8 219.0 L603.0 219.5 L603.2 218.8 L603.3 212.3 L603.5 214.6 L603.7 207.0 L603.8 207.9 L604.0 206.1 L604.2 202.3 L604.3 207.4 L604.5 205.2 L604.7 209.8 L604.8 206.1 L605.0 204.5 L605.2 206.3 L605.3 210.6 L605.5 212.3 L605.7 213.3 L605.8 210.5 L606.0 214.6 L606.2 206.7 L606.3 205.3 L606.5 206.4 L606.7 201.2 L606.8 191.5 L607.0 205.4 L607.2 204.8 L607.3 204.9 L607.5 214.4 L607.7 206.2 L607.8 210.9 L608.0 211.0 L608.2 226.4 L608.3 208.0 L608.5 214.1 L608.7 213.5 L608.8 214.3 L609.0 209.4 L609.2 208.0 L609.3 216.7 L609.5 206.4 L609.7 207.3 L609.8 205.4 L610.0 205.4 L610.2 199.9 L610.3 201.7 L610.5 205.4 L610.7 208.0 L610.8 212.9 L611.0 213.4 L611.1 217.4 L611.3 216.5 L611.5 222.4 L611.6 219.8 L611.8 222.6 L612.0 219.7 L612.1 221.7 L612.3 227.4 L612.5 225.6 L612.6 222.0 L612.8 227.7 L613.0 228.0 L613.1 224.5 L613.3 226.8 L613.5 224.3 L613.6 224.2 L613.8 225.2 L614.0 220.3 L614.1 226.9 L614.3 219.3 L614.5 218.5 L614.6 221.4 L614.8 217.6 L615.0 214.6 L615.1 214.5 L615.3 214.5 L615.5 211.5 L615.6 218.1 L615.8 218.3 L616.0 216.4 L616.1 218.5 L616.3 224.4 L616.5 220.7 L616.6 230.8 L616.8 224.1 L617.0 228.6 L617.1 222.3 L617.3 228.3 L617.5 225.0 L617.6 228.6 L617.8 226.7 L618.0 224.8 L618.1 230.5 L618.3 226.7 L618.5 222.0 L618.6 224.0 L618.8 206.6 L619.0 220.0 L619.1 222.8 L619.3 214.5 L619.5 216.2 L619.6 211.3 L619.8 214.6 L620.0 210.8 L620.1 208.9 L620.3 209.1 L620.5 209.1 L620.6 205.2 L620.8 199.8 L620.9 207.4 L621.1 209.1 L621.3 207.7 L621.4 203.6 L621.6 213.7 L621.8 215.1 L621.9 219.2 L622.1 217.9 L622.3 225.3 L622.4 228.5 L622.6 229.7 L622.8 234.2 L622.9 234.5 L623.1 234.8 L623.3 236.8 L623.4 235.1 L623.6 243.4 L623.8 219.1 L623.9 219.1 L624.1 214.3 L624.3 213.2 L624.4 208.0 L624.6 209.8 L624.8 210.8 L624.9 205.6 L625.1 206.1 L625.3 209.8 L625.4 207.1 L625.6 200.1 L625.8 210.7 L625.9 205.1 L626.1 208.5 L626.3 208.0 L626.4 209.0 L626.6 209.6 L626.8 214.3 L626.9 212.1 L627.1 208.6 L627.3 215.4 L627.4 218.0 L627.6 214.2 L627.8 222.0 L627.9 219.3 L628.1 224.0 L628.3 226.5 L628.4 225.0 L628.6 226.5 L628.8 225.2 L628.9 223.5 L629.1 223.5 L629.3 228.8 L629.4 229.0 L629.6 225.6 L629.8 233.2 L629.9 237.2 L630.1 235.5 L630.3 241.9 L630.4 236.5 L630.6 235.8 L630.7 239.5 L630.9 239.6 L631.1 238.1 L631.2 243.5 L631.4 241.6 L631.6 240.0 L631.7 242.7 L631.9 242.4 L632.1 244.7 L632.2 247.4 L632.4 242.2 L632.6 240.9 L632.7 247.6 L632.9 250.0 L633.1 242.5 L633.2 241.7 L633.4 241.0 L633.6 243.6 L633.7 243.7 L633.9 241.6 L634.1 245.0 L634.2 241.0 L634.4 241.2 L634.6 240.1 L634.7 247.1 L634.9 247.0 L635.1 248.4 L635.2 244.0 L635.4 249.8 L635.6 248.1 L635.7 249.8 L635.9 250.2 L636.1 248.6 L636.2 249.5 L636.4 247.0 L636.6 249.8 L636.7 251.3 L636.9 249.8 L637.1 253.2 L637.2 256.6 L637.4 252.8 L637.6 252.0 L637.7 252.6 L637.9 255.5 L638.1 259.7 L638.2 256.4 L638.4 256.6 L638.6 254.0 L638.7 258.1 L638.9 258.9 L639.1 256.9 L639.2 258.2 L639.4 257.2 L639.6 260.9 L639.7 262.5 L639.9 260.4 L640.1 260.7 L640.2 259.7 L640.4 257.9 L640.5 257.5 L640.7 258.2 L640.9 259.3 L641.0 259.3 L641.2 261.6 L641.4 261.0 L641.5 262.5 L641.7 260.7 L641.9 258.3 L642.0 259.0 L642.2 254.7 L642.4 262.5 L642.5 257.1 L642.7 257.9 L642.9 263.3 L643.0 256.5 L643.2 256.1 L643.4 259.1 L643.5 258.3 L643.7 260.3 L643.9 261.1 L644.0 262.3 L644.2 260.8 L644.4 263.0 L644.5 260.7 L644.7 264.6 L644.9 264.6 L645.0 258.2 L645.2 261.9 L645.4 263.0 L645.5 258.2 L645.7 246.9 L645.9 263.2 L646.0 261.1 L646.2 264.2 L646.4 262.4 L646.5 262.7 L646.7 261.9 L646.9 263.1 L647.0 260.5 L647.2 261.4 L647.4 264.3 L647.5 261.1 L647.7 265.0 L647.9 262.7 L648.0 261.9 L648.2 261.0 L648.4 265.7 L648.5 262.0 L648.7 265.2 L648.9 261.1 L649.0 266.0 L649.2 266.7 L649.4 265.0 L649.5 263.0 L649.7 266.7 L649.9 267.6 L650.0 266.6 L650.2 266.7 L650.3 271.0 L650.5 269.1 L650.7 269.0 L650.8 272.5 L651.0 270.9 L651.2 267.9 L651.3 274.0 L651.5 271.5 L651.7 275.4 L651.8 272.0 L652.0 274.7 L652.2 280.9 L652.3 276.1 L652.5 275.8 L652.7 274.6 L652.8 274.6 L653.0 271.7 L653.2 271.5 L653.3 269.0 L653.5 273.2 L653.7 265.5 L653.8 270.9 L654.0 263.6 L654.2 266.3 L654.3 268.2 L654.5 263.2 L654.7 270.4 L654.8 264.5 L655.0 263.0 L655.2 268.6 L655.3 265.8 L655.5 271.0 L655.7 270.3 L655.8 263.2 L656.0 262.6 L656.2 268.4 L656.3 271.5 L656.5 268.4 L656.7 269.5 L656.8 274.7 L657.0 266.8 L657.2 272.9 L657.3 269.5 L657.5 275.3 L657.7 276.5 L657.8 270.8 L658.0 261.7 L658.2 270.4 L658.3 279.5 L658.5 273.4 L658.7 277.7 L658.8 272.4 L659.0 273.7 L659.2 276.1 L659.3 279.1 L659.5 276.2 L659.7 271.7 L659.8 278.3 L660.0 278.1 L660.1 280.8 L660.3 278.4 L660.5 277.9 L660.6 279.8 L660.8 274.3 L661.0 281.1 L661.1 283.7 L661.3 282.4 L661.5 279.7 L661.6 278.7 L661.8 285.6 L662.0 281.8 L662.1 283.0 L662.3 284.3 L662.5 282.7 L662.6 284.6 L662.8 288.4 L663.0 284.3 L663.1 290.3 L663.3 286.8 L663.5 286.9 L663.6 288.9 L663.8 289.2 L664.0 289.9 L664.1 289.2 L664.3 286.9 L664.5 292.3 L664.6 288.3 L664.8 284.7 L665.0 291.3 L665.1 290.1 L665.3 288.2 L665.5 287.9 L665.6 290.3 L665.8 291.5 L666.0 286.6 L666.1 283.1 L666.3 284.0 L666.5 286.1 L666.6 284.2 L666.8 282.4 L667.0 286.8 L667.1 284.3 L667.3 281.5 L667.5 282.1 L667.6 279.1 L667.8 278.7 L668.0 278.5 L668.1 271.8 L668.3 279.0 L668.5 277.4 L668.6 276.3 L668.8 278.4 L669.0 278.9 L669.1 277.2 L669.3 278.0 L669.5 277.8 L669.6 286.9 L669.8 276.1 L669.9 280.0 L670.1 282.3 L670.3 275.2 L670.4 278.9 L670.6 278.8 L670.8 277.3 L670.9 287.5 L671.1 281.3 L671.3 279.6 L671.4 281.0 L671.6 283.3 L671.8 282.8 L671.9 281.9 L672.1 285.7 L672.3 282.8 L672.4 284.5 L672.6 286.4 L672.8 284.8 L672.9 287.1 L673.1 283.4 L673.3 293.6 L673.4 286.7 L673.6 289.6 L673.8 286.4 L673.9 286.3 L674.1 288.6 L674.3 288.1 L674.4 288.3 L674.6 288.7 L674.8 291.5 L674.9 299.0 L675.1 294.9 L675.3 290.8 L675.4 295.4 L675.6 295.4 L675.8 290.0 L675.9 290.6 L676.1 291.3 L676.3 302.1 L676.4 292.4 L676.6 292.3 L676.8 296.6 L676.9 293.3 L677.1 293.7 L677.3 295.8 L677.4 295.2 L677.6 289.5 L677.8 292.6 L677.9 298.7 L678.1 292.7 L678.3 299.4 L678.4 297.0 L678.6 298.5 L678.8 299.0 L678.9 294.4 L679.1 294.9 L679.3 297.0 L679.4 299.9 L679.6 306.2 L679.7 298.3 L679.9 298.9 L680.1 293.8 L680.2 297.3 L680.4 297.3 L680.6 296.9 L680.7 298.4 L680.9 300.2 L681.1 296.5 L681.2 297.1 L681.4 292.2 L681.6 296.6 L681.7 294.4 L681.9 290.5 L682.1 295.2 L682.2 290.1 L682.4 296.2 L682.6 294.8 L682.7 293.4 L682.9 297.1 L683.1 292.5 L683.2 291.9 L683.4 292.4 L683.6 292.6 L683.7 290.1 L683.9 293.1 L684.1 292.3 L684.2 290.0 L684.4 287.5 L684.6 293.6 L684.7 294.0 L684.9 293.2 L685.1 294.0 L685.2 300.8 L685.4 293.3 L685.6 296.8 L685.7 293.3 L685.9 292.1 L686.1 294.7 L686.2 294.3 L686.4 296.3 L686.6 299.9 L686.7 297.3 L686.9 299.5 L687.1 302.4 L687.2 302.3 L687.4 298.7 L687.6 297.3 L687.7 304.2 L687.9 296.9 L688.1 295.7 L688.2 295.5 L688.4 303.3 L688.6 297.6 L688.7 300.6 L688.9 301.2 L689.1 304.9 L689.2 299.1 L689.4 302.8 L689.5 303.5 L689.7 306.3 L689.9 302.9 L690.0 304.2 L690.2 302.6 L690.4 305.8 L690.5 305.3 L690.7 302.0 L690.9 304.0 L691.0 298.9 L691.2 302.1 L691.4 299.6 L691.5 300.6 L691.7 303.8 L691.9 306.3 L692.0 301.7 L692.2 300.7 L692.4 300.0 L692.5 302.2 L692.7 299.7 L692.9 302.7 L693.0 304.4 L693.2 302.7 L693.4 300.8 L693.5 304.0 L693.7 300.8 L693.9 298.4 L694.0 305.5 L694.2 307.7 L694.4 306.7 L694.5 303.0 L694.7 296.5 L694.9 303.1 L695.0 306.4 L695.2 304.2 L695.4 312.1 L695.5 303.4 L695.7 307.1 L695.9 307.3 L696.0 307.2 L696.2 303.4 L696.4 306.6 L696.5 308.4 L696.7 306.5 L696.9 304.5 L697.0 305.4 L697.2 306.0 L697.4 309.9 L697.5 311.6 L697.7 310.1 L697.9 310.7 L698.0 309.4 L698.2 310.4 L698.4 305.6 L698.5 310.6 L698.7 312.4 L698.9 309.3 L699.0 312.2 L699.2 307.1 L699.3 310.7 L699.5 310.1 L699.7 312.6 L699.8 310.6 L700.0 315.9 L700.2 303.2 L700.3 306.9 L700.5 308.9 L700.7 310.8 L700.8 308.8 L701.0 308.6 L701.2 306.3 L701.3 306.4 L701.5 307.6 L701.7 313.4 L701.8 305.3 L702.0 316.0 L702.2 311.6 L702.3 308.3 L702.5 310.8 L702.7 311.1 L702.8 305.5 L703.0 304.2 L703.2 311.2 L703.3 305.4 L703.5 309.5 L703.7 309.4 L703.8 299.2 L704.0 309.9 L704.2 310.2 L704.3 312.2 L704.5 309.1 L704.7 310.5 L704.8 311.7 L705.0 309.6 L705.2 314.3 L705.3 312.7 L705.5 314.5 L705.7 311.8 L705.8 316.9 L706.0 308.9 L706.2 309.6 L706.3 313.7 L706.5 311.1 L706.7 310.9 L706.8 312.4 L707.0 308.6 L707.2 313.3 L707.3 314.3 L707.5 312.4 L707.7 307.6 L707.8 318.1 L708.0 315.3 L708.2 312.4 L708.3 311.9 L708.5 311.9 L708.7 311.9 L708.8 311.8 L709.0 314.3 L709.1 317.0 L709.3 319.5 L709.5 315.7 L709.6 318.0 L709.8 316.7 L710.0 312.2 L710.1 312.7 L710.3 315.9 L710.5 315.7 L710.6 316.6 L710.8 310.7 L711.0 308.9 L711.1 323.7 L711.3 312.4 L711.5 315.0 L711.6 313.0 L711.8 310.0 L712.0 317.1 L712.1 315.2 L712.3 317.9 L712.5 317.9 L712.6 312.6 L712.8 314.9 L713.0 318.3 L713.1 314.6 L713.3 317.0 L713.5 319.9 L713.6 314.2 L713.8 316.6 L714.0 318.1 L714.1 322.8 L714.3 317.7 L714.5 316.0 L714.6 319.2 L714.8 316.1 L715.0 318.2 L715.1 318.0 L715.3 316.7 L715.5 319.0 L715.6 319.9 L715.8 313.8 L716.0 318.1 L716.1 316.4 L716.3 315.9 L716.5 316.5 L716.6 318.8 L716.8 315.7 L717.0 315.4 L717.1 313.5 L717.3 316.5 L717.5 317.1 L717.6 315.2 L717.8 317.2 L718.0 319.3 L718.1 321.9 L718.3 318.3 L718.5 324.2 L718.6 322.3 L718.8 324.7 L718.9 322.0 L719.1 321.1 L719.3 319.6 L719.4 321.1 L719.6 321.7 L719.8 322.1 L719.9 330.0 L720.1 332.8 L720.3 324.1 L720.4 325.7 L720.6 322.0 L720.8 319.2 L720.9 323.7 L721.1 324.8 L721.3 327.7 L721.4 337.2 L721.6 325.7 L721.8 328.3 L721.9 328.1 L722.1 326.0 L722.3 327.3 L722.4 325.2 L722.6 327.2 L722.8 320.3 L722.9 316.5 L723.1 321.7 L723.3 322.9 L723.4 322.4 L723.6 317.9 L723.8 320.0 L723.9 316.5 L724.1 318.9 L724.3 312.9 L724.4 313.6 L724.6 317.7 L724.8 311.8 L724.9 310.7 L725.1 315.9 L725.3 314.2 L725.4 308.7 L725.6 320.2 L725.8 310.9 L725.9 312.5 L726.1 313.3 L726.3 318.3 L726.4 313.3 L726.6 315.3 L726.8 312.8 L726.9 314.7 L727.1 310.1 L727.3 313.4 L727.4 311.6 L727.6 307.8 L727.8 313.7 L727.9 318.7 L728.1 314.1 L728.3 312.2 L728.4 314.8 L728.6 310.5 L728.7 313.8 L728.9 314.3 L729.1 312.8 L729.2 312.2 L729.4 313.1 L729.6 311.6 L729.7 312.2 L729.9 314.4 L730.1 308.4 L730.2 316.2 L730.4 315.8 L730.6 314.5 L730.7 310.9 L730.9 311.9 L731.1 311.3 L731.2 314.4 L731.4 314.4 L731.6 315.6 L731.7 313.2 L731.9 308.3 L732.1 308.0 L732.2 311.8 L732.4 313.3 L732.6 308.8 L732.7 312.0 L732.9 312.7 L733.1 311.2 L733.2 312.4 L733.4 318.5 L733.6 313.1 L733.7 317.9 L733.9 313.9 L734.1 311.9 L734.2 316.7 L734.4 312.8 L734.6 313.9 L734.7 302.6 L734.9 316.1 L735.1 313.1 L735.2 317.1 L735.4 314.6 L735.6 313.5 L735.7 312.1 L735.9 315.0 L736.1 314.3 L736.2 313.7 L736.4 320.2 L736.6 315.8 L736.7 320.8 L736.9 320.0 L737.1 317.9 L737.2 319.0 L737.4 319.1 L737.6 323.5 L737.7 321.8 L737.9 320.3 L738.1 319.8 L738.2 318.5 L738.4 318.9 L738.5 318.1 L738.7 319.9 L738.9 322.3 L739.0 316.6 L739.2 317.3 L739.4 316.3 L739.5 318.2 L739.7 320.8 L739.9 317.4 L740.0 318.6 L740.2 312.3 L740.4 317.3 L740.5 318.5 L740.7 315.9 L740.9 313.2 L741.0 317.8 L741.2 316.1 L741.4 320.0 L741.5 314.1 L741.7 314.5 L741.9 312.5 L742.0 314.5 L742.2 309.7 L742.4 317.0 L742.5 314.9 L742.7 312.5 L742.9 312.3 L743.0 315.0 L743.2 315.2 L743.4 314.1 L743.5 314.3 L743.7 317.4 L743.9 315.3 L744.0 315.9 L744.2 314.9 L744.4 316.6 L744.5 314.8 L744.7 316.3 L744.9 319.8 L745.0 321.4 L745.2 319.7 L745.4 312.1 L745.5 317.9 L745.7 323.8 L745.9 325.8 L746.0 325.0 L746.2 321.9 L746.4 321.9 L746.5 322.2 L746.7 327.4 L746.9 324.3 L747.0 319.4 L747.2 326.5 L747.4 326.5 L747.5 320.0 L747.7 323.4 L747.9 330.4 L748.0 327.6 L748.2 322.8 L748.3 325.7 L748.5 327.9 L748.7 327.0 L748.8 323.6 L749.0 325.8 L749.2 328.1 L749.3 329.3 L749.5 324.7 L749.7 332.6 L749.8 327.8 L750.0 323.9 L750.2 327.0 L750.3 321.6 L750.5 326.6 L750.7 328.5 L750.8 334.6 L751.0 329.8 L751.2 330.4 L751.3 331.5 L751.5 330.2 L751.7 328.6 L751.8 333.3 L752.0 333.4 L752.2 334.2 L752.3 333.4 L752.5 329.0 L752.7 329.2 L752.8 329.8 L753.0 330.8 L753.2 333.1 L753.3 331.9 L753.5 328.7 L753.7 335.7 L753.8 335.2 L754.0 331.4 L754.2 325.7 L754.3 328.9 L754.5 328.1 L754.7 327.2 L754.8 326.4 L755.0 328.8 L755.2 329.4 L755.3 328.2 L755.5 324.7 L755.7 327.3 L755.8 336.3 L756.0 326.3 L756.2 324.6 L756.3 331.5 L756.5 325.5 L756.7 321.4 L756.8 326.2 L757.0 322.1 L757.2 321.8 L757.3 325.3 L757.5 321.1 L757.7 318.7 L757.8 323.5 L758.0 323.6 L758.1 318.6 L758.3 321.4 L758.5 325.2 L758.6 323.7 L758.8 325.5 L759.0 323.9 L759.1 323.2 L759.3 322.5 L759.5 324.4 L759.6 326.6 L759.8 320.3 L760.0 321.9 L760.1 326.7 L760.3 328.5 L760.5 325.6 L760.6 327.5 L760.8 325.3 L761.0 324.6 L761.1 328.1 L761.3 328.1 L761.5 326.9 L761.6 325.2 L761.8 328.6 L762.0 328.6 L762.1 328.4 L762.3 328.7 L762.5 328.2 L762.6 330.8 L762.8 330.7 L763.0 334.3 L763.1 333.9 L763.3 330.7 L763.5 328.4 L763.6 333.2 L763.8 330.7 L764.0 335.9 L764.1 329.2 L764.3 330.9 L764.5 336.8 L764.6 333.2 L764.8 335.4 L765.0 337.5 L765.1 331.9 L765.3 336.5 L765.5 332.7 L765.6 334.0 L765.8 339.9 L766.0 335.0 L766.1 336.5 L766.3 330.7 L766.5 339.3 L766.6 331.9 L766.8 334.7 L767.0 333.7 L767.1 334.9 L767.3 334.0 L767.5 337.0 L767.6 336.9 L767.8 337.9 L767.9 335.7 L768.1 335.5 L768.3 336.6 L768.4 336.9 L768.6 331.9 L768.8 336.2 L768.9 335.2 L769.1 337.6 L769.3 336.1 L769.4 336.9 L769.6 336.3 L769.8 332.1 L769.9 336.2 L770.1 333.2 L770.3 329.9 L770.4 332.7 L770.6 328.9 L770.8 335.4 L770.9 331.6 L771.1 327.3 L771.3 324.9 L771.4 329.0 L771.6 328.3 L771.8 330.4 L771.9 331.0 L772.1 330.8 L772.3 329.2 L772.4 325.5 L772.6 329.8 L772.8 329.4 L772.9 321.5 L773.1 324.4 L773.3 323.5 L773.4 323.2 L773.6 327.1 L773.8 325.4 L773.9 324.3 L774.1 321.2 L774.3 319.1 L774.4 321.4 L774.6 319.2 L774.8 321.0 L774.9 312.2 L775.1 319.0 L775.3 321.5 L775.4 323.1 L775.6 320.9 L775.8 321.5 L775.9 321.5 L776.1 321.9 L776.3 325.2 L776.4 321.2 L776.6 323.8 L776.8 320.7 L776.9 327.1 L777.1 326.8 L777.3 327.6 L777.4 326.0 L777.6 326.2 L777.7 324.0 L777.9 328.2 L778.1 330.9 L778.2 314.3 L778.4 332.7 L778.6 327.2 L778.7 330.0 L778.9 326.6 L779.1 327.4 L779.2 329.5 L779.4 326.3 L779.6 330.8 L779.7 326.5 L779.9 327.8 L780.1 323.0 L780.2 324.8 L780.4 324.6 L780.6 326.6 L780.7 329.2 L780.9 325.1 L781.1 318.2 L781.2 321.4 L781.4 321.2 L781.6 325.6 L781.7 324.4 L781.9 321.8 L782.1 323.4 L782.2 326.5 L782.4 325.3 L782.6 321.1 L782.7 327.5 L782.9 324.6 L783.1 322.4 L783.2 324.4 L783.4 328.3 L783.6 318.1 L783.7 325.6 L783.9 322.4 L784.1 324.3 L784.2 323.7 L784.4 324.6 L784.6 323.0 L784.7 323.9 L784.9 327.5 L785.1 325.2 L785.2 320.7 L785.4 325.6 L785.6 327.9 L785.7 327.6 L785.9 327.1 L786.1 321.9 L786.2 328.0 L786.4 328.5 L786.6 330.6 L786.7 324.8 L786.9 325.8 L787.1 324.6 L787.2 324.4 L787.4 320.2 L787.5 322.5 L787.7 321.8 L787.9 321.2 L788.0 325.0 L788.2 319.1 L788.4 318.6 L788.5 321.7 L788.7 317.1 L788.9 320.8 L789.0 318.4 L789.2 315.2 L789.4 314.6 L789.5 316.5 L789.7 315.8 L789.9 316.5 L790.0 313.6 L790.2 317.9 L790.4 314.9 L790.5 315.4 L790.7 316.1 L790.9 313.4 L791.0 315.6 L791.2 315.8 L791.4 308.5 L791.5 311.9 L791.7 319.0 L791.9 315.3 L792.0 315.5 L792.2 311.8 L792.4 318.4 L792.5 313.6 L792.7 309.1 L792.9 314.0 L793.0 309.8 L793.2 312.7 L793.4 310.8 L793.5 317.3 L793.7 311.3 L793.9 308.8 L794.0 312.6 L794.2 315.3 L794.4 307.1 L794.5 310.6 L794.7 309.1 L794.9 308.0 L795.0 303.5 L795.2 304.1 L795.4 309.7 L795.5 306.4 L795.7 304.5 L795.9 310.1 L796.0 312.0 L796.2 307.1 L796.4 302.4 L796.5 304.6 L796.7 308.3 L796.9 299.7 L797.0 300.6 L797.2 302.2 L797.3 306.7 L797.5 304.8 L797.7 305.2 L797.8 304.2 L798.0 304.1 L798.2 306.4 L798.3 312.1 L798.5 303.9 L798.7 305.8 L798.8 301.0 L799.0 305.8 L799.2 301.9 L799.3 302.4 L799.5 299.6 L799.7 298.6 L799.8 298.6 L800.0 297.4 L800.2 296.4 L800.3 304.7 L800.5 301.4 L800.7 303.0 L800.8 302.3 L801.0 298.0 L801.2 302.3 L801.3 300.0 L801.5 300.7 L801.7 302.9 L801.8 304.3 L802.0 304.5 L802.2 305.0 L802.3 303.5 L802.5 305.5 L802.7 309.0 L802.8 318.0 L803.0 308.8 L803.2 305.5 L803.3 307.4 L803.5 309.2 L803.7 309.4 L803.8 313.7 L804.0 310.3 L804.2 308.4 L804.3 306.7 L804.5 303.7 L804.7 310.7 L804.8 309.7 L805.0 306.1 L805.2 308.5 L805.3 307.6 L805.5 307.4 L805.7 312.8 L805.8 307.2 L806.0 314.1 L806.2 307.4 L806.3 303.4 L806.5 307.9 L806.7 313.4 L806.8 306.8 L807.0 308.2 L807.1 300.7 L807.3 308.0 L807.5 302.4 L807.6 305.4 L807.8 308.8 L808.0 304.2 L808.1 308.6 L808.3 304.2 L808.5 303.8 L808.6 305.2 L808.8 307.6 L809.0 305.1 L809.1 305.0 L809.3 302.5 L809.5 300.6 L809.6 305.3 L809.8 304.7 L810.0 305.9 L810.1 307.8 L810.3 307.1 L810.5 302.7 L810.6 305.8 L810.8 305.8 L811.0 304.2 L811.1 298.5 L811.3 302.0 L811.5 303.7 L811.6 305.5 L811.8 302.4 L812.0 299.1 L812.1 306.3 L812.3 302.7 L812.5 299.8 L812.6 303.8 L812.8 303.9 L813.0 301.0 L813.1 299.4 L813.3 299.1 L813.5 302.2 L813.6 299.7 L813.8 301.1 L814.0 294.6 L814.1 298.2 L814.3 298.1 L814.5 297.7 L814.6 293.3 L814.8 297.2 L815.0 302.4 L815.1 298.9 L815.3 296.6 L815.5 296.0 L815.6 294.2 L815.8 298.2 L816.0 295.0 L816.1 295.6 L816.3 298.7 L816.5 301.4 L816.6 297.4 L816.8 291.1 L816.9 291.9 L817.1 298.2 L817.3 291.5 L817.4 298.1 L817.6 294.2 L817.8 299.4 L817.9 292.6 L818.1 290.6 L818.3 291.1 L818.4 302.1 L818.6 291.2 L818.8 289.4 L818.9 297.4 L819.1 283.5 L819.3 292.4 L819.4 293.6 L819.6 293.6 L819.8 294.0 L819.9 292.5 L820.1 286.7 L820.3 294.2 L820.4 293.3 L820.6 293.3 L820.8 295.5 L820.9 296.5 L821.1 295.3 L821.3 303.8 L821.4 301.3 L821.6 296.0 L821.8 293.7 L821.9 290.3 L822.1 294.7 L822.3 287.4 L822.4 296.4 L822.6 293.7 L822.8 288.9 L822.9 291.5 L823.1 286.5 L823.3 284.9 L823.4 289.6 L823.6 285.0 L823.8 288.8 L823.9 288.3 L824.1 297.9 L824.3 289.8 L824.4 293.7 L824.6 292.1 L824.8 287.7 L824.9 286.8 L825.1 284.4 L825.3 290.9 L825.4 283.6 L825.6 289.5 L825.8 285.4 L825.9 290.7 L826.1 294.9 L826.3 290.8 L826.4 291.7 L826.6 292.3 L826.7 294.6 L826.9 290.2 L827.1 295.1 L827.2 294.7 L827.4 292.2 L827.6 292.6 L827.7 298.9 L827.9 297.5 L828.1 296.8 L828.2 293.4 L828.4 295.0 L828.6 292.5 L828.7 291.5 L828.9 295.2 L829.1 294.9 L829.2 293.2 L829.4 293.4 L829.6 297.7 L829.7 295.6 L829.9 287.2 L830.1 303.1 L830.2 292.7 L830.4 298.4 L830.6 291.2 L830.7 299.5 L830.9 297.7 L831.1 300.2 L831.2 297.3 L831.4 295.7 L831.6 301.2 L831.7 296.2 L831.9 295.1 L832.1 294.4 L832.2 292.1 L832.4 294.3 L832.6 297.5 L832.7 296.4 L832.9 292.1 L833.1 292.5 L833.2 294.3 L833.4 288.2 L833.6 299.5 L833.7 291.5 L833.9 285.6 L834.1 293.0 L834.2 288.7 L834.4 292.4 L834.6 293.8 L834.7 289.9 L834.9 293.2 L835.1 296.9 L835.2 289.7 L835.4 288.6 L835.6 293.7 L835.7 293.7 L835.9 300.9 L836.1 298.2 L836.2 297.8 L836.4 295.8 L836.5 291.6 L836.7 294.0 L836.9 297.6 L837.0 299.3 L837.2 297.9 L837.4 299.8 L837.5 302.2 L837.7 296.2 L837.9 301.2 L838.0 301.3 L838.2 308.8 L838.4 301.0 L838.5 310.3 L838.7 312.4 L838.9 305.8 L839.0 312.0 L839.2 318.1 L839.4 314.4 L839.5 314.7 L839.7 313.7 L839.9 314.8 L840.0 310.2 L840.2 304.0 L840.4 299.8 L840.5 299.2 L840.7 305.3 L840.9 297.1 L841.0 299.1 L841.2 305.0 L841.4 299.4 L841.5 301.9 L841.7 302.0 L841.9 306.7 L842.0 298.1 L842.2 302.1 L842.4 301.8 L842.5 302.0 L842.7 297.2 L842.9 303.3 L843.0 299.3 L843.2 300.4 L843.4 298.7 L843.5 306.9 L843.7 301.3 L843.9 307.7 L844.0 299.4 L844.2 300.0 L844.4 305.0 L844.5 299.7 L844.7 301.6 L844.9 303.5 L845.0 299.0 L845.2 299.0 L845.4 301.3 L845.5 305.7 L845.7 305.2 L845.9 307.5 L846.0 301.2 L846.2 299.2 L846.3 298.6 L846.5 300.3 L846.7 296.3 L846.8 299.7 L847.0 293.0 L847.2 297.1 L847.3 297.7 L847.5 301.0 L847.7 297.2 L847.8 297.1 L848.0 302.5 L848.2 304.1 L848.3 299.8 L848.5 300.3 L848.7 296.2 L848.8 291.6 L849.0 302.5 L849.2 311.7 L849.3 315.3 L849.5 306.5 L849.7 303.3 L849.8 306.6 L850.0 300.9 L850.2 305.1 L850.3 302.2 L850.5 305.6 L850.7 309.5 L850.8 311.5 L851.0 305.5 L851.2 305.9 L851.3 299.5 L851.5 299.9 L851.7 309.0 L851.8 307.8 L852.0 306.7 L852.2 305.4 L852.3 308.6 L852.5 302.6 L852.7 302.8 L852.8 321.4 L853.0 300.1 L853.2 304.2 L853.3 301.8 L853.5 307.7 L853.7 302.3 L853.8 302.3 L854.0 302.4 L854.2 306.0 L854.3 300.7 L854.5 299.5 L854.7 303.9 L854.8 301.9 L855.0 306.5 L855.2 303.8 L855.3 303.2 L855.5 305.6 L855.7 306.0 L855.8 307.9 L856.0 304.8 L856.1 291.8 L856.3 304.3 L856.5 304.2 L856.6 303.7 L856.8 306.9 L857.0 302.6 L857.1 306.8 L857.3 302.4 L857.5 307.9 L857.6 300.1 L857.8 287.0 L858.0 300.4 L858.1 312.3 L858.3 302.5 L858.5 302.5 L858.6 303.5 L858.8 300.7 L859.0 302.5 L859.1 301.6 L859.3 307.4 L859.5 304.1 L859.6 300.6 L859.8 301.3 L860.0 302.5 L860.1 290.3 L860.3 305.0 L860.5 294.9 L860.6 298.9 L860.8 296.4 L861.0 298.5 L861.1 300.5 L861.3 297.8 L861.5 294.3 L861.6 294.9 L861.8 298.0 L862.0 295.1 L862.1 295.3 L862.3 296.5 L862.5 296.1 L862.6 299.0 L862.8 296.3 L863.0 297.8 L863.1 295.1 L863.3 292.2 L863.5 300.8 L863.6 301.8 L863.8 294.5 L864.0 303.7 L864.1 299.0 L864.3 294.0 L864.5 301.2 L864.6 290.8 L864.8 296.7 L865.0 299.5 L865.1 293.6 L865.3 308.0 L865.5 294.4 L865.6 300.1 L865.8 295.1 L865.9 297.7 L866.1 295.2 L866.3 303.0 L866.4 296.8 L866.6 298.7 L866.8 298.1 L866.9 296.4 L867.1 294.8 L867.3 297.4 L867.4 299.7 L867.6 299.7 L867.8 298.7 L867.9 296.3 L868.1 299.1 L868.3 293.4 L868.4 296.9 L868.6 290.4 L868.8 294.9 L868.9 296.6 L869.1 292.4 L869.3 292.7 L869.4 302.9 L869.6 297.6 L869.8 299.5 L869.9 299.4 L870.1 297.2 L870.3 297.4 L870.4 295.1 L870.6 298.1 L870.8 288.0 L870.9 292.3 L871.1 295.7 L871.3 295.0 L871.4 292.0 L871.6 290.4 L871.8 294.3 L871.9 292.0 L872.1 289.4 L872.3 297.7 L872.4 293.4 L872.6 296.1 L872.8 291.2 L872.9 288.6 L873.1 299.9 L873.3 304.6 L873.4 292.1 L873.6 298.7 L873.8 302.9 L873.9 302.5 L874.1 302.9 L874.3 301.8 L874.4 297.9 L874.6 308.6 L874.8 306.4 L874.9 299.5 L875.1 289.4 L875.3 302.5 L875.4 295.7 L875.6 297.0 L875.7 301.4 L875.9 298.5 L876.1 292.4 L876.2 295.5 L876.4 293.7 L876.6 289.7 L876.7 292.8 L876.9 285.7 L877.1 286.5 L877.2 292.3 L877.4 296.2 L877.6 287.8 L877.7 294.9 L877.9 291.2 L878.1 296.9 L878.2 289.5 L878.4 301.0 L878.6 291.8 L878.7 289.3 L878.9 291.1 L879.1 284.6 L879.2 292.9 L879.4 291.7 L879.6 295.4 L879.7 293.6 L879.9 286.2 L880.1 287.6 L880.2 295.7 L880.4 294.3 L880.6 302.7 L880.7 296.7 L880.9 302.8 L881.1 301.2 L881.2 307.5 L881.4 300.4 L881.6 299.8 L881.7 292.9 L881.9 295.9 L882.1 295.5 L882.2 290.7 L882.4 291.8 L882.6 279.9 L882.7 285.9 L882.9 288.5 L883.1 282.6 L883.2 286.3 L883.4 283.5 L883.6 279.2 L883.7 277.8 L883.9 280.9 L884.1 277.9 L884.2 279.2 L884.4 271.9 L884.6 283.2 L884.7 281.3 L884.9 281.1 L885.1 286.6 L885.2 262.7 L885.4 281.6 L885.5 281.1 L885.7 285.4 L885.9 287.9 L886.0 286.9 L886.2 290.6 L886.4 279.7 L886.5 283.1 L886.7 292.5 L886.9 300.2 L887.0 286.4 L887.2 299.1 L887.4 293.5 L887.5 285.3 L887.7 288.0 L887.9 291.2 L888.0 289.4 L888.2 295.9 L888.4 294.3 L888.5 292.8 L888.7 287.0 L888.9 284.9 L889.0 287.1 L889.2 294.5 L889.4 296.0 L889.5 286.2 L889.7 289.1 L889.9 280.8 L890.0 295.5 L890.2 286.9 L890.4 295.3 L890.5 297.8 L890.7 282.4 L890.9 290.6 L891.0 297.0 L891.2 299.8 L891.4 291.1 L891.5 292.1 L891.7 299.4 L891.9 301.8 L892.0 293.5 L892.2 295.0 L892.4 302.9 L892.5 300.3 L892.7 296.2 L892.9 299.8 L893.0 302.2 L893.2 304.6 L893.4 302.2 L893.5 301.2 L893.7 295.1 L893.9 306.7 L894.0 304.7 L894.2 304.4 L894.4 304.7 L894.5 305.7 L894.7 309.2 L894.9 304.7 L895.0 301.9 L895.2 313.8 L895.3 303.2 L895.5 303.9 L895.7 307.9 L895.8 305.0 L896.0 305.7 L896.2 296.0 L896.3 309.3 L896.5 298.8 L896.7 315.3 L896.8 298.8 L897.0 300.5 L897.2 300.9 L897.3 305.4 L897.5 302.5 L897.7 299.3 L897.8 296.0 L898.0 304.1 L898.2 300.0 L898.3 301.3 L898.5 298.4 L898.7 296.2 L898.8 300.7 L899.0 299.0 L899.2 301.8 L899.3 297.8 L899.5 291.4 L899.7 299.4 L899.8 295.7 L900.0 293.9 L900.2 282.7 L900.3 290.7 L900.5 295.0 L900.7 292.2 L900.8 295.6 L901.0 296.9 L901.2 294.8 L901.3 287.1 L901.5 296.5 L901.7 296.5 L901.8 294.2 L902.0 287.6 L902.2 290.0 L902.3 297.9 L902.5 293.8 L902.7 288.1 L902.8 294.3 L903.0 295.2 L903.2 300.6 L903.3 297.3 L903.5 297.6 L903.7 293.6 L903.8 290.5 L904.0 295.2 L904.2 303.3 L904.3 292.6 L904.5 302.6 L904.7 293.3 L904.8 294.4 L905.0 300.2 L905.1 297.6 L905.3 300.1 L905.5 297.1 L905.6 302.7 L905.8 305.9 L906.0 297.2 L906.1 305.2 L906.3 304.7 L906.5 306.1 L906.6 294.9 L906.8 307.2 L907.0 299.4 L907.1 301.6 L907.3 302.1 L907.5 295.3 L907.6 296.4 L907.8 301.2 L908.0 304.7 L908.1 307.0 L908.3 303.2 L908.5 307.3 L908.6 304.8 L908.8 313.3 L909.0 298.6 L909.1 303.7 L909.3 303.1 L909.5 303.6 L909.6 305.6 L909.8 305.9 L910.0 303.3 L910.1 304.8 L910.3 301.2 L910.5 301.5 L910.6 299.4 L910.8 305.8 L911.0 308.1 L911.1 306.8 L911.3 299.9 L911.5 300.6 L911.6 310.8 L911.8 305.4 L912.0 288.8 L912.1 303.7 L912.3 302.3 L912.5 299.9 L912.6 300.3 L912.8 294.4 L913.0 299.4 L913.1 298.2 L913.3 296.6 L913.5 299.7 L913.6 297.7 L913.8 303.4 L914.0 304.2 L914.1 298.5 L914.3 298.2 L914.5 301.8 L914.6 298.5 L914.8 315.1 L914.9 276.1 L915.1 289.4 L915.3 294.0 L915.4 302.1 L915.6 301.0 L915.8 296.2 L915.9 298.2 L916.1 295.2 L916.3 300.0 L916.4 305.4 L916.6 289.4 L916.8 307.0 L916.9 302.6 L917.1 297.8 L917.3 301.0 L917.4 298.9 L917.6 301.2 L917.8 303.5 L917.9 302.8 L918.1 296.1 L918.3 302.6 L918.4 297.7 L918.6 297.9 L918.8 303.5 L918.9 298.7 L919.1 301.8 L919.3 302.4 L919.4 301.7 L919.6 291.4 L919.8 303.9 L919.9 303.0 L920.1 321.5 L920.3 299.1 L920.4 307.7 L920.6 302.3 L920.8 303.5 L920.9 319.3 L921.1 304.7 L921.3 308.7 L921.4 306.7 L921.6 302.7 L921.8 305.7 L921.9 304.8 L922.1 305.5 L922.3 321.8 L922.4 308.1 L922.6 299.4 L922.8 313.3 L922.9 307.8 L923.1 310.1 L923.3 312.6 L923.4 303.5 L923.6 309.5 L923.8 305.3 L923.9 305.3 L924.1 304.1 L924.3 307.4 L924.4 311.5 L924.6 309.9 L924.7 307.6 L924.9 310.9 L925.1 296.9 L925.2 305.8 L925.4 306.9 L925.6 306.6 L925.7 317.0 L925.9 306.6 L926.1 310.3 L926.2 304.2 L926.4 307.3 L926.6 304.8 L926.7 303.6 L926.9 306.3 L927.1 306.6 L927.2 301.0 L927.4 307.5 L927.6 301.6 L927.7 304.5 L927.9 280.6 L928.1 302.5 L928.2 294.8 L928.4 305.4 L928.6 298.7 L928.7 299.3 L928.9 299.8 L929.1 294.4 L929.2 299.0 L929.4 294.0 L929.6 297.4 L929.7 300.7 L929.9 302.1 L930.1 303.0 L930.2 296.3 L930.4 293.4 L930.6 299.0 L930.7 302.9 L930.9 294.0 L931.1 309.0 L931.2 296.6 L931.4 287.0 L931.6 297.3 L931.7 304.7 L931.9 300.4 L932.1 301.8 L932.2 299.8 L932.4 291.5 L932.6 289.2 L932.7 295.0 L932.9 296.1 L933.1 295.6 L933.2 297.0 L933.4 303.7 L933.6 306.6 L933.7 294.4 L933.9 297.3 L934.1 300.8 L934.2 300.8 L934.4 293.4 L934.5 313.8 L934.7 305.4 L934.9 304.0 L935.0 295.1 L935.2 303.8 L935.4 297.6 L935.5 306.1 L935.7 302.8 L935.9 301.3 L936.0 302.5 L936.2 298.2 L936.4 300.2 L936.5 279.2 L936.7 301.9 L936.9 298.4 L937.0 309.1 L937.2 299.6 L937.4 279.0 L937.5 304.5 L937.7 295.1 L937.9 293.0 L938.0 297.3 L938.2 303.3 L938.4 306.5 L938.5 297.8 L938.7 300.6 L938.9 300.9 L939.0 298.3 L939.2 297.0 L939.4 301.4 L939.5 302.2 L939.7 307.2 L939.9 287.5 L940.0 306.0 L940.2 305.8 L940.4 310.1 L940.5 303.7 L940.7 303.2 L940.9 304.6 L941.0 300.9 L941.2 300.1 L941.4 299.0 L941.5 295.5 L941.7 296.4 L941.9 297.4 L942.0 296.7 L942.2 296.6 L942.4 294.3 L942.5 302.8 L942.7 300.1 L942.9 298.4 L943.0 288.9 L943.2 300.5 L943.4 297.1 L943.5 297.1 L943.7 297.8 L943.9 296.9 L944.0 300.4 L944.2 293.6 L944.3 293.4 L944.5 296.2 L944.7 294.7 L944.8 297.2 L945.0 298.6 L945.2 299.6 L945.3 297.3 L945.5 291.0 L945.7 292.0 L945.8 288.9 L946.0 296.1 L946.2 290.1 L946.3 287.4 L946.5 286.2 L946.7 292.2 L946.8 285.6 L947.0 278.5 L947.2 291.1 L947.3 289.2 L947.5 293.9 L947.7 291.2 L947.8 288.8 L948.0 288.3 L948.2 286.5 L948.3 283.2 L948.5 277.6 L948.7 277.8 L948.8 286.5 L949.0 287.8 L949.2 284.6 L949.3 281.3 L949.5 286.4 L949.7 283.4 L949.8 283.7 L950.0 281.6 L950.2 278.4 L950.3 278.2 L950.5 285.1 L950.7 287.8 L950.8 287.9 L951.0 279.9 L951.2 281.7 L951.3 279.4 L951.5 280.5 L951.7 281.7 L951.8 284.0 L952.0 275.9 L952.2 287.2 L952.3 280.3 L952.5 273.0 L952.7 290.2 L952.8 278.0 L953.0 281.4 L953.2 279.5 L953.3 288.5 L953.5 275.0 L953.7 288.0 L953.8 281.7 L954.0 295.6 L954.1 298.7 L954.3 295.6 L954.5 290.3 L954.6 299.6 L954.8 304.9 L955.0 298.4 L955.1 293.9 L955.3 301.7 L955.5 290.3 L955.6 293.7 L955.8 294.0 L956.0 294.0 L956.1 297.5 L956.3 292.1 L956.5 288.3 L956.6 280.2 L956.8 290.2 L957.0 292.3 L957.1 293.4 L957.3 294.5 L957.5 283.7 L957.6 290.7 L957.8 286.7 L958.0 301.1 L958.1 289.5 L958.3 289.8 L958.5 288.9 L958.6 294.8 L958.8 291.4 L959.0 315.6 L959.1 297.7 L959.3 289.2 L959.5 293.6 L959.6 298.6 L959.8 297.8 L960.0 297.4 L960.1 296.4 L960.3 289.7 L960.5 289.4 L960.6 298.2 L960.8 291.7 L961.0 293.5 L961.1 294.8 L961.3 284.2 L961.5 283.8 L961.6 292.3 L961.8 287.3 L962.0 287.5 L962.1 292.6 L962.3 285.4 L962.5 286.9 L962.6 287.4 L962.8 279.0 L963.0 292.1 L963.1 287.7 L963.3 284.6 L963.5 291.7 L963.6 280.1 L963.8 285.8 L963.9 284.2 L964.1 287.3 L964.3 287.2 L964.4 291.6 L964.6 288.3 L964.8 292.7 L964.9 293.9 L965.1 293.9 L965.3 294.6 L965.4 294.1 L965.6 291.1 L965.8 287.4 L965.9 297.5 L966.1 291.7 L966.3 300.8 L966.4 298.4 L966.6 299.1 L966.8 300.1 L966.9 303.0 L967.1 297.9 L967.3 303.3 L967.4 306.7 L967.6 306.0 L967.8 307.9 L967.9 303.3 L968.1 305.1 L968.3 313.4 L968.4 308.1 L968.6 306.9 L968.8 308.8 L968.9 300.7 L969.1 303.1 L969.3 304.6 L969.4 301.9 L969.6 307.5 L969.8 302.7 L969.9 303.7 L970.1 296.2 L970.3 298.8 L970.4 297.9 L970.6 299.1 L970.8 298.6 L970.9 296.2 L971.1 297.8 L971.3 303.1 L971.4 295.0 L971.6 291.4 L971.8 297.8 L971.9 297.9 L972.1 292.5 L972.3 294.3 L972.4 282.0 L972.6 293.5 L972.8 288.1 L972.9 296.6 L973.1 288.6 L973.3 294.0 L973.4 285.6 L973.6 284.9 L973.7 283.5 L973.9 281.1 L974.1 283.0 L974.2 289.6 L974.4 279.5 L974.6 285.3 L974.7 288.8 L974.9 285.2 L975.1 285.8 L975.2 284.6 L975.4 285.0 L975.6 275.5 L975.7 288.3 L975.9 283.6 L976.1 279.9 L976.2 280.4 L976.4 280.7 L976.6 286.8 L976.7 276.3 L976.9 276.1 L977.1 275.8 L977.2 284.2 L977.4 277.2 L977.6 281.0 L977.7 276.5 L977.9 280.5 L978.1 278.8 L978.2 274.5 L978.4 284.6 L978.6 280.8 L978.7 272.5 L978.9 289.1 L979.1 276.5 L979.2 275.1 L979.4 272.6 L979.6 284.4 L979.7 278.1 L979.9 278.1 L980.1 280.4 L980.2 276.5 L980.4 278.9 L980.6 282.1 L980.7 276.3 L980.9 281.8 L981.1 275.1 L981.2 274.5 L981.4 278.7 L981.6 275.3 L981.7 273.7 L981.9 265.7 L982.1 269.9 L982.2 270.6 L982.4 273.2 L982.6 275.0 L982.7 274.4 L982.9 273.4 L983.1 275.6 L983.2 276.0 L983.4 278.7 L983.5 268.7 L983.7 279.9 L983.9 284.1 L984.0 281.0 L984.2 275.4 L984.4 273.5 L984.5 276.9 L984.7 282.2 L984.9 277.6 L985.0 268.8 L985.2 263.6 L985.4 276.9 L985.5 284.9 L985.7 269.5 L985.9 272.7 L986.0 275.5 L986.2 276.7 L986.4 278.7 L986.5 268.9 L986.7 275.3 L986.9 272.5 L987.0 278.1 L987.2 276.8 L987.4 279.5 L987.5 271.0 L987.7 266.8 L987.9 270.4 L988.0 275.2 L988.2 274.1 L988.4 272.7 L988.5 275.8 L988.7 272.0 L988.9 282.5 L989.0 275.0 L989.2 274.8 L989.4 281.9 L989.5 267.4 L989.7 282.4 L989.9 279.9 L990.0 286.4 L990.2 283.8 L990.4 271.7 L990.5 280.7 L990.7 276.7 L990.9 278.1 L991.0 262.8 L991.2 271.9 L991.4 270.8 L991.5 282.6 L991.7 267.6 L991.9 272.3 L992.0 268.8 L992.2 263.9 L992.4 266.2 L992.5 270.4 L992.7 268.2 L992.9 268.4 L993.0 269.8 L993.2 271.2 L993.3 272.9 L993.5 271.6 L993.7 266.6 L993.8 271.7 L994.0 273.6 L994.2 280.1 L994.3 270.3 L994.5 287.4 L994.7 272.7 L994.8 281.7 L995.0 267.7 L995.2 274.6 L995.3 266.7 L995.5 270.3 L995.7 274.2 L995.8 277.9 L996.0 269.2 L996.2 277.0 L996.3 269.5 L996.5 283.2 L996.7 275.3 L996.8 285.3 L997.0 292.7 L997.2 274.5 L997.3 279.9 L997.5 276.3 L997.7 284.1 L997.8 279.9 L998.0 285.6 L998.2 277.7 L998.3 276.8 L998.5 274.2 L998.7 277.4 L998.8 277.9 L999.0 276.1 L999.2 277.0 L999.3 278.7 L999.5 275.2 L999.7 272.6 L999.8 270.8 L1000.0 271.9 L1000.2 272.0 L1000.3 276.4 L1000.5 275.5 L1000.7 269.6 L1000.8 275.8 L1001.0 271.7 L1001.2 279.1 L1001.3 271.1 L1001.5 282.3 L1001.7 278.8 L1001.8 281.7 L1002.0 281.6 L1002.2 279.4 L1002.3 285.3 L1002.5 284.4 L1002.7 286.6 L1002.8 285.4 L1003.0 286.5 L1003.1 283.1 L1003.3 270.3 L1003.5 282.0 L1003.6 268.3 L1003.8 274.9 L1004.0 276.9 L1004.1 272.3 L1004.3 273.1 L1004.5 277.2 L1004.6 270.0 L1004.8 267.8 L1005.0 265.3 L1005.1 280.5 L1005.3 267.6 L1005.5 268.8 L1005.6 268.7 L1005.8 272.5 L1006.0 265.7 L1006.1 264.1 L1006.3 263.4 L1006.5 263.6 L1006.6 260.6 L1006.8 249.5 L1007.0 265.0 L1007.1 262.5 L1007.3 268.6 L1007.5 261.2 L1007.6 260.8 L1007.8 266.0 L1008.0 246.6 L1008.1 263.1 L1008.3 256.4 L1008.5 254.3 L1008.6 260.7 L1008.8 257.7 L1009.0 252.8 L1009.1 257.6 L1009.3 262.1 L1009.5 258.2 L1009.6 254.8 L1009.8 251.4 L1010.0 252.4 L1010.1 253.8 L1010.3 249.3 L1010.5 253.0 L1010.6 255.3 L1010.8 246.4 L1011.0 252.7 L1011.1 254.0 L1011.3 251.0 L1011.5 250.2 L1011.6 258.5 L1011.8 253.0 L1012.0 253.2 L1012.1 251.5 L1012.3 252.1 L1012.5 252.1 L1012.6 253.3 L1012.8 247.9 L1012.9 247.8 L1013.1 251.7 L1013.3 253.2 L1013.4 252.5 L1013.6 257.7 L1013.8 255.0 L1013.9 257.7 L1014.1 256.3 L1014.3 247.3 L1014.4 257.9 L1014.6 261.9 L1014.8 257.2 L1014.9 256.5 L1015.1 252.7 L1015.3 257.8 L1015.4 252.7 L1015.6 250.2 L1015.8 257.8 L1015.9 261.9 L1016.1 258.8 L1016.3 261.1 L1016.4 260.6 L1016.6 270.5 L1016.8 267.4 L1016.9 266.2 L1017.1 267.9 L1017.3 271.2 L1017.4 276.9 L1017.6 271.6 L1017.8 266.2 L1017.9 274.8 L1018.1 272.9 L1018.3 267.5 L1018.4 271.9 L1018.6 271.7 L1018.8 271.3 L1018.9 273.0 L1019.1 273.3 L1019.3 278.5 L1019.4 274.2 L1019.6 274.9 L1019.8 269.7 L1019.9 271.1 L1020.1 268.5 L1020.3 268.3 L1020.4 272.7 L1020.6 286.3 L1020.8 269.5 L1020.9 267.6 L1021.1 266.8 L1021.3 266.8 L1021.4 262.3 L1021.6 261.0 L1021.8 263.1 L1021.9 265.9 L1022.1 259.1 L1022.3 243.9 L1022.4 260.1 L1022.6 257.8 L1022.7 248.7 L1022.9 251.3 L1023.1 241.7 L1023.2 250.5 L1023.4 252.0 L1023.6 254.2 L1023.7 251.7 L1023.9 247.8 L1024.1 249.5 L1024.2 251.0 L1024.4 253.0 L1024.6 251.5 L1024.7 257.5 L1024.9 244.7 L1025.1 254.6 L1025.2 256.7 L1025.4 253.8 L1025.6 259.6 L1025.7 258.3 L1025.9 256.8 L1026.1 258.3 L1026.2 266.6 L1026.4 267.9 L1026.6 271.1 L1026.7 270.6 L1026.9 270.4 L1027.1 265.0 L1027.2 268.7 L1027.4 269.4 L1027.6 278.8 L1027.7 268.4 L1027.9 267.5 L1028.1 269.2 L1028.2 277.5 L1028.4 271.5 L1028.6 277.3 L1028.7 273.2 L1028.9 279.3 L1029.1 270.2 L1029.2 275.1 L1029.4 279.7 L1029.6 277.6 L1029.7 276.3 L1029.9 285.6 L1030.1 275.6 L1030.2 274.9 L1030.4 287.6 L1030.6 290.9 L1030.7 285.4 L1030.9 281.9 L1031.1 282.1 L1031.2 282.6 L1031.4 284.2 L1031.6 288.1 L1031.7 285.2 L1031.9 285.0 L1032.1 278.3 L1032.2 281.9 L1032.4 284.7 L1032.5 283.9 L1032.7 275.2 L1032.9 272.1 L1033.0 276.1 L1033.2 276.2 L1033.4 267.7 L1033.5 268.2 L1033.7 269.5 L1033.9 269.3 L1034.0 269.1 L1034.2 260.6 L1034.4 269.4 L1034.5 252.4 L1034.7 247.2 L1034.9 252.6 L1035.0 254.1 L1035.2 240.6 L1035.4 253.9 L1035.5 256.2 L1035.7 255.8 L1035.9 258.1 L1036.0 261.7 L1036.2 257.1 L1036.4 257.2 L1036.5 262.1 L1036.7 265.0 L1036.9 260.1 L1037.0 267.6 L1037.2 266.2 L1037.4 262.5 L1037.5 264.5 L1037.7 262.5 L1037.9 268.8 L1038.0 267.6 L1038.2 276.4 L1038.4 260.0 L1038.5 265.7 L1038.7 269.1 L1038.9 274.0 L1039.0 271.4 L1039.2 269.1 L1039.4 274.6 L1039.5 266.8 L1039.7 270.7 L1039.9 272.3 L1040.0 271.6 L1040.2 260.6 L1040.4 262.5 L1040.5 266.3 L1040.7 263.1 L1040.9 260.3 L1041.0 267.0 L1041.2 265.9 L1041.4 270.4 L1041.5 270.9 L1041.7 265.4 L1041.9 273.2 L1042.0 271.3 L1042.2 272.7 L1042.3 276.9 L1042.5 267.8 L1042.7 268.6 L1042.8 271.3 L1043.0 279.7 L1043.2 278.5 L1043.3 274.7 L1043.5 276.3 L1043.7 272.8 L1043.8 279.5 L1044.0 277.2 L1044.2 277.7 L1044.3 278.8 L1044.5 275.5 L1044.7 278.9 L1044.8 271.6 L1045.0 284.8 L1045.2 273.1 L1045.3 268.3 L1045.5 270.1 L1045.7 276.5 L1045.8 262.4 L1046.0 261.5 L1046.2 263.9 L1046.3 266.1 L1046.5 266.0 L1046.7 273.0 L1046.8 265.5 L1047.0 269.0 L1047.2 264.7 L1047.3 262.5 L1047.5 266.3 L1047.7 266.4 L1047.8 270.7 L1048.0 279.0 L1048.2 264.8 L1048.3 273.0 L1048.5 261.1 L1048.7 283.9 L1048.8 264.4 L1049.0 267.8 L1049.2 270.6 L1049.3 266.5 L1049.5 265.1 L1049.7 271.7 L1049.8 265.0 L1050.0 276.3 L1050.2 256.5 L1050.3 271.7 L1050.5 270.8 L1050.7 269.6 L1050.8 271.5 L1051.0 266.4 L1051.2 266.7 L1051.3 271.2 L1051.5 263.0 L1051.7 266.2 L1051.8 267.4 L1052.0 268.4 L1052.1 267.8 L1052.3 262.3 L1052.5 272.1 L1052.6 274.3 L1052.8 279.0 L1053.0 278.9 L1053.1 274.4 L1053.3 276.8 L1053.5 275.1 L1053.6 278.4 L1053.8 278.0 L1054.0 285.4 L1054.1 283.7 L1054.3 285.0 L1054.5 281.4 L1054.6 282.2 L1054.8 284.9 L1055.0 276.2 L1055.1 285.1 L1055.3 286.4 L1055.5 281.5 L1055.6 284.0 L1055.8 281.3 L1056.0 290.5 L1056.1 286.2 L1056.3 293.5 L1056.5 284.2 L1056.6 281.8 L1056.8 284.7 L1057.0 290.3 L1057.1 290.9 L1057.3 290.9 L1057.5 283.7 L1057.6 285.2 L1057.8 287.4 L1058.0 279.6 L1058.1 286.3 L1058.3 279.9 L1058.5 283.5 L1058.6 285.3 L1058.8 283.2 L1059.0 282.4 L1059.1 286.5 L1059.3 280.0 L1059.5 280.3 L1059.6 277.7 L1059.8 282.2 L1060.0 284.9 L1060.1 282.3 L1060.3 276.0 L1060.5 285.3 L1060.6 286.3 L1060.8 281.6 L1061.0 284.5 L1061.1 286.1 L1061.3 283.4 L1061.5 287.8 L1061.6 287.9 L1061.8 283.8 L1061.9 278.5 L1062.1 285.8 L1062.3 301.0 L1062.4 294.1 L1062.6 288.3 L1062.8 285.1 L1062.9 294.3 L1063.1 294.5 L1063.3 293.3 L1063.4 303.6 L1063.6 289.5 L1063.8 288.0 L1063.9 284.2 L1064.1 287.0 L1064.3 282.9 L1064.4 290.1 L1064.6 284.7 L1064.8 291.1 L1064.9 283.5 L1065.1 285.9 L1065.3 277.6 L1065.4 286.9 L1065.6 280.6 L1065.8 288.2 L1065.9 285.2 L1066.1 276.5 L1066.3 278.1 L1066.4 284.4 L1066.6 282.9 L1066.8 290.1 L1066.9 279.3 L1067.1 282.0 L1067.3 282.6 L1067.4 283.0 L1067.6 288.0 L1067.8 281.7 L1067.9 276.4 L1068.1 288.5 L1068.3 284.2 L1068.4 276.9 L1068.6 280.7 L1068.8 282.9 L1068.9 284.7 L1069.1 287.8 L1069.3 284.3 L1069.4 281.5 L1069.6 282.5 L1069.8 286.0 L1069.9 287.6 L1070.1 289.9 L1070.3 280.7 L1070.4 285.9 L1070.6 291.3 L1070.8 302.8 L1070.9 296.4 L1071.1 280.3 L1071.3 281.7 L1071.4 291.3 L1071.6 289.9 L1071.8 290.2 L1071.9 297.7 L1072.1 286.4 L1072.2 294.8 L1072.4 290.8 L1072.6 288.2 L1072.7 282.9 L1072.9 286.7 L1073.1 297.4 L1073.2 293.4 L1073.4 297.4 L1073.6 297.4 L1073.7 296.0 L1073.9 300.9 L1074.1 299.9 L1074.2 299.3 L1074.4 299.8 L1074.6 299.2 L1074.7 304.7 L1074.9 304.1 L1075.1 309.4 L1075.2 302.2 L1075.4 296.9 L1075.6 296.9 L1075.7 305.8 L1075.9 311.5 L1076.1 301.5 L1076.2 283.1 L1076.4 303.8 L1076.6 297.1 L1076.7 301.4 L1076.9 299.3 L1077.1 299.5 L1077.2 296.6 L1077.4 292.9 L1077.6 297.5 L1077.7 291.1 L1077.9 295.4 L1078.1 287.6 L1078.2 289.2 L1078.4 285.1 L1078.6 290.4 L1078.7 283.1 L1078.9 281.7 L1079.1 288.0 L1079.2 286.0 L1079.4 282.0 L1079.6 277.7 L1079.7 280.3 L1079.9 281.9 L1080.1 285.2 L1080.2 282.6 L1080.4 289.5 L1080.6 275.0 L1080.7 293.2 L1080.9 291.7 L1081.1 299.8 L1081.2 298.0 L1081.4 310.6 L1081.6 305.1 L1081.7 307.2 L1081.9 298.3 L1082.0 302.1 L1082.2 311.2 L1082.4 305.7 L1082.5 312.9 L1082.7 306.9 L1082.9 312.2 L1083.0 307.6 L1083.2 312.9 L1083.4 317.2 L1083.5 315.7 L1083.7 310.2 L1083.9 308.3 L1084.0 315.5 L1084.2 314.8 L1084.4 316.7 L1084.5 309.9 L1084.7 316.8 L1084.9 313.0 L1085.0 310.8 L1085.2 313.3 L1085.4 318.3 L1085.5 316.9 L1085.7 316.1 L1085.9 316.4 L1086.0 314.8 L1086.2 320.9 L1086.4 316.4 L1086.5 311.6 L1086.7 312.2 L1086.9 315.6 L1087.0 316.0 L1087.2 319.6 L1087.4 307.3 L1087.5 319.0 L1087.7 325.4 L1087.9 312.2 L1088.0 320.3 L1088.2 312.6 L1088.4 314.3 L1088.5 310.3 L1088.7 319.4 L1088.9 317.0 L1089.0 316.5 L1089.2 303.1 L1089.4 311.9 L1089.5 307.1 L1089.7 311.4 L1089.9 313.6 L1090.0 317.1 L1090.2 311.9 L1090.4 314.7 L1090.5 314.0 L1090.7 307.1 L1090.9 322.6 L1091.0 318.8 L1091.2 323.6 L1091.4 322.5 L1091.5 315.3 L1091.7 318.2 L1091.8 323.4 L1092.0 324.7 L1092.2 325.1 L1092.3 323.4 L1092.5 327.4 L1092.7 321.1 L1092.8 324.1 L1093.0 321.3 L1093.2 329.2 L1093.3 327.4 L1093.5 329.3 L1093.7 326.2 L1093.8 318.7 L1094.0 325.4 L1094.2 329.3 L1094.3 329.1 L1094.5 336.2 L1094.7 333.4 L1094.8 328.3 L1095.0 333.6 L1095.2 324.7 L1095.3 333.2 L1095.5 323.5 L1095.7 333.2 L1095.8 323.5 L1096.0 333.4 L1096.2 343.8 L1096.3 330.7 L1096.5 333.6 L1096.7 335.0 L1096.8 321.1 L1097.0 324.1 L1097.2 331.4 L1097.3 327.5 L1097.5 329.9 L1097.7 340.9 L1097.8 338.0 L1098.0 333.8 L1098.2 329.1 L1098.3 334.0 L1098.5 333.4 L1098.7 331.6 L1098.8 338.3 L1099.0 325.5 L1099.2 344.4 L1099.3 330.8 L1099.5 337.0 L1099.7 332.1 L1099.8 330.7 L1100.0 327.9 L1100.2 334.0 L1100.3 334.3 L1100.5 344.0 L1100.7 339.0 L1100.8 333.0 L1101.0 323.8 L1101.2 333.9 L1101.3 335.0 L1101.5 327.0 L1101.6 332.9 L1101.8 337.1 L1102.0 331.0 L1102.1 327.1 L1102.3 335.4 L1102.5 338.2 L1102.6 331.7 L1102.8 333.2 L1103.0 336.4 L1103.1 334.0 L1103.3 328.6 L1103.5 328.9 L1103.6 328.9 L1103.8 328.3 L1104.0 336.5 L1104.1 322.3 L1104.3 326.3 L1104.5 323.3 L1104.6 315.9 L1104.8 324.5 L1105.0 323.1 L1105.1 320.1 L1105.3 320.6 L1105.5 331.9 L1105.6 336.5 L1105.8 332.8 L1106.0 333.5 L1106.1 339.7 L1106.3 336.8 L1106.5 339.6 L1106.6 346.6 L1106.8 339.8 L1107.0 347.2 L1107.1 343.7 L1107.3 347.1 L1107.5 328.3 L1107.6 346.0 L1107.8 340.7 L1108.0 342.9 L1108.1 334.0 L1108.3 336.1 L1108.5 347.8 L1108.6 340.1 L1108.8 340.0 L1109.0 340.1 L1109.1 339.2 L1109.3 330.4 L1109.5 334.8 L1109.6 334.9 L1109.8 343.1 L1110.0 340.6 L1110.1 333.1 L1110.3 331.1 L1110.5 339.0 L1110.6 339.0 L1110.8 341.7 L1111.0 333.0 L1111.1 342.9 L1111.3 338.4 L1111.4 341.7 L1111.6 338.3 L1111.8 335.9 L1111.9 335.2 L1112.1 347.8 L1112.3 324.5 L1112.4 337.0 L1112.6 333.3 L1112.8 326.6 L1112.9 329.7 L1113.1 325.0 L1113.3 319.1 L1113.4 320.7 L1113.6 321.9 L1113.8 318.4 L1113.9 315.1 L1114.1 320.7 L1114.3 321.9 L1114.4 324.9 L1114.6 322.7 L1114.8 328.3 L1114.9 321.6 L1115.1 323.4 L1115.3 321.0 L1115.4 326.9 L1115.6 328.1 L1115.8 327.9 L1115.9 319.3 L1116.1 332.5 L1116.3 323.9 L1116.4 326.3 L1116.6 320.0 L1116.8 333.5 L1116.9 336.1 L1117.1 330.1 L1117.3 332.4 L1117.4 322.2 L1117.6 328.1 L1117.8 329.0 L1117.9 334.8 L1118.1 331.6 L1118.3 333.7 L1118.4 329.5 L1118.6 328.4 L1118.8 334.3 L1118.9 334.7 L1119.1 333.7 L1119.3 329.4 L1119.4 332.5 L1119.6 326.2 L1119.8 327.6 L1119.9 332.9 L1120.1 327.2 L1120.3 321.1 L1120.4 326.7 L1120.6 334.8 L1120.8 327.4 L1120.9 330.0 L1121.1 328.6 L1121.2 338.6 L1121.4 331.0 L1121.6 335.8 L1121.7 336.4 L1121.9 335.6 L1122.1 334.9 L1122.2 330.7 L1122.4 338.3 L1122.6 344.7 L1122.7 340.3 L1122.9 345.8 L1123.1 342.3 L1123.2 343.7 L1123.4 340.0 L1123.6 341.7 L1123.7 343.7 L1123.9 345.2 L1124.1 337.4 L1124.2 335.5 L1124.4 339.0 L1124.6 337.9 L1124.7 338.7 L1124.9 342.1 L1125.1 331.8 L1125.2 348.4 L1125.4 335.8 L1125.6 333.4 L1125.7 326.7 L1125.9 336.7 L1126.1 338.7 L1126.2 335.4 L1126.4 336.2 L1126.6 334.2 L1126.7 330.3 L1126.9 334.8 L1127.1 333.7 L1127.2 334.5 L1127.4 337.2 L1127.6 339.1 L1127.7 343.6 L1127.9 347.1 L1128.1 342.7 L1128.2 346.4 L1128.4 343.1 L1128.6 342.3 L1128.7 345.9 L1128.9 342.9 L1129.1 347.1 L1129.2 342.2 L1129.4 343.0 L1129.6 343.9 L1129.7 351.3 L1129.9 347.2 L1130.1 345.3 L1130.2 347.6 L1130.4 344.8 L1130.6 345.7 L1130.7 346.2 L1130.9 342.1 L1131.0 346.7 L1131.2 348.5 L1131.4 347.7 L1131.5 346.2 L1131.7 350.2 L1131.9 344.5 L1132.0 350.7 L1132.2 350.4 L1132.4 347.9 L1132.5 352.3 L1132.7 344.7 L1132.9 348.0 L1133.0 346.7 L1133.2 344.7 L1133.4 346.0 L1133.5 348.6 L1133.7 348.3 L1133.9 349.2 L1134.0 342.7 L1134.2 346.6 L1134.4 347.2 L1134.5 345.4 L1134.7 347.7 L1134.9 333.4 L1135.0 344.6 L1135.2 346.7 L1135.4 347.6 L1135.5 351.1 L1135.7 347.5 L1135.9 354.5 L1136.0 344.6 L1136.2 354.9 L1136.4 346.4 L1136.5 346.4 L1136.7 345.3 L1136.9 348.9 L1137.0 350.2 L1137.2 350.1 L1137.4 354.8 L1137.5 357.1 L1137.7 349.2 L1137.9 356.8 L1138.0 354.7 L1138.2 353.6 L1138.4 357.0 L1138.5 353.9 L1138.7 359.6 L1138.9 347.1 L1139.0 359.3 L1139.2 352.0 L1139.4 357.0 L1139.5 352.9 L1139.7 359.2 L1139.9 354.7 L1140.0 355.6 L1140.2 349.6 L1140.4 347.8 L1140.5 352.5 L1140.7 356.2 L1140.8 351.6 L1141.0 340.6 L1141.2 355.4 L1141.3 348.3 L1141.5 352.0 L1141.7 346.8 L1141.8 347.5 L1142.0 351.0 L1142.2 342.2 L1142.3 347.4 L1142.5 349.4 L1142.7 349.7 L1142.8 346.0 L1143.0 358.6 L1143.2 350.8 L1143.3 351.1 L1143.5 338.7 L1143.7 351.5 L1143.8 354.0 L1144.0 354.7 L1144.2 356.2 L1144.3 351.8 L1144.5 351.2 L1144.7 353.5 L1144.8 355.1 L1145.0 352.5 L1145.2 351.3 L1145.3 354.4 L1145.5 352.8 L1145.7 354.4 L1145.8 354.1 L1146.0 350.9 L1146.2 358.4 L1146.3 355.8 L1146.5 350.8 L1146.7 350.9 L1146.8 352.4 L1147.0 351.8 L1147.2 350.7 L1147.3 354.4 L1147.5 352.5 L1147.7 350.7 L1147.8 358.3 L1148.0 352.9 L1148.2 355.0 L1148.3 350.1 L1148.5 351.2 L1148.7 351.4 L1148.8 360.5 L1149.0 357.3 L1149.2 354.7 L1149.3 354.9 L1149.5 356.9 L1149.7 353.3 L1149.8 355.4 L1150.0 359.1 L1150.2 350.0 L1150.3 358.4 L1150.5 356.1 L1150.6 357.0 L1150.8 355.8 L1151.0 358.8 L1151.1 358.7 L1151.3 357.3 L1151.5 351.0 L1151.6 356.5 L1151.8 363.4 L1152.0 352.9 L1152.1 351.4 L1152.3 354.1 L1152.5 360.2 L1152.6 356.3 L1152.8 364.2 L1153.0 363.6 L1153.1 365.9 L1153.3 370.9 L1153.5 370.1 L1153.6 371.0 L1153.8 374.3 L1154.0 376.6 L1154.1 372.4 L1154.3 370.8 L1154.5 364.5 L1154.6 363.8 L1154.8 354.5 L1155.0 367.7 L1155.1 363.3 L1155.3 360.3 L1155.5 359.5 L1155.6 354.1 L1155.8 352.3 L1156.0 356.1 L1156.1 349.6 L1156.3 355.9 L1156.5 358.1 L1156.6 350.1 L1156.8 351.2 L1157.0 358.6 L1157.1 356.9 L1157.3 363.9 L1157.5 359.6 L1157.6 354.3 L1157.8 361.5 L1158.0 360.3 L1158.1 359.4 L1158.3 358.5 L1158.5 355.8 L1158.6 354.8 L1158.8 352.3 L1159.0 353.9 L1159.1 353.5 L1159.3 355.9 L1159.5 352.7 L1159.6 349.0 L1159.8 354.6 L1160.0 347.4 L1160.1 352.2 L1160.3 354.8 L1160.4 347.5 L1160.6 347.8 L1160.8 350.4 L1160.9 353.9 L1161.1 349.2 L1161.3 347.9 L1161.4 350.2 L1161.6 344.7 L1161.8 345.4 L1161.9 352.6 L1162.1 353.4 L1162.3 353.5 L1162.4 352.9 L1162.6 355.8 L1162.8 348.7 L1162.9 351.7 L1163.1 354.4 L1163.3 358.9 L1163.4 357.7 L1163.6 357.9 L1163.8 355.2 L1163.9 359.4 L1164.1 360.9 L1164.3 362.2 L1164.4 358.4 L1164.6 372.0 L1164.8 355.6 L1164.9 364.3 L1165.1 355.1 L1165.3 355.0 L1165.4 360.7 L1165.6 357.5 L1165.8 356.4 L1165.9 358.9 L1166.1 366.8 L1166.3 357.7 L1166.4 358.6 L1166.6 363.2 L1166.8 358.1 L1166.9 367.1 L1167.1 356.6 L1167.3 359.9 L1167.4 363.5 L1167.6 360.1 L1167.8 357.6 L1167.9 357.0 L1168.1 360.5 L1168.3 363.2 L1168.4 360.1 L1168.6 357.9 L1168.8 364.7 L1168.9 363.2 L1169.1 362.4 L1169.3 360.3 L1169.4 358.2 L1169.6 363.8 L1169.8 360.5 L1169.9 358.8 L1170.1 359.3 L1170.2 361.0 L1170.4 362.3 L1170.6 359.5 L1170.7 358.4 L1170.9 356.2 L1171.1 358.4 L1171.2 358.2 L1171.4 359.6 L1171.6 358.2 L1171.7 356.8 L1171.9 357.8 L1172.1 359.7 L1172.2 357.8 L1172.4 357.4 L1172.6 357.5 L1172.7 357.4 L1172.9 359.3 L1173.1 360.5 L1173.2 358.1 L1173.4 357.8 L1173.6 360.6 L1173.7 361.7 L1173.9 363.8 L1174.1 356.1 L1174.2 365.3 L1174.4 357.0 L1174.6 361.9 L1174.7 362.8 L1174.9 365.8 L1175.1 359.5 L1175.2 363.9 L1175.4 354.2 L1175.6 361.3 L1175.7 354.7 L1175.9 356.5 L1176.1 358.2 L1176.2 357.7 L1176.4 362.2 L1176.6 355.6 L1176.7 359.6 L1176.9 361.0 L1177.1 361.5 L1177.2 364.5 L1177.4 362.2 L1177.6 360.4 L1177.7 357.5 L1177.9 363.1 L1178.1 362.2 L1178.2 361.5 L1178.4 357.2 L1178.6 361.9 L1178.7 359.5 L1178.9 370.9 L1179.1 355.4 L1179.2 361.1 L1179.4 359.9 L1179.6 354.1 L1179.7 355.9 L1179.9 353.5 L1180.0 356.8 L1180.2 360.8 L1180.4 359.8 L1180.5 357.2 L1180.7 367.9 L1180.9 359.7 L1181.0 366.0 L1181.2 363.6 L1181.4 366.3 L1181.5 366.8 L1181.7 370.8 L1181.9 369.2 L1182.0 372.1 L1182.2 365.4 L1182.4 364.0 L1182.5 357.4 L1182.7 362.2 L1182.9 369.6 L1183.0 363.3 L1183.2 363.8 L1183.4 369.3 L1183.5 368.0 L1183.7 369.0 L1183.9 361.4 L1184.0 365.5 L1184.2 364.9 L1184.4 368.5 L1184.5 368.7 L1184.7 369.3 L1184.9 371.3 L1185.0 377.2 L1185.2 365.7 L1185.4 368.5 L1185.5 368.8 L1185.7 365.1 L1185.9 362.5 L1186.0 367.1 L1186.2 366.9 L1186.4 365.8 L1186.5 362.0 L1186.7 357.4 L1186.9 360.3 L1187.0 366.2 L1187.2 365.4 L1187.4 358.8 L1187.5 361.5 L1187.7 368.2 L1187.9 363.5 L1188.0 356.6 L1188.2 357.2 L1188.4 358.0 L1188.5 354.3 L1188.7 361.7 L1188.9 351.1 L1189.0 356.3 L1189.2 360.9 L1189.4 355.6 L1189.5 355.7 L1189.7 346.7 L1189.8 352.6 L1190.0 353.0 L1190.2 352.6 L1190.3 347.3 L1190.5 350.2 L1190.7 348.4 L1190.8 354.3 L1191.0 348.3 L1191.2 349.4 L1191.3 348.5 L1191.5 347.9 L1191.7 352.7 L1191.8 351.7 L1192.0 348.2 L1192.2 345.8 L1192.3 344.9 L1192.5 340.2 L1192.7 345.1 L1192.8 345.6 L1193.0 343.6 L1193.2 342.1 L1193.3 348.2 L1193.5 347.2 L1193.7 345.4 L1193.8 349.3 L1194.0 346.3 L1194.2 349.5 L1194.3 344.1 L1194.5 346.1 L1194.7 344.0 L1194.8 348.9 L1195.0 345.5 L1195.2 348.8 L1195.3 348.2 L1195.5 346.5 L1195.7 355.2 L1195.8 352.6 L1196.0 349.7 L1196.2 353.6 L1196.3 352.7 L1196.5 351.1 L1196.7 363.8 L1196.8 355.3 L1197.0 355.3 L1197.2 355.2 L1197.3 356.1 L1197.5 356.9 L1197.7 356.1 L1197.8 357.3 L1198.0 357.3 L1198.2 347.7 L1198.3 356.4 L1198.5 360.5 L1198.7 366.8 L1198.8 358.4 L1199.0 353.4 L1199.2 364.4 L1199.3 356.3 L1199.5 355.8 L1199.6 354.8 L1199.8 353.1 L1200.0 363.9 L1200.1 358.8 L1200.3 351.2 L1200.5 354.1 L1200.6 354.5 L1200.8 361.6 L1201.0 355.5 L1201.1 357.4 L1201.3 361.6 L1201.5 369.4 L1201.6 357.8 L1201.8 359.7 L1202.0 357.0 L1202.1 362.4 L1202.3 361.1 L1202.5 360.3 L1202.6 358.0 L1202.8 364.5 L1203.0 358.8 L1203.1 363.7 L1203.3 363.7 L1203.5 357.3 L1203.6 359.8 L1203.8 361.7 L1204.0 357.4 L1204.1 360.3 L1204.3 361.5 L1204.5 356.0 L1204.6 359.6 L1204.8 361.0 L1205.0 358.6 L1205.1 358.5 L1205.3 351.8 L1205.5 360.1 L1205.6 361.1 L1205.8 359.6 L1206.0 363.4 L1206.1 359.4 L1206.3 358.2 L1206.5 364.2 L1206.6 363.2 L1206.8 362.0 L1207.0 362.4 L1207.1 357.1 L1207.3 355.3 L1207.5 362.1 L1207.6 352.0 L1207.8 355.6 L1208.0 361.2 L1208.1 354.9 L1208.3 360.9 L1208.5 351.2 L1208.6 362.3 L1208.8 355.2 L1209.0 357.5 L1209.1 351.3 L1209.3 356.9 L1209.4 356.9 L1209.6 352.3 L1209.8 356.6 L1209.9 353.2 L1210.1 355.2 L1210.3 352.3 L1210.4 352.0 L1210.6 349.6 L1210.8 353.8 L1210.9 351.6 L1211.1 350.1 L1211.3 356.1 L1211.4 351.3 L1211.6 351.1 L1211.8 347.4 L1211.9 354.5 L1212.1 352.6 L1212.3 350.2 L1212.4 351.4 L1212.6 356.8 L1212.8 354.4 L1212.9 357.3 L1213.1 357.4 L1213.3 368.0 L1213.4 353.6 L1213.6 355.9 L1213.8 355.6 L1213.9 355.1 L1214.1 357.4 L1214.3 356.6 L1214.4 360.5 L1214.6 355.3 L1214.8 359.1 L1214.9 363.3 L1215.1 362.5 L1215.3 360.2 L1215.4 362.5 L1215.6 360.9 L1215.8 362.6 L1215.9 361.3 L1216.1 364.0 L1216.3 366.2 L1216.4 368.5 L1216.6 361.0 L1216.8 365.8 L1216.9 364.4 L1217.1 364.8 L1217.3 362.5 L1217.4 364.2 L1217.6 365.7 L1217.8 364.3 L1217.9 363.4 L1218.1 368.2 L1218.3 365.3 L1218.4 364.8 L1218.6 365.9 L1218.8 365.0 L1218.9 364.4 L1219.1 369.9 L1219.2 366.4 L1219.4 364.0 L1219.6 370.3 L1219.7 366.9 L1219.9 364.2 L1220.1 368.0 L1220.2 366.6 L1220.4 369.0 L1220.6 365.5 L1220.7 366.3 L1220.9 364.3 L1221.1 365.3 L1221.2 369.3 L1221.4 366.1 L1221.6 374.0 L1221.7 365.9 L1221.9 371.0 L1222.1 367.5 L1222.2 374.8 L1222.4 371.2 L1222.6 367.0 L1222.7 371.8 L1222.9 369.9 L1223.1 377.0 L1223.2 374.2 L1223.4 368.8 L1223.6 372.7 L1223.7 373.5 L1223.9 369.4 L1224.1 369.4 L1224.2 369.7 L1224.4 367.8 L1224.6 371.2 L1224.7 369.0 L1224.9 370.1 L1225.1 369.6 L1225.2 368.9 L1225.4 376.1 L1225.6 371.8 L1225.7 372.9 L1225.9 378.5 L1226.1 371.5 L1226.2 369.9 L1226.4 367.0 L1226.6 367.8 L1226.7 373.5 L1226.9 363.7 L1227.1 366.4 L1227.2 371.7 L1227.4 371.6 L1227.6 376.5 L1227.7 368.4 L1227.9 374.8 L1228.1 365.7 L1228.2 379.2 L1228.4 372.7 L1228.6 366.5 L1228.7 375.3 L1228.9 372.4 L1229.0 373.4 L1229.2 372.0 L1229.4 375.0 L1229.5 373.5 L1229.7 369.0 L1229.9 369.2 L1230.0 369.2 L1230.2 373.5 L1230.4 373.1 L1230.5 372.4 L1230.7 371.4 L1230.9 370.7 L1231.0 373.5 L1231.2 375.2 L1231.4 375.1 L1231.5 377.9 L1231.7 383.9 L1231.9 373.1 L1232.0 381.2 L1232.2 378.7 L1232.4 376.1 L1232.5 376.6 L1232.7 377.5 L1232.9 375.1 L1233.0 374.8 L1233.2 376.6 L1233.4 375.6 L1233.5 369.0 L1233.7 378.2 L1233.9 365.5 L1234.0 378.7 L1234.2 375.7 L1234.4 374.7 L1234.5 378.3 L1234.7 373.8 L1234.9 370.4 L1235.0 376.8 L1235.2 376.6 L1235.4 374.0 L1235.5 373.8 L1235.7 373.4 L1235.9 376.0 L1236.0 377.1 L1236.2 376.3 L1236.4 373.4 L1236.5 371.0 L1236.7 374.9 L1236.9 379.5 L1237.0 376.4 L1237.2 365.7 L1237.4 375.8 L1237.5 372.2 L1237.7 373.5 L1237.9 374.0 L1238.0 373.7 L1238.2 373.0 L1238.4 380.9 L1238.5 376.7 L1238.7 379.3 L1238.8 380.7 L1239.0 382.7 L1239.2 381.9 L1239.3 381.8 L1239.5 380.3 L1239.7 381.0 L1239.8 381.8 L1240.0 382.4 L1240.2 378.9 L1240.3 375.0 L1240.5 377.2 L1240.7 377.2 L1240.8 372.5 L1241.0 371.9 L1241.2 366.7 L1241.3 375.6 L1241.5 371.0 L1241.7 373.8 L1241.8 365.4 L1242.0 363.9 L1242.2 371.8 L1242.3 369.5 L1242.5 372.8 L1242.7 370.9 L1242.8 375.7 L1243.0 372.4 L1243.2 374.5 L1243.3 377.1 L1243.5 375.4 L1243.7 375.8 L1243.8 380.9 L1244.0 377.9 L1244.2 379.5 L1244.3 381.0 L1244.5 380.5 L1244.7 383.6 L1244.8 385.5 L1245.0 383.3 L1245.2 376.7 L1245.3 374.3 L1245.5 377.5 L1245.7 373.7 L1245.8 372.6 L1246.0 377.0 L1246.2 377.1 L1246.3 379.8 L1246.5 380.3 L1246.7 391.6 L1246.8 376.8 L1247.0 377.0 L1247.2 378.9 L1247.3 381.2 L1247.5 377.9 L1247.7 376.3 L1247.8 371.7 L1248.0 381.2 L1248.2 378.0 L1248.3 383.7 L1248.5 384.6 L1248.6 385.0 L1248.8 381.5 L1249.0 382.8 L1249.1 377.3 L1249.3 382.3 L1249.5 380.8 L1249.6 384.7 L1249.8 380.7 L1250.0 381.0 L1250.1 378.9 L1250.3 385.1 L1250.5 380.0 L1250.6 376.3 L1250.8 377.3 L1251.0 374.1 L1251.1 379.9 L1251.3 379.2 L1251.5 375.6 L1251.6 375.1 L1251.8 369.8 L1252.0 376.9 L1252.1 371.5 L1252.3 376.1 L1252.5 368.5 L1252.6 371.1 L1252.8 375.3 L1253.0 372.5 L1253.1 370.4 L1253.3 373.7 L1253.5 372.2 L1253.6 371.8 L1253.8 369.4 L1254.0 375.9 L1254.1 373.0 L1254.3 374.6 L1254.5 373.4 L1254.6 375.0 L1254.8 373.2 L1255.0 381.4 L1255.1 379.7 L1255.3 377.0 L1255.5 375.7 L1255.6 376.7 L1255.8 372.3 L1256.0 375.8 L1256.1 373.8 L1256.3 372.8 L1256.5 372.0 L1256.6 371.7 L1256.8 376.2 L1257.0 373.2 L1257.1 370.7 L1257.3 373.6 L1257.5 372.6 L1257.6 371.6 L1257.8 375.3 L1258.0 370.5 L1258.1 367.7 L1258.3 371.4 L1258.4 368.3 L1258.6 372.8 L1258.8 372.3 L1258.9 368.9 L1259.1 371.9 L1259.3 369.5 L1259.4 369.2 L1259.6 365.9 L1259.8 358.5 L1259.9 369.2 L1260.1 375.0 L1260.3 363.6 L1260.4 369.9 L1260.6 368.3 L1260.8 370.5 L1260.9 366.5 L1261.1 368.0 L1261.3 370.0 L1261.4 365.9 L1261.6 365.9 L1261.8 365.9 L1261.9 369.2 L1262.1 367.0 L1262.3 366.8 L1262.4 365.4 L1262.6 361.4 L1262.8 361.0 L1262.9 364.3 L1263.1 362.6 L1263.3 363.9 L1263.4 358.4 L1263.6 358.9 L1263.8 358.9 L1263.9 361.2 L1264.1 358.7 L1264.3 357.7 L1264.4 360.7 L1264.6 358.4 L1264.8 356.6 L1264.9 360.0 L1265.1 358.4 L1265.3 360.1 L1265.4 359.9 L1265.6 356.8 L1265.8 357.2 L1265.9 357.7 L1266.1 359.9 L1266.3 358.4 L1266.4 361.2 L1266.6 357.5 L1266.8 359.2 L1266.9 362.8 L1267.1 356.5 L1267.3 356.8 L1267.4 361.8 L1267.6 362.3 L1267.8 363.1 L1267.9 363.0 L1268.1 366.8 L1268.2 360.2 L1268.4 362.0 L1268.6 363.8 L1268.7 359.2 L1268.9 358.7 L1269.1 359.9 L1269.2 363.7 L1269.4 365.1 L1269.6 357.3 L1269.7 356.9 L1269.9 358.3 L1270.1 359.5 L1270.2 360.0 L1270.4 358.4 L1270.6 355.7 L1270.7 360.5 L1270.9 360.1 L1271.1 351.4 L1271.2 356.2 L1271.4 359.0 L1271.6 356.8 L1271.7 356.8 L1271.9 354.2 L1272.1 358.6 L1272.2 351.7 L1272.4 356.3 L1272.6 358.2 L1272.7 351.5 L1272.9 356.3 L1273.1 354.8 L1273.2 349.0 L1273.4 352.6 L1273.6 355.4 L1273.7 348.7 L1273.9 349.6 L1274.1 334.5 L1274.2 345.9 L1274.4 348.7 L1274.6 349.0 L1274.7 350.7 L1274.9 351.0 L1275.1 353.3 L1275.2 352.0 L1275.4 355.4 L1275.6 349.8 L1275.7 351.4 L1275.9 346.1 L1276.1 349.3 L1276.2 350.5 L1276.4 350.8 L1276.6 347.0 L1276.7 347.9 L1276.9 341.5 L1277.1 349.6 L1277.2 346.6 L1277.4 351.7 L1277.6 350.0 L1277.7 351.5 L1277.9 351.3 L1278.0 350.9 L1278.2 354.4 L1278.4 350.2 L1278.5 346.5 L1278.7 353.9 L1278.9 349.0 L1279.0 353.3 L1279.2 352.5 L1279.4 352.3 L1279.5 351.6 L1279.7 351.3 L1279.9 351.4 L1280.0 350.1 L1280.2 349.5 L1280.4 350.1 L1280.5 350.4 L1280.7 347.4 L1280.9 348.7 L1281.0 344.4 L1281.2 345.0 L1281.4 342.5 L1281.5 346.1 L1281.7 347.4 L1281.9 347.6 L1282.0 342.3 L1282.2 349.6 L1282.4 342.0 L1282.5 343.0 L1282.7 342.4 L1282.9 347.0 L1283.0 343.2 L1283.2 347.7 L1283.4 344.5 L1283.5 340.8 L1283.7 342.1 L1283.9 344.1 L1284.0 339.0 L1284.2 340.5 L1284.4 342.4 L1284.5 342.1 L1284.7 342.8 L1284.9 348.0 L1285.0 344.5 L1285.2 343.8 L1285.4 344.0 L1285.5 341.9 L1285.7 347.8 L1285.9 344.8 L1286.0 355.6 L1286.2 348.6 L1286.4 346.2 L1286.5 345.0 L1286.7 346.6 L1286.9 348.6 L1287.0 345.8 L1287.2 350.4 L1287.4 350.5 L1287.5 348.1 L1287.7 347.6 L1287.8 346.1 L1288.0 344.1 L1288.2 342.2 L1288.3 341.4 L1288.5 344.2 L1288.7 346.8 L1288.8 345.1 L1289.0 342.3 L1289.2 347.0 L1289.3 342.4 L1289.5 341.6 L1289.7 339.1 L1289.8 342.6 L1290.0 343.8 L1290.2 340.8 L1290.3 339.4 L1290.5 344.1 L1290.7 343.3 L1290.8 343.7 L1291.0 344.3 L1291.2 342.2 L1291.3 346.1 L1291.5 340.9 L1291.7 340.8 L1291.8 343.8 L1292.0 341.3 L1292.2 340.0 L1292.3 340.6 L1292.5 337.9 L1292.7 342.4 L1292.8 340.3 L1293.0 342.1 L1293.2 344.5 L1293.3 343.2 L1293.5 342.1 L1293.7 342.5 L1293.8 342.1 L1294.0 346.2 L1294.2 337.6 L1294.3 341.1 L1294.5 340.2 L1294.7 343.5 L1294.8 342.1 L1295.0 342.9 L1295.2 347.1 L1295.3 343.0 L1295.5 347.0 L1295.7 340.3 L1295.8 340.6 L1296.0 339.6 L1296.2 345.7 L1296.3 339.7 L1296.5 341.5 L1296.7 348.2 L1296.8 344.7 L1297.0 342.7 L1297.2 342.1 L1297.3 339.9 L1297.5 344.0 L1297.6 348.9 L1297.8 341.6 L1298.0 342.9 L1298.1 353.1 L1298.3 343.6 L1298.5 346.7 L1298.6 350.6 L1298.8 343.5 L1299.0 345.7 L1299.1 344.9 L1299.3 344.0 L1299.5 355.2 L1299.6 356.0 L1299.8 355.8 L1300.0 362.2 L1300.1 359.2 L1300.3 361.3 L1300.5 365.7 L1300.6 366.5 L1300.8 366.0 L1301.0 371.6 L1301.1 364.9 L1301.3 367.2 L1301.5 371.2 L1301.6 371.8 L1301.8 375.1 L1302.0 372.4 L1302.1 369.1 L1302.3 371.0" stroke="#0000ff" stroke-width="2.0"/>
<line x1="139.35" x2="1302.0" y1="132.05" y2="132.05" stroke="#bfbf00" stroke-width="5.6" stroke-dasharray="8.4 8.267"/>
<line x1="139.35" x2="1302.0" y1="505.75" y2="505.75" stroke="#bfbf00" stroke-width="5.6" stroke-dasharray="8.4 8.267"/>
</g>
<g stroke="#000" stroke-width="0.7" stroke-dasharray="1.39 4.1656" fill="none">
<line x1="245.5" x2="245.5" y1="630.6" y2="70.6"/>
<line x1="351.5" x2="351.5" y1="630.6" y2="70.6"/>
<line x1="456.5" x2="456.5" y1="630.6" y2="70.6"/>
<line x1="562.5" x2="562.5" y1="630.6" y2="70.6"/>
<line x1="668.5" x2="668.5" y1="630.6" y2="70.6"/>
<line x1="773.5" x2="773.5" y1="630.6" y2="70.6"/>
<line x1="879.5" x2="879.5" y1="630.6" y2="70.6"/>
<line x1="985.5" x2="985.5" y1="630.6" y2="70.6"/>
<line x1="1091.5" x2="1091.5" y1="630.6" y2="70.6"/>
<line x1="1196.5" x2="1196.5" y1="630.6" y2="70.6"/>
<line x1="139.40" x2="1302.5" y1="568.5" y2="568.5"/>
<line x1="139.40" x2="1302.5" y1="506.5" y2="506.5"/>
<line x1="139.40" x2="1302.5" y1="443.5" y2="443.5"/>
<line x1="139.40" x2="1302.5" y1="381.5" y2="381.5"/>
<line x1="139.40" x2="1302.5" y1="319.5" y2="319.5"/>
<line x1="139.40" x2="1302.5" y1="257.5" y2="257.5"/>
<line x1="139.40" x2="1302.5" y1="195.5" y2="195.5"/>
<line x1="139.40" x2="1302.5" y1="132.5" y2="132.5"/>
</g>
<g stroke="#000" stroke-width="0.8" fill="none">
<line x1="139.5" x2="139.5" y1="630.6" y2="624.6"/><line x1="139.5" x2="139.5" y1="70.6" y2="76.6"/>
<line x1="245.5" x2="245.5" y1="630.6" y2="624.6"/><line x1="245.5" x2="245.5" y1="70.6" y2="76.6"/>
<line x1="351.5" x2="351.5" y1="630.6" y2="624.6"/><line x1="351.5" x2="351.5" y1="70.6" y2="76.6"/>
<line x1="456.5" x2="456.5" y1="630.6" y2="624.6"/><line x1="456.5" x2="456.5" y1="70.6" y2="76.6"/>
<line x1="562.5" x2="562.5" y1="630.6" y2="624.6"/><line x1="562.5" x2="562.5" y1="70.6" y2="76.6"/>
<line x1="668.5" x2="668.5" y1="630.6" y2="624.6"/><line x1="668.5" x2="668.5" y1="70.6" y2="76.6"/>
<line x1="773.5" x2="773.5" y1="630.6" y2="624.6"/><line x1="773.5" x2="773.5" y1="70.6" y2="76.6"/>
<line x1="879.5" x2="879.5" y1="630.6" y2="624.6"/><line x1="879.5" x2="879.5" y1="70.6" y2="76.6"/>
<line x1="985.5" x2="985.5" y1="630.6" y2="624.6"/><line x1="985.5" x2="985.5" y1="70.6" y2="76.6"/>
<line x1="1091.5" x2="1091.5" y1="630.6" y2="624.6"/><line x1="1091.5" x2="1091.5" y1="70.6" y2="76.6"/>
<line x1="1196.5" x2="1196.5" y1="630.6" y2="624.6"/><line x1="1196.5" x2="1196.5" y1="70.6" y2="76.6"/>
<line x1="139.8" x2="145.8" y1="630.5" y2="630.5"/><line x1="1302.5" x2="1296.5" y1="630.5" y2="630.5"/>
<line x1="139.8" x2="145.8" y1="568.5" y2="568.5"/><line x1="1302.5" x2="1296.5" y1="568.5" y2="568.5"/>
<line x1="139.8" x2="145.8" y1="506.5" y2="506.5"/><line x1="1302.5" x2="1296.5" y1="506.5" y2="506.5"/>
<line x1="139.8" x2="145.8" y1="443.5" y2="443.5"/><line x1="1302.5" x2="1296.5" y1="443.5" y2="443.5"/>
<line x1="139.8" x2="145.8" y1="381.5" y2="381.5"/><line x1="1302.5" x2="1296.5" y1="381.5" y2="381.5"/>
<line x1="139.8" x2="145.8" y1="319.5" y2="319.5"/><line x1="1302.5" x2="1296.5" y1="319.5" y2="319.5"/>
<line x1="139.8" x2="145.8" y1="257.5" y2="257.5"/><line x1="1302.5" x2="1296.5" y1="257.5" y2="257.5"/>
<line x1="139.8" x2="145.8" y1="195.5" y2="195.5"/><line x1="1302.5" x2="1296.5" y1="195.5" y2="195.5"/>
<line x1="139.8" x2="145.8" y1="132.5" y2="132.5"/><line x1="1302.5" x2="1296.5" y1="132.5" y2="132.5"/>
<line x1="139.8" x2="145.8" y1="70.5" y2="70.5"/><line x1="1302.5" x2="1296.5" y1="70.5" y2="70.5"/>
</g>
<rect x="139.5" y="70.5" width="1163" height="560" fill="none" stroke="#000" stroke-width="1.15"/>
<text y="36.30" font-size="34.30" stroke="#000" stroke-width="0.70" style="white-space:pre"><tspan x="110.03" y="35.95" font-size="34.30" textLength="22.75" lengthAdjust="spacingAndGlyphs">P</tspan><tspan x="134.00" y="35.95" font-size="34.30" textLength="25.98" lengthAdjust="spacingAndGlyphs">G</tspan> <tspan x="172.61" y="35.95" font-size="34.30" textLength="15.14" lengthAdjust="spacingAndGlyphs">t</tspan><tspan x="188.86" y="35.95" font-size="34.30" textLength="10.38" lengthAdjust="spacingAndGlyphs">i</tspan><tspan x="200.40" y="35.95" font-size="34.30" textLength="33.44" lengthAdjust="spacingAndGlyphs">m</tspan><tspan x="234.79" y="35.95" font-size="34.30" textLength="21.72" lengthAdjust="spacingAndGlyphs">e</tspan> <tspan x="269.71" y="35.95" font-size="34.30" textLength="18.35" lengthAdjust="spacingAndGlyphs">s</tspan><tspan x="288.91" y="35.95" font-size="34.30" textLength="21.72" lengthAdjust="spacingAndGlyphs">e</tspan><tspan x="311.69" y="35.95" font-size="34.30" textLength="16.22" lengthAdjust="spacingAndGlyphs">r</tspan><tspan x="328.29" y="35.95" font-size="34.30" textLength="10.38" lengthAdjust="spacingAndGlyphs">i</tspan><tspan x="339.44" y="35.95" font-size="34.30" textLength="21.72" lengthAdjust="spacingAndGlyphs">e</tspan><tspan x="362.74" y="35.95" font-size="34.30" textLength="18.35" lengthAdjust="spacingAndGlyphs">s</tspan> <tspan x="393.56" y="35.95" font-size="34.30" textLength="14.10" lengthAdjust="spacingAndGlyphs">f</tspan><tspan x="408.23" y="35.95" font-size="34.30" textLength="16.22" lengthAdjust="spacingAndGlyphs">r</tspan><tspan x="424.65" y="35.95" font-size="34.30" textLength="22.17" lengthAdjust="spacingAndGlyphs">o</tspan><tspan x="447.85" y="35.95" font-size="34.30" textLength="33.44" lengthAdjust="spacingAndGlyphs">m</tspan> <tspan x="495.37" y="35.95" font-size="34.30" textLength="19.59" lengthAdjust="spacingAndGlyphs">2</tspan><tspan x="517.16" y="35.95" font-size="34.30" textLength="22.57" lengthAdjust="spacingAndGlyphs">0</tspan><tspan x="541.81" y="35.95" font-size="34.30" textLength="19.59" lengthAdjust="spacingAndGlyphs">2</tspan><tspan x="564.27" y="35.95" font-size="34.30" textLength="21.44" lengthAdjust="spacingAndGlyphs">6</tspan><tspan x="587.76" y="35.95" font-size="34.30" textLength="10.16" lengthAdjust="spacingAndGlyphs">.</tspan><tspan x="599.50" y="35.95" font-size="34.30" textLength="22.57" lengthAdjust="spacingAndGlyphs">0</tspan><tspan x="624.15" y="35.95" font-size="34.30" textLength="19.70" lengthAdjust="spacingAndGlyphs">3</tspan><tspan x="646.88" y="35.95" font-size="34.30" textLength="10.16" lengthAdjust="spacingAndGlyphs">.</tspan><tspan x="660.17" y="35.95" font-size="34.30" textLength="19.65" lengthAdjust="spacingAndGlyphs">1</tspan><tspan x="683.34" y="35.95" font-size="34.30" textLength="19.67" lengthAdjust="spacingAndGlyphs">5</tspan><tspan x="706.00" y="35.95" font-size="34.30" textLength="10.16" lengthAdjust="spacingAndGlyphs">.</tspan> <tspan x="730.91" y="35.95" font-size="34.30" textLength="19.65" lengthAdjust="spacingAndGlyphs">1</tspan><tspan x="754.01" y="35.95" font-size="34.30" textLength="19.59" lengthAdjust="spacingAndGlyphs">2</tspan><tspan x="776.00" y="35.95" font-size="34.30" textLength="12.26" lengthAdjust="spacingAndGlyphs">:</tspan><tspan x="789.15" y="35.95" font-size="34.30" textLength="22.57" lengthAdjust="spacingAndGlyphs">0</tspan><tspan x="812.37" y="35.95" font-size="34.30" textLength="22.57" lengthAdjust="spacingAndGlyphs">0</tspan><tspan x="835.79" y="35.95" font-size="34.30" textLength="12.26" lengthAdjust="spacingAndGlyphs">:</tspan><tspan x="848.94" y="35.95" font-size="34.30" textLength="22.57" lengthAdjust="spacingAndGlyphs">0</tspan><tspan x="872.16" y="35.95" font-size="34.30" textLength="22.57" lengthAdjust="spacingAndGlyphs">0</tspan> <tspan x="907.35" y="35.95" font-size="34.30" textLength="12.49" lengthAdjust="spacingAndGlyphs">-</tspan> <tspan x="933.89" y="35.95" font-size="34.30" textLength="19.59" lengthAdjust="spacingAndGlyphs">2</tspan><tspan x="955.69" y="35.95" font-size="34.30" textLength="22.57" lengthAdjust="spacingAndGlyphs">0</tspan><tspan x="980.34" y="35.95" font-size="34.30" textLength="19.59" lengthAdjust="spacingAndGlyphs">2</tspan><tspan x="1002.80" y="35.95" font-size="34.30" textLength="21.44" lengthAdjust="spacingAndGlyphs">6</tspan><tspan x="1026.28" y="35.95" font-size="34.30" textLength="10.16" lengthAdjust="spacingAndGlyphs">.</tspan><tspan x="1038.03" y="35.95" font-size="34.30" textLength="22.57" lengthAdjust="spacingAndGlyphs">0</tspan><tspan x="1062.68" y="35.95" font-size="34.30" textLength="19.70" lengthAdjust="spacingAndGlyphs">3</tspan><tspan x="1085.40" y="35.95" font-size="34.30" textLength="10.16" lengthAdjust="spacingAndGlyphs">.</tspan><tspan x="1098.69" y="35.95" font-size="34.30" textLength="19.65" lengthAdjust="spacingAndGlyphs">1</tspan><tspan x="1121.86" y="35.95" font-size="34.30" textLength="19.67" lengthAdjust="spacingAndGlyphs">5</tspan><tspan x="1144.52" y="35.95" font-size="34.30" textLength="10.16" lengthAdjust="spacingAndGlyphs">.</tspan> <tspan x="1169.31" y="35.95" font-size="34.30" textLength="19.59" lengthAdjust="spacingAndGlyphs">2</tspan><tspan x="1192.53" y="35.95" font-size="34.30" textLength="19.59" lengthAdjust="spacingAndGlyphs">2</tspan><tspan x="1214.53" y="35.95" font-size="34.30" textLength="12.26" lengthAdjust="spacingAndGlyphs">:</tspan><tspan x="1229.17" y="35.95" font-size="34.30" textLength="19.67" lengthAdjust="spacingAndGlyphs">5</tspan><tspan x="1251.30" y="35.95" font-size="34.30" textLength="21.40" lengthAdjust="spacingAndGlyphs">9</tspan><tspan x="1274.31" y="35.95" font-size="34.30" textLength="12.26" lengthAdjust="spacingAndGlyphs">:</tspan><tspan x="1288.96" y="35.95" font-size="34.30" textLength="19.67" lengthAdjust="spacingAndGlyphs">5</tspan><tspan x="1312.18" y="35.95" font-size="34.30" textLength="19.67" lengthAdjust="spacingAndGlyphs">5</tspan></text>
<text y="697.30" font-size="34.30" stroke="#000" stroke-width="0.70" style="white-space:pre"><tspan x="621.55" y="696.95" font-size="34.30" textLength="25.89" lengthAdjust="spacingAndGlyphs">H</tspan><tspan x="648.83" y="696.95" font-size="34.30" textLength="22.17" lengthAdjust="spacingAndGlyphs">o</tspan><tspan x="672.09" y="696.95" font-size="34.30" textLength="22.30" lengthAdjust="spacingAndGlyphs">u</tspan><tspan x="695.56" y="696.95" font-size="34.30" textLength="16.22" lengthAdjust="spacingAndGlyphs">r</tspan><tspan x="712.53" y="696.95" font-size="34.30" textLength="18.35" lengthAdjust="spacingAndGlyphs">s</tspan> <tspan x="744.72" y="694.89" font-size="31.10" textLength="10.62" lengthAdjust="spacingAndGlyphs">(</tspan><tspan x="759.73" y="696.95" font-size="34.30" textLength="24.33" lengthAdjust="spacingAndGlyphs">U</tspan><tspan x="785.55" y="696.95" font-size="34.30" textLength="22.51" lengthAdjust="spacingAndGlyphs">T</tspan><tspan x="811.20" y="694.89" font-size="31.10" textLength="10.62" lengthAdjust="spacingAndGlyphs">)</tspan></text>
<text y="639.20" font-size="29.72" stroke="#000" stroke-width="0.70" style="white-space:pre"><tspan x="55.76" y="640.38" font-size="29.72" textLength="19.43" lengthAdjust="spacingAndGlyphs">−</tspan><tspan x="78.79" y="638.85" font-size="29.72" textLength="16.23" lengthAdjust="spacingAndGlyphs">1</tspan><tspan x="96.85" y="638.85" font-size="29.72" textLength="18.67" lengthAdjust="spacingAndGlyphs">0</tspan><tspan x="116.20" y="638.85" font-size="29.72" textLength="18.67" lengthAdjust="spacingAndGlyphs">0</tspan></text>
<text y="576.98" font-size="29.72" stroke="#000" stroke-width="0.70" style="white-space:pre"><tspan x="75.11" y="578.15" font-size="29.72" textLength="19.43" lengthAdjust="spacingAndGlyphs">−</tspan><tspan x="98.09" y="576.63" font-size="29.72" textLength="16.26" lengthAdjust="spacingAndGlyphs">5</tspan><tspan x="116.20" y="576.63" font-size="29.72" textLength="18.67" lengthAdjust="spacingAndGlyphs">0</tspan></text>
<text y="514.76" font-size="29.72" stroke="#000" stroke-width="0.70" style="white-space:pre"><tspan x="116.20" y="514.41" font-size="29.72" textLength="18.67" lengthAdjust="spacingAndGlyphs">0</tspan></text>
<text y="452.53" font-size="29.72" stroke="#000" stroke-width="0.70" style="white-space:pre"><tspan x="98.09" y="452.18" font-size="29.72" textLength="16.26" lengthAdjust="spacingAndGlyphs">5</tspan><tspan x="116.20" y="452.18" font-size="29.72" textLength="18.67" lengthAdjust="spacingAndGlyphs">0</tspan></text>
<text y="390.31" font-size="29.72" stroke="#000" stroke-width="0.70" style="white-space:pre"><tspan x="78.79" y="389.96" font-size="29.72" textLength="16.23" lengthAdjust="spacingAndGlyphs">1</tspan><tspan x="96.85" y="389.96" font-size="29.72" textLength="18.67" lengthAdjust="spacingAndGlyphs">0</tspan><tspan x="116.20" y="389.96" font-size="29.72" textLength="18.67" lengthAdjust="spacingAndGlyphs">0</tspan></text>
<text y="328.09" font-size="29.72" stroke="#000" stroke-width="0.70" style="white-space:pre"><tspan x="78.79" y="327.74" font-size="29.72" textLength="16.23" lengthAdjust="spacingAndGlyphs">1</tspan><tspan x="98.09" y="327.74" font-size="29.72" textLength="16.26" lengthAdjust="spacingAndGlyphs">5</tspan><tspan x="116.20" y="327.74" font-size="29.72" textLength="18.67" lengthAdjust="spacingAndGlyphs">0</tspan></text>
<text y="265.87" font-size="29.72" stroke="#000" stroke-width="0.70" style="white-space:pre"><tspan x="78.68" y="265.52" font-size="29.72" textLength="16.19" lengthAdjust="spacingAndGlyphs">2</tspan><tspan x="96.85" y="265.52" font-size="29.72" textLength="18.67" lengthAdjust="spacingAndGlyphs">0</tspan><tspan x="116.20" y="265.52" font-size="29.72" textLength="18.67" lengthAdjust="spacingAndGlyphs">0</tspan></text>
<text y="203.64" font-size="29.72" stroke="#000" stroke-width="0.70" style="white-space:pre"><tspan x="78.68" y="203.29" font-size="29.72" textLength="16.19" lengthAdjust="spacingAndGlyphs">2</tspan><tspan x="98.09" y="203.29" font-size="29.72" textLength="16.26" lengthAdjust="spacingAndGlyphs">5</tspan><tspan x="116.20" y="203.29" font-size="29.72" textLength="18.67" lengthAdjust="spacingAndGlyphs">0</tspan></text>
<text y="141.42" font-size="29.72" stroke="#000" stroke-width="0.70" style="white-space:pre"><tspan x="78.68" y="141.07" font-size="29.72" textLength="16.29" lengthAdjust="spacingAndGlyphs">3</tspan><tspan x="96.85" y="141.07" font-size="29.72" textLength="18.67" lengthAdjust="spacingAndGlyphs">0</tspan><tspan x="116.20" y="141.07" font-size="29.72" textLength="18.67" lengthAdjust="spacingAndGlyphs">0</tspan></text>
<text y="79.20" font-size="29.72" stroke="#000" stroke-width="0.70" style="white-space:pre"><tspan x="78.68" y="78.85" font-size="29.72" textLength="16.29" lengthAdjust="spacingAndGlyphs">3</tspan><tspan x="98.09" y="78.85" font-size="29.72" textLength="16.26" lengthAdjust="spacingAndGlyphs">5</tspan><tspan x="116.20" y="78.85" font-size="29.72" textLength="18.67" lengthAdjust="spacingAndGlyphs">0</tspan></text>
<text y="658.00" font-size="29.43" stroke="#000" stroke-width="0.70" style="white-space:pre"><tspan x="120.64" y="657.65" font-size="29.43" textLength="16.23" lengthAdjust="spacingAndGlyphs">1</tspan><tspan x="139.89" y="657.65" font-size="29.43" textLength="16.19" lengthAdjust="spacingAndGlyphs">2</tspan></text>
<text y="658.00" font-size="29.43" stroke="#000" stroke-width="0.70" style="white-space:pre"><tspan x="226.34" y="657.65" font-size="29.43" textLength="16.23" lengthAdjust="spacingAndGlyphs">1</tspan><tspan x="245.59" y="657.65" font-size="29.43" textLength="16.29" lengthAdjust="spacingAndGlyphs">3</tspan></text>
<text y="658.00" font-size="29.43" stroke="#000" stroke-width="0.70" style="white-space:pre"><tspan x="332.04" y="657.65" font-size="29.43" textLength="16.23" lengthAdjust="spacingAndGlyphs">1</tspan><tspan x="350.89" y="657.65" font-size="29.43" textLength="16.72" lengthAdjust="spacingAndGlyphs">4</tspan></text>
<text y="658.00" font-size="29.43" stroke="#000" stroke-width="0.70" style="white-space:pre"><tspan x="437.74" y="657.65" font-size="29.43" textLength="16.23" lengthAdjust="spacingAndGlyphs">1</tspan><tspan x="457.04" y="657.65" font-size="29.43" textLength="16.26" lengthAdjust="spacingAndGlyphs">5</tspan></text>
<text y="658.00" font-size="29.43" stroke="#000" stroke-width="0.70" style="white-space:pre"><tspan x="543.44" y="657.65" font-size="29.43" textLength="16.23" lengthAdjust="spacingAndGlyphs">1</tspan><tspan x="562.05" y="657.65" font-size="29.43" textLength="17.73" lengthAdjust="spacingAndGlyphs">6</tspan></text>
<text y="658.00" font-size="29.43" stroke="#000" stroke-width="0.70" style="white-space:pre"><tspan x="649.14" y="657.65" font-size="29.43" textLength="16.23" lengthAdjust="spacingAndGlyphs">1</tspan><tspan x="667.73" y="657.65" font-size="29.43" textLength="17.26" lengthAdjust="spacingAndGlyphs">7</tspan></text>
<text y="658.00" font-size="29.43" stroke="#000" stroke-width="0.70" style="white-space:pre"><tspan x="754.84" y="657.65" font-size="29.43" textLength="16.23" lengthAdjust="spacingAndGlyphs">1</tspan><tspan x="773.62" y="657.65" font-size="29.43" textLength="17.14" lengthAdjust="spacingAndGlyphs">8</tspan></text>
<text y="658.00" font-size="29.43" stroke="#000" stroke-width="0.70" style="white-space:pre"><tspan x="860.54" y="657.65" font-size="29.43" textLength="16.23" lengthAdjust="spacingAndGlyphs">1</tspan><tspan x="878.93" y="657.65" font-size="29.43" textLength="17.70" lengthAdjust="spacingAndGlyphs">9</tspan></text>
<text y="658.00" font-size="29.43" stroke="#000" stroke-width="0.70" style="white-space:pre"><tspan x="966.14" y="657.65" font-size="29.43" textLength="16.19" lengthAdjust="spacingAndGlyphs">2</tspan><tspan x="984.30" y="657.65" font-size="29.43" textLength="18.67" lengthAdjust="spacingAndGlyphs">0</tspan></text>
<text y="658.00" font-size="29.43" stroke="#000" stroke-width="0.70" style="white-space:pre"><tspan x="1071.84" y="657.65" font-size="29.43" textLength="16.19" lengthAdjust="spacingAndGlyphs">2</tspan><tspan x="1091.29" y="657.65" font-size="29.43" textLength="16.23" lengthAdjust="spacingAndGlyphs">1</tspan></text>
<text y="658.00" font-size="29.43" stroke="#000" stroke-width="0.70" style="white-space:pre"><tspan x="1177.54" y="657.65" font-size="29.43" textLength="16.19" lengthAdjust="spacingAndGlyphs">2</tspan><tspan x="1196.89" y="657.65" font-size="29.43" textLength="16.19" lengthAdjust="spacingAndGlyphs">2</tspan></text>
<g transform="translate(40.9,439.1) rotate(-90)">
<text y="0.00" font-size="34.30" stroke="#000" stroke-width="0.70" style="white-space:pre"><tspan x="1.13" y="-0.35" font-size="34.30" textLength="22.75" lengthAdjust="spacingAndGlyphs">P</tspan><tspan x="25.10" y="-0.35" font-size="34.30" textLength="25.98" lengthAdjust="spacingAndGlyphs">G</tspan></text>
<text y="0.00" font-size="34.30" stroke="#000" stroke-width="0.70" style="white-space:pre"><tspan x="64.02" y="-2.41" font-size="31.10" textLength="10.62" lengthAdjust="spacingAndGlyphs">(</tspan></text>
<text class="m" x="76.05" y="-0.12" font-size="34.48" textLength="20.43" lengthAdjust="spacingAndGlyphs">V</text><text class="m" x="99.53" y="0.20" font-size="30.77" textLength="27.36" lengthAdjust="spacingAndGlyphs">m</text><text class="r" x="126.82" y="-10.71" font-size="26.00" textLength="16.73" lengthAdjust="spacingAndGlyphs">−</text><text class="r" x="144.35" y="-13.70" font-size="25.90" textLength="11.08" lengthAdjust="spacingAndGlyphs">1</text>
<text y="0.00" font-size="34.30" stroke="#000" stroke-width="0.70" style="white-space:pre"><tspan x="164.39" y="-2.41" font-size="31.10" textLength="10.62" lengthAdjust="spacingAndGlyphs">)</tspan></text>
</g>
<rect x="278.5" y="744.5" width="885" height="90" fill="#fff" stroke="#000" stroke-width="1.1"/>
<line x1="293.9" x2="338.2" y1="767.5" y2="767.5" stroke="#ff0000" stroke-width="6.9"/>
<line x1="293.9" x2="338.2" y1="806.6" y2="806.6" stroke="#008000" stroke-width="6.9"/>
<line x1="730.9" x2="775.0" y1="767.5" y2="767.5" stroke="#0000ff" stroke-width="6.9"/>
<line x1="734.2" x2="771.8" y1="808.5" y2="808.5" stroke="#bfbf00" stroke-width="7.0" stroke-dasharray="8.7 8.15"/>
<line x1="996.3" x2="1033.9" y1="767.6" y2="767.6" stroke="#bfbf00" stroke-width="7.0" stroke-dasharray="8.7 8.15"/>
<text y="777.10" font-size="27.48" stroke="#000" stroke-width="0.70" style="white-space:pre"><tspan x="363.25" y="776.75" font-size="27.48" textLength="17.64" lengthAdjust="spacingAndGlyphs">T</tspan><tspan x="381.65" y="776.75" font-size="27.48" textLength="17.58" lengthAdjust="spacingAndGlyphs">h</tspan><tspan x="400.16" y="776.75" font-size="27.48" textLength="17.00" lengthAdjust="spacingAndGlyphs">e</tspan> <tspan x="428.54" y="776.75" font-size="27.48" textLength="15.36" lengthAdjust="spacingAndGlyphs">1</tspan><tspan x="445.98" y="776.75" font-size="27.48" textLength="16.75" lengthAdjust="spacingAndGlyphs">9</tspan><tspan x="464.55" y="776.75" font-size="27.48" textLength="16.78" lengthAdjust="spacingAndGlyphs">6</tspan><tspan x="483.50" y="776.75" font-size="27.48" textLength="15.32" lengthAdjust="spacingAndGlyphs">2</tspan> <tspan x="510.14" y="776.75" font-size="27.48" textLength="7.91" lengthAdjust="spacingAndGlyphs">i</tspan><tspan x="519.29" y="776.75" font-size="27.48" textLength="17.44" lengthAdjust="spacingAndGlyphs">n</tspan><tspan x="538.20" y="776.75" font-size="27.48" textLength="14.34" lengthAdjust="spacingAndGlyphs">s</tspan><tspan x="553.36" y="776.75" font-size="27.48" textLength="11.81" lengthAdjust="spacingAndGlyphs">t</tspan><tspan x="566.13" y="776.75" font-size="27.48" textLength="12.64" lengthAdjust="spacingAndGlyphs">r</tspan><tspan x="579.35" y="776.75" font-size="27.48" textLength="17.44" lengthAdjust="spacingAndGlyphs">u</tspan><tspan x="598.08" y="776.75" font-size="27.48" textLength="26.26" lengthAdjust="spacingAndGlyphs">m</tspan><tspan x="625.27" y="776.75" font-size="27.48" textLength="17.00" lengthAdjust="spacingAndGlyphs">e</tspan><tspan x="643.56" y="776.75" font-size="27.48" textLength="17.44" lengthAdjust="spacingAndGlyphs">n</tspan><tspan x="661.92" y="776.75" font-size="27.48" textLength="11.81" lengthAdjust="spacingAndGlyphs">t</tspan></text>
<text y="817.00" font-size="27.48" stroke="#000" stroke-width="0.70" style="white-space:pre"><tspan x="363.25" y="816.65" font-size="27.48" textLength="17.64" lengthAdjust="spacingAndGlyphs">T</tspan><tspan x="381.65" y="816.65" font-size="27.48" textLength="17.58" lengthAdjust="spacingAndGlyphs">h</tspan><tspan x="400.16" y="816.65" font-size="27.48" textLength="17.00" lengthAdjust="spacingAndGlyphs">e</tspan> <tspan x="428.54" y="816.65" font-size="27.48" textLength="15.36" lengthAdjust="spacingAndGlyphs">1</tspan><tspan x="445.98" y="816.65" font-size="27.48" textLength="16.75" lengthAdjust="spacingAndGlyphs">9</tspan><tspan x="464.34" y="816.65" font-size="27.48" textLength="16.75" lengthAdjust="spacingAndGlyphs">9</tspan><tspan x="483.06" y="816.65" font-size="27.48" textLength="16.21" lengthAdjust="spacingAndGlyphs">8</tspan> <tspan x="510.14" y="816.65" font-size="27.48" textLength="7.91" lengthAdjust="spacingAndGlyphs">i</tspan><tspan x="519.29" y="816.65" font-size="27.48" textLength="17.44" lengthAdjust="spacingAndGlyphs">n</tspan><tspan x="538.20" y="816.65" font-size="27.48" textLength="14.34" lengthAdjust="spacingAndGlyphs">s</tspan><tspan x="553.36" y="816.65" font-size="27.48" textLength="11.81" lengthAdjust="spacingAndGlyphs">t</tspan><tspan x="566.13" y="816.65" font-size="27.48" textLength="12.64" lengthAdjust="spacingAndGlyphs">r</tspan><tspan x="579.35" y="816.65" font-size="27.48" textLength="17.44" lengthAdjust="spacingAndGlyphs">u</tspan><tspan x="598.08" y="816.65" font-size="27.48" textLength="26.26" lengthAdjust="spacingAndGlyphs">m</tspan><tspan x="625.27" y="816.65" font-size="27.48" textLength="17.00" lengthAdjust="spacingAndGlyphs">e</tspan><tspan x="643.56" y="816.65" font-size="27.48" textLength="17.44" lengthAdjust="spacingAndGlyphs">n</tspan><tspan x="661.92" y="816.65" font-size="27.48" textLength="11.81" lengthAdjust="spacingAndGlyphs">t</tspan></text>
<text y="777.10" font-size="27.48" stroke="#000" stroke-width="0.70" style="white-space:pre"><tspan x="800.50" y="776.75" font-size="27.48" textLength="15.25" lengthAdjust="spacingAndGlyphs">F</tspan><tspan x="818.00" y="776.75" font-size="27.48" textLength="7.91" lengthAdjust="spacingAndGlyphs">i</tspan><tspan x="826.75" y="776.75" font-size="27.48" textLength="17.00" lengthAdjust="spacingAndGlyphs">e</tspan><tspan x="844.93" y="776.75" font-size="27.48" textLength="7.91" lengthAdjust="spacingAndGlyphs">l</tspan><tspan x="853.73" y="776.75" font-size="27.48" textLength="17.90" lengthAdjust="spacingAndGlyphs">d</tspan> <tspan x="882.06" y="776.75" font-size="27.48" textLength="26.26" lengthAdjust="spacingAndGlyphs">m</tspan><tspan x="909.53" y="776.75" font-size="27.48" textLength="7.91" lengthAdjust="spacingAndGlyphs">i</tspan><tspan x="918.58" y="776.75" font-size="27.48" textLength="7.91" lengthAdjust="spacingAndGlyphs">l</tspan><tspan x="927.62" y="776.75" font-size="27.48" textLength="7.91" lengthAdjust="spacingAndGlyphs">l</tspan></text>
<text y="817.00" font-size="27.48" stroke="#000" stroke-width="0.70" style="white-space:pre"><tspan x="802.68" y="816.65" font-size="27.48" textLength="15.41" lengthAdjust="spacingAndGlyphs">3</tspan><tspan x="819.91" y="816.65" font-size="27.48" textLength="17.67" lengthAdjust="spacingAndGlyphs">0</tspan><tspan x="838.27" y="816.65" font-size="27.48" textLength="17.67" lengthAdjust="spacingAndGlyphs">0</tspan></text>
<text y="777.10" font-size="27.48" stroke="#000" stroke-width="0.70" style="white-space:pre"><tspan x="1063.45" y="776.75" font-size="27.48" textLength="17.67" lengthAdjust="spacingAndGlyphs">0</tspan></text>
<g transform="translate(866.30,817.80)"><text class="m" x="-1.50" y="-0.04" font-size="28.96" textLength="17.54" lengthAdjust="spacingAndGlyphs">V</text><text class="m" x="13.06" y="0.20" font-size="25.89" textLength="24.78" lengthAdjust="spacingAndGlyphs">m</text><text class="r" x="36.88" y="-8.56" font-size="20.00" textLength="13.82" lengthAdjust="spacingAndGlyphs">−</text><text class="r" x="51.10" y="-10.50" font-size="18.18" textLength="9.66" lengthAdjust="spacingAndGlyphs">1</text></g>
<g transform="translate(1091.90,777.90)"><text class="m" x="-1.50" y="-0.04" font-size="28.96" textLength="17.54" lengthAdjust="spacingAndGlyphs">V</text><text class="m" x="13.06" y="0.20" font-size="25.89" textLength="24.78" lengthAdjust="spacingAndGlyphs">m</text><text class="r" x="36.88" y="-8.56" font-size="20.00" textLength="13.82" lengthAdjust="spacingAndGlyphs">−</text><text class="r" x="51.10" y="-10.50" font-size="18.18" textLength="9.66" lengthAdjust="spacingAndGlyphs">1</text></g>
</svg>
</body></html>
